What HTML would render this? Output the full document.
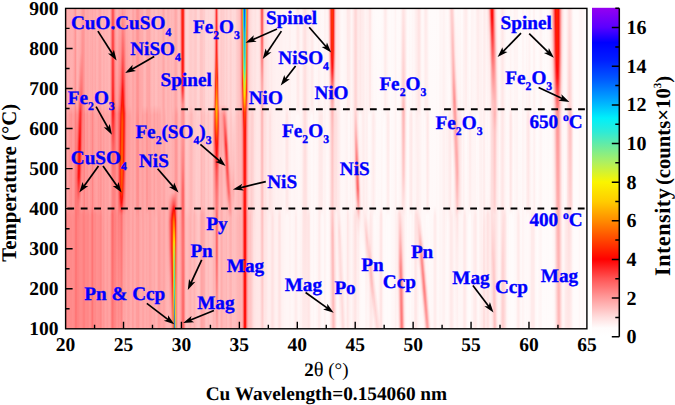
<!DOCTYPE html>
<html><head><meta charset="utf-8"><style>
html,body{margin:0;padding:0;background:#fff;width:675px;height:405px;overflow:hidden;font-family:"Liberation Serif",serif}
text{font-kerning:normal;text-rendering:geometricPrecision}
</style></head><body>
<svg width="675" height="405" viewBox="0 0 675 405" style="position:absolute;left:0;top:0"><defs><linearGradient id="g0" x2="0" y2="1"><stop offset="0" stop-color="#ffa3a3"/><stop offset="0.31" stop-color="#ffa0a0"/><stop offset="0.3723" stop-color="#ff9c9c"/><stop offset="0.6121" stop-color="#ff9a9a"/><stop offset="0.6433" stop-color="#ff8080"/><stop offset="1" stop-color="#ff7f7f"/></linearGradient><linearGradient id="g1" x2="0" y2="1"><stop offset="0" stop-color="#ffafaf"/><stop offset="0.3069" stop-color="#ffacac"/><stop offset="0.3411" stop-color="#ffa3a3"/><stop offset="0.6153" stop-color="#ffa0a0"/><stop offset="0.6433" stop-color="#ff8d8d"/><stop offset="1" stop-color="#ff8d8d"/></linearGradient><linearGradient id="g2" x2="0" y2="1"><stop offset="0" stop-color="#ffafaf"/><stop offset="0.3037" stop-color="#ffacac"/><stop offset="0.3349" stop-color="#ff9e9e"/><stop offset="0.6153" stop-color="#ff9c9c"/><stop offset="0.6433" stop-color="#ff8c8c"/><stop offset="1" stop-color="#ff8c8c"/></linearGradient><linearGradient id="g3" x2="0" y2="1"><stop offset="0" stop-color="#ffaeae"/><stop offset="0.3037" stop-color="#ffabab"/><stop offset="0.3318" stop-color="#ff9898"/><stop offset="0.6215" stop-color="#ff9595"/><stop offset="0.6495" stop-color="#ff8c8c"/><stop offset="1" stop-color="#ff8c8c"/></linearGradient><linearGradient id="g4" x2="0" y2="1"><stop offset="0" stop-color="#ffafaf"/><stop offset="0.3006" stop-color="#ffaeae"/><stop offset="0.3318" stop-color="#ff9696"/><stop offset="0.6215" stop-color="#ff9292"/><stop offset="0.6526" stop-color="#ff8a8a"/><stop offset="1" stop-color="#ff8a8a"/></linearGradient><linearGradient id="g5" x2="0" y2="1"><stop offset="0" stop-color="#ffb0b0"/><stop offset="0.3006" stop-color="#ffafaf"/><stop offset="0.3318" stop-color="#ff9393"/><stop offset="0.6246" stop-color="#ff9090"/><stop offset="0.6651" stop-color="#ff8a8a"/><stop offset="1" stop-color="#ff8a8a"/></linearGradient><linearGradient id="g6" x2="0" y2="1"><stop offset="0" stop-color="#ffb0b0"/><stop offset="0.3037" stop-color="#ffadad"/><stop offset="0.3318" stop-color="#ff9b9b"/><stop offset="0.6153" stop-color="#ff9999"/><stop offset="0.6464" stop-color="#ff8d8d"/><stop offset="1" stop-color="#ff8d8d"/></linearGradient><linearGradient id="g7" x2="0" y2="1"><stop offset="0" stop-color="#ffabab"/><stop offset="0.3037" stop-color="#ffa8a8"/><stop offset="0.3349" stop-color="#ff9b9b"/><stop offset="0.6153" stop-color="#ff9898"/><stop offset="0.6464" stop-color="#ff8b8b"/><stop offset="1" stop-color="#ff8b8b"/></linearGradient><linearGradient id="g8" x2="0" y2="1"><stop offset="0" stop-color="#ffa0a0"/><stop offset="0.3037" stop-color="#ff9e9e"/><stop offset="0.3349" stop-color="#ff9292"/><stop offset="0.6215" stop-color="#ff8c8c"/><stop offset="0.6558" stop-color="#ff8686"/><stop offset="1" stop-color="#ff8686"/></linearGradient><linearGradient id="g9" x2="0" y2="1"><stop offset="0" stop-color="#ff9595"/><stop offset="0.3037" stop-color="#ff9292"/><stop offset="0.3318" stop-color="#ff8181"/><stop offset="0.581" stop-color="#ff7777"/><stop offset="1" stop-color="#ff7676"/></linearGradient><linearGradient id="g10" x2="0" y2="1"><stop offset="0" stop-color="#ffabab"/><stop offset="0.3006" stop-color="#ffa7a7"/><stop offset="0.3318" stop-color="#ff8d8d"/><stop offset="0.4782" stop-color="#ff7676"/><stop offset="0.5343" stop-color="#ff6969"/><stop offset="0.6153" stop-color="#ff7979"/><stop offset="0.6433" stop-color="#ff7575"/><stop offset="1" stop-color="#ff7878"/></linearGradient><linearGradient id="g11" x2="0" y2="1"><stop offset="0" stop-color="#ffb5b5"/><stop offset="0.2726" stop-color="#ffafaf"/><stop offset="0.3037" stop-color="#ffa7a7"/><stop offset="0.3318" stop-color="#ff8e8e"/><stop offset="0.4159" stop-color="#ff6e6e"/><stop offset="0.528" stop-color="#ff4141"/><stop offset="0.5966" stop-color="#ff7171"/><stop offset="0.6184" stop-color="#ff7a7a"/><stop offset="0.6433" stop-color="#ff7c7c"/><stop offset="0.6682" stop-color="#ff8181"/><stop offset="1" stop-color="#ff8181"/></linearGradient><linearGradient id="g12" x2="0" y2="1"><stop offset="0" stop-color="#ffb4b4"/><stop offset="0.2009" stop-color="#ffadad"/><stop offset="0.2788" stop-color="#ff9d9d"/><stop offset="0.3069" stop-color="#ff8989"/><stop offset="0.3349" stop-color="#ff6e6e"/><stop offset="0.3972" stop-color="#ff4646"/><stop offset="0.4377" stop-color="#ff2b2a"/><stop offset="0.5156" stop-color="#ff1313"/><stop offset="0.528" stop-color="#ff1616"/><stop offset="0.5997" stop-color="#ff7474"/><stop offset="0.6184" stop-color="#ff7d7d"/><stop offset="0.6433" stop-color="#ff7e7e"/><stop offset="0.6651" stop-color="#ff8383"/><stop offset="1" stop-color="#ff8383"/></linearGradient><linearGradient id="g13" x2="0" y2="1"><stop offset="0" stop-color="#ffb2b2"/><stop offset="0.1542" stop-color="#ffabab"/><stop offset="0.2414" stop-color="#ff9292"/><stop offset="0.2788" stop-color="#ff7d7d"/><stop offset="0.3069" stop-color="#ff6060"/><stop offset="0.3287" stop-color="#ff4242"/><stop offset="0.4159" stop-color="#ff0b0b"/><stop offset="0.4813" stop-color="#ff0e0e"/><stop offset="0.5249" stop-color="#ff1f1f"/><stop offset="0.5748" stop-color="#ff6868"/><stop offset="0.609" stop-color="#ff8888"/><stop offset="0.6433" stop-color="#ff8585"/><stop offset="0.7648" stop-color="#ff8888"/><stop offset="1" stop-color="#ff8888"/></linearGradient><linearGradient id="g14" x2="0" y2="1"><stop offset="0" stop-color="#ffafaf"/><stop offset="0.1386" stop-color="#ffa6a6"/><stop offset="0.2664" stop-color="#ff7272"/><stop offset="0.3006" stop-color="#ff5252"/><stop offset="0.3255" stop-color="#ff2e2e"/><stop offset="0.3847" stop-color="#ff1f1f"/><stop offset="0.4283" stop-color="#ff2121"/><stop offset="0.5312" stop-color="#ff5d5d"/><stop offset="0.581" stop-color="#ff8787"/><stop offset="0.6121" stop-color="#ff9494"/><stop offset="0.6433" stop-color="#ff8989"/><stop offset="1" stop-color="#ff8b8b"/></linearGradient><linearGradient id="g15" x2="0" y2="1"><stop offset="0" stop-color="#ffa6a6"/><stop offset="0.1355" stop-color="#ff9a9a"/><stop offset="0.2539" stop-color="#ff7272"/><stop offset="0.3318" stop-color="#ff5050"/><stop offset="0.4346" stop-color="#ff6565"/><stop offset="0.5872" stop-color="#ff9a9a"/><stop offset="0.6153" stop-color="#ff9b9b"/><stop offset="0.6433" stop-color="#ff8a8a"/><stop offset="1" stop-color="#ff8a8a"/></linearGradient><linearGradient id="g16" x2="0" y2="1"><stop offset="0" stop-color="#ff9d9d"/><stop offset="0.1386" stop-color="#ff9191"/><stop offset="0.2321" stop-color="#ff8080"/><stop offset="0.3162" stop-color="#ff7575"/><stop offset="0.581" stop-color="#ff9797"/><stop offset="0.6153" stop-color="#ff9696"/><stop offset="0.6433" stop-color="#ff8686"/><stop offset="1" stop-color="#ff8686"/></linearGradient><linearGradient id="g17" x2="0" y2="1"><stop offset="0" stop-color="#ff9999"/><stop offset="0.257" stop-color="#ff8f8f"/><stop offset="0.3069" stop-color="#ff8b8b"/><stop offset="0.3349" stop-color="#ff8383"/><stop offset="0.6059" stop-color="#ff8d8d"/><stop offset="0.6495" stop-color="#ff7f7f"/><stop offset="1" stop-color="#ff7f7f"/></linearGradient><linearGradient id="g18" x2="0" y2="1"><stop offset="0" stop-color="#ff9e9e"/><stop offset="0.3006" stop-color="#ff9b9b"/><stop offset="0.3318" stop-color="#ff8484"/><stop offset="0.6215" stop-color="#ff8383"/><stop offset="0.6994" stop-color="#ff7f7f"/><stop offset="1" stop-color="#ff7f7f"/></linearGradient><linearGradient id="g19" x2="0" y2="1"><stop offset="0" stop-color="#ffacac"/><stop offset="0.3037" stop-color="#ffa9a9"/><stop offset="0.3318" stop-color="#ff9a9a"/><stop offset="0.6153" stop-color="#ff9797"/><stop offset="0.6464" stop-color="#ff8888"/><stop offset="1" stop-color="#ff8888"/></linearGradient><linearGradient id="g20" x2="0" y2="1"><stop offset="0" stop-color="#ffabab"/><stop offset="0.3037" stop-color="#ffa9a9"/><stop offset="0.3318" stop-color="#ff9898"/><stop offset="0.6153" stop-color="#ff9595"/><stop offset="0.6464" stop-color="#ff8989"/><stop offset="1" stop-color="#ff8989"/></linearGradient><linearGradient id="g21" x2="0" y2="1"><stop offset="0" stop-color="#ffa9a9"/><stop offset="0.3037" stop-color="#ffa6a6"/><stop offset="0.3318" stop-color="#ff9494"/><stop offset="0.6153" stop-color="#ff9292"/><stop offset="0.6495" stop-color="#ff8787"/><stop offset="1" stop-color="#ff8787"/></linearGradient><linearGradient id="g22" x2="0" y2="1"><stop offset="0" stop-color="#ffabab"/><stop offset="0.3037" stop-color="#ffa9a9"/><stop offset="0.338" stop-color="#ff9e9e"/><stop offset="0.6153" stop-color="#ff9b9b"/><stop offset="0.6433" stop-color="#ff8989"/><stop offset="1" stop-color="#ff8989"/></linearGradient><linearGradient id="g23" x2="0" y2="1"><stop offset="0" stop-color="#ffafaf"/><stop offset="0.3037" stop-color="#ffadad"/><stop offset="0.3349" stop-color="#ffa0a0"/><stop offset="0.6153" stop-color="#ff9e9e"/><stop offset="0.6464" stop-color="#ff9090"/><stop offset="1" stop-color="#ff9090"/></linearGradient><linearGradient id="g24" x2="0" y2="1"><stop offset="0" stop-color="#ffacac"/><stop offset="0.3037" stop-color="#ffa9a9"/><stop offset="0.3318" stop-color="#ff9999"/><stop offset="0.6184" stop-color="#ff9696"/><stop offset="0.6526" stop-color="#ff8d8d"/><stop offset="1" stop-color="#ff8d8d"/></linearGradient><linearGradient id="g25" x2="0" y2="1"><stop offset="0" stop-color="#ffacac"/><stop offset="0.3006" stop-color="#ffaaaa"/><stop offset="0.3318" stop-color="#ff9595"/><stop offset="0.6121" stop-color="#ff9393"/><stop offset="0.6433" stop-color="#ff7f7f"/><stop offset="1" stop-color="#ff7f7f"/></linearGradient><linearGradient id="g26" x2="0" y2="1"><stop offset="0" stop-color="#ffa8a8"/><stop offset="0.3006" stop-color="#ffa5a5"/><stop offset="0.3287" stop-color="#ff8787"/><stop offset="0.6153" stop-color="#ff8383"/><stop offset="0.6464" stop-color="#ff7474"/><stop offset="1" stop-color="#ff7474"/></linearGradient><linearGradient id="g27" x2="0" y2="1"><stop offset="0" stop-color="#ffaeae"/><stop offset="0.3006" stop-color="#ffacac"/><stop offset="0.3318" stop-color="#ff9595"/><stop offset="0.6153" stop-color="#ff9292"/><stop offset="0.6464" stop-color="#ff8484"/><stop offset="1" stop-color="#ff8484"/></linearGradient><linearGradient id="g28" x2="0" y2="1"><stop offset="0" stop-color="#ffaeae"/><stop offset="0.3037" stop-color="#ffabab"/><stop offset="0.3349" stop-color="#ff9e9e"/><stop offset="0.6153" stop-color="#ff9b9b"/><stop offset="0.6433" stop-color="#ff8a8a"/><stop offset="1" stop-color="#ff8a8a"/></linearGradient><linearGradient id="g29" x2="0" y2="1"><stop offset="0" stop-color="#ffaaaa"/><stop offset="0.31" stop-color="#ffa7a7"/><stop offset="0.3536" stop-color="#ffa1a1"/><stop offset="0.6153" stop-color="#ff9e9e"/><stop offset="0.6433" stop-color="#ff8989"/><stop offset="1" stop-color="#ff8989"/></linearGradient><linearGradient id="g30" x2="0" y2="1"><stop offset="0" stop-color="#ffb2b2"/><stop offset="0.3037" stop-color="#ffb0b0"/><stop offset="0.3349" stop-color="#ffa3a3"/><stop offset="0.6153" stop-color="#ffa1a1"/><stop offset="0.6433" stop-color="#ff9090"/><stop offset="1" stop-color="#ff9090"/></linearGradient><linearGradient id="g31" x2="0" y2="1"><stop offset="0" stop-color="#ffb3b3"/><stop offset="0.3037" stop-color="#ffb0b0"/><stop offset="0.3318" stop-color="#ffa0a0"/><stop offset="0.6153" stop-color="#ff9e9e"/><stop offset="0.6464" stop-color="#ff9090"/><stop offset="1" stop-color="#ff9090"/></linearGradient><linearGradient id="g32" x2="0" y2="1"><stop offset="0" stop-color="#ffadad"/><stop offset="0.3037" stop-color="#ffaaaa"/><stop offset="0.3318" stop-color="#ff9999"/><stop offset="0.6184" stop-color="#ff9696"/><stop offset="0.6526" stop-color="#ff8e8e"/><stop offset="1" stop-color="#ff8e8e"/></linearGradient><linearGradient id="g33" x2="0" y2="1"><stop offset="0" stop-color="#ffa7a7"/><stop offset="0.3069" stop-color="#ffa5a5"/><stop offset="0.3411" stop-color="#ff9c9c"/><stop offset="0.6153" stop-color="#ff9a9a"/><stop offset="0.6464" stop-color="#ff8d8d"/><stop offset="1" stop-color="#ff8d8d"/></linearGradient><linearGradient id="g34" x2="0" y2="1"><stop offset="0" stop-color="#ffa8a8"/><stop offset="0.3037" stop-color="#ffa5a5"/><stop offset="0.3318" stop-color="#ff9494"/><stop offset="0.6153" stop-color="#ff9292"/><stop offset="0.6495" stop-color="#ff8686"/><stop offset="1" stop-color="#ff8686"/></linearGradient><linearGradient id="g35" x2="0" y2="1"><stop offset="0" stop-color="#ffb0b0"/><stop offset="0.3037" stop-color="#ffaeae"/><stop offset="0.3318" stop-color="#ff9a9a"/><stop offset="0.6184" stop-color="#ff9696"/><stop offset="0.6495" stop-color="#ff8d8d"/><stop offset="1" stop-color="#ff8d8d"/></linearGradient><linearGradient id="g36" x2="0" y2="1"><stop offset="0" stop-color="#ffb5b5"/><stop offset="0.3037" stop-color="#ffb3b3"/><stop offset="0.3349" stop-color="#ffa3a3"/><stop offset="0.6184" stop-color="#ffa1a1"/><stop offset="0.6589" stop-color="#ff9a9a"/><stop offset="1" stop-color="#ff9a9a"/></linearGradient><linearGradient id="g37" x2="0" y2="1"><stop offset="0" stop-color="#ffafaf"/><stop offset="0.3037" stop-color="#ffacac"/><stop offset="0.3349" stop-color="#ff9c9c"/><stop offset="0.6215" stop-color="#ff9a9a"/><stop offset="0.6931" stop-color="#ff9696"/><stop offset="1" stop-color="#ff9696"/></linearGradient><linearGradient id="g38" x2="0" y2="1"><stop offset="0" stop-color="#ffb1b1"/><stop offset="0.3037" stop-color="#ffaeae"/><stop offset="0.3349" stop-color="#ffa1a1"/><stop offset="0.6246" stop-color="#ff9e9e"/><stop offset="1" stop-color="#ff9b9b"/></linearGradient><linearGradient id="g39" x2="0" y2="1"><stop offset="0" stop-color="#ffb5b5"/><stop offset="0.3037" stop-color="#ffb3b3"/><stop offset="0.3349" stop-color="#ffa6a6"/><stop offset="0.6277" stop-color="#ffa4a4"/><stop offset="1" stop-color="#ffa2a2"/></linearGradient><linearGradient id="g40" x2="0" y2="1"><stop offset="0" stop-color="#ffb3b3"/><stop offset="0.3037" stop-color="#ffb0b0"/><stop offset="0.3349" stop-color="#ffa3a3"/><stop offset="0.6246" stop-color="#ffa1a1"/><stop offset="0.8458" stop-color="#ff9e9e"/><stop offset="1" stop-color="#ff9e9e"/></linearGradient><linearGradient id="g41" x2="0" y2="1"><stop offset="0" stop-color="#ffb3b3"/><stop offset="0.3037" stop-color="#ffb0b0"/><stop offset="0.3349" stop-color="#ffa2a2"/><stop offset="0.6215" stop-color="#ffa0a0"/><stop offset="0.6682" stop-color="#ff9b9b"/><stop offset="1" stop-color="#ff9b9b"/></linearGradient><linearGradient id="g42" x2="0" y2="1"><stop offset="0" stop-color="#ffb7b7"/><stop offset="0.3037" stop-color="#ffb4b4"/><stop offset="0.3349" stop-color="#ffa5a5"/><stop offset="0.6246" stop-color="#ffa3a3"/><stop offset="1" stop-color="#ffa1a1"/></linearGradient><linearGradient id="g43" x2="0" y2="1"><stop offset="0" stop-color="#ffb9b9"/><stop offset="0.3037" stop-color="#ffb4b4"/><stop offset="0.3349" stop-color="#ffa9a9"/><stop offset="0.6184" stop-color="#ffaaaa"/><stop offset="0.6558" stop-color="#ffa3a3"/><stop offset="1" stop-color="#ffa3a3"/></linearGradient><linearGradient id="g44" x2="0" y2="1"><stop offset="0" stop-color="#ffa9a9"/><stop offset="0.3037" stop-color="#ff9f9f"/><stop offset="0.3349" stop-color="#ff9797"/><stop offset="0.5685" stop-color="#ffa6a6"/><stop offset="0.6184" stop-color="#ffa3a3"/><stop offset="0.6464" stop-color="#ff9898"/><stop offset="1" stop-color="#ff9a9a"/></linearGradient><linearGradient id="g45" x2="0" y2="1"><stop offset="0" stop-color="#ff8282"/><stop offset="0.2788" stop-color="#ff6c6c"/><stop offset="0.3318" stop-color="#ff6262"/><stop offset="0.4502" stop-color="#ff8585"/><stop offset="0.5498" stop-color="#ff9494"/><stop offset="0.6121" stop-color="#ff9393"/><stop offset="0.6433" stop-color="#ff7d7d"/><stop offset="1" stop-color="#ff8181"/></linearGradient><linearGradient id="g46" x2="0" y2="1"><stop offset="0" stop-color="#ff5656"/><stop offset="0.2414" stop-color="#ff3333"/><stop offset="0.3069" stop-color="#ff2020"/><stop offset="0.3318" stop-color="#ff2525"/><stop offset="0.4252" stop-color="#ff6363"/><stop offset="0.5343" stop-color="#ff8383"/><stop offset="0.6121" stop-color="#ff8484"/><stop offset="0.6433" stop-color="#ff6c6c"/><stop offset="1" stop-color="#ff7373"/></linearGradient><linearGradient id="g47" x2="0" y2="1"><stop offset="0" stop-color="#ff5f5f"/><stop offset="0.2352" stop-color="#ff3939"/><stop offset="0.3224" stop-color="#ff1e1e"/><stop offset="0.366" stop-color="#ff3a3a"/><stop offset="0.4346" stop-color="#ff6262"/><stop offset="0.5374" stop-color="#ff8080"/><stop offset="0.6153" stop-color="#ff8080"/><stop offset="0.6464" stop-color="#ff7474"/><stop offset="1" stop-color="#ff7c7c"/></linearGradient><linearGradient id="g48" x2="0" y2="1"><stop offset="0" stop-color="#ff8989"/><stop offset="0.2632" stop-color="#ff6c6c"/><stop offset="0.3037" stop-color="#ff6060"/><stop offset="0.3287" stop-color="#ff4d4d"/><stop offset="0.4502" stop-color="#ff7171"/><stop offset="0.5498" stop-color="#ff8181"/><stop offset="0.6246" stop-color="#ff8181"/><stop offset="0.7586" stop-color="#ff8080"/><stop offset="1" stop-color="#ff8585"/></linearGradient><linearGradient id="g49" x2="0" y2="1"><stop offset="0" stop-color="#ffa4a4"/><stop offset="0.2882" stop-color="#ff8e8e"/><stop offset="0.3069" stop-color="#ff8585"/><stop offset="0.3287" stop-color="#ff7171"/><stop offset="0.6028" stop-color="#ff8989"/><stop offset="0.6589" stop-color="#ff8080"/><stop offset="1" stop-color="#ff8888"/></linearGradient><linearGradient id="g50" x2="0" y2="1"><stop offset="0" stop-color="#ffafaf"/><stop offset="0.2975" stop-color="#ff9c9c"/><stop offset="0.3318" stop-color="#ff8787"/><stop offset="0.6153" stop-color="#ff9494"/><stop offset="0.6464" stop-color="#ff8888"/><stop offset="1" stop-color="#ff9191"/></linearGradient><linearGradient id="g51" x2="0" y2="1"><stop offset="0" stop-color="#ffb2b2"/><stop offset="0.2944" stop-color="#ff9d9d"/><stop offset="0.3318" stop-color="#ff8585"/><stop offset="0.6184" stop-color="#ff9191"/><stop offset="0.6495" stop-color="#ff8989"/><stop offset="1" stop-color="#ff9393"/></linearGradient><linearGradient id="g52" x2="0" y2="1"><stop offset="0" stop-color="#ffabab"/><stop offset="0.2601" stop-color="#ff9494"/><stop offset="0.3006" stop-color="#ff8a8a"/><stop offset="0.3287" stop-color="#ff6f6f"/><stop offset="0.5685" stop-color="#ff6d6d"/><stop offset="0.6589" stop-color="#ff8181"/><stop offset="1" stop-color="#ff8d8d"/></linearGradient><linearGradient id="g53" x2="0" y2="1"><stop offset="0" stop-color="#ffa7a7"/><stop offset="0.2259" stop-color="#ff8d8d"/><stop offset="0.3006" stop-color="#ff7575"/><stop offset="0.3287" stop-color="#ff5858"/><stop offset="0.4564" stop-color="#ff4441"/><stop offset="0.5654" stop-color="#ff3e3b"/><stop offset="0.5935" stop-color="#ff4c4c"/><stop offset="0.6277" stop-color="#ff6e6e"/><stop offset="0.6464" stop-color="#ff8181"/><stop offset="1" stop-color="#ff9292"/></linearGradient><linearGradient id="g54" x2="0" y2="1"><stop offset="0" stop-color="#ffa9a9"/><stop offset="0.1542" stop-color="#ff9090"/><stop offset="0.2414" stop-color="#ff7474"/><stop offset="0.3006" stop-color="#ff5151"/><stop offset="0.3287" stop-color="#ff2d27"/><stop offset="0.3847" stop-color="#ff1b10"/><stop offset="0.4065" stop-color="#ff190b"/><stop offset="0.4875" stop-color="#ff2d09"/><stop offset="0.5654" stop-color="#ff2708"/><stop offset="0.5872" stop-color="#ff120d"/><stop offset="0.609" stop-color="#ff2c2c"/><stop offset="0.6402" stop-color="#ff7272"/><stop offset="0.6495" stop-color="#ff7979"/><stop offset="1" stop-color="#ff9090"/></linearGradient><linearGradient id="g55" x2="0" y2="1"><stop offset="0" stop-color="#ffa4a4"/><stop offset="0.1355" stop-color="#ff7d7d"/><stop offset="0.229" stop-color="#ff5252"/><stop offset="0.2882" stop-color="#ff221e"/><stop offset="0.3037" stop-color="#ff130c"/><stop offset="0.3349" stop-color="#ff3404"/><stop offset="0.366" stop-color="#ff4202"/><stop offset="0.4813" stop-color="#ff6000"/><stop offset="0.5623" stop-color="#ff4a00"/><stop offset="0.5903" stop-color="#ff1902"/><stop offset="0.6059" stop-color="#ff0d0c"/><stop offset="0.6184" stop-color="#ff2b2b"/><stop offset="0.6402" stop-color="#ff6767"/><stop offset="0.6464" stop-color="#ff6f6f"/><stop offset="1" stop-color="#ff8888"/></linearGradient><linearGradient id="g56" x2="0" y2="1"><stop offset="0" stop-color="#ff9c9c"/><stop offset="0.1449" stop-color="#ff6161"/><stop offset="0.2321" stop-color="#ff2828"/><stop offset="0.2601" stop-color="#ff0e0c"/><stop offset="0.3037" stop-color="#ff1f00"/><stop offset="0.3349" stop-color="#ff4300"/><stop offset="0.3567" stop-color="#ff5000"/><stop offset="0.4751" stop-color="#ff5900"/><stop offset="0.5654" stop-color="#ff3508"/><stop offset="0.5872" stop-color="#ff150e"/><stop offset="0.5935" stop-color="#ff1a16"/><stop offset="0.6121" stop-color="#ff3b3b"/><stop offset="0.6371" stop-color="#ff7373"/><stop offset="0.6464" stop-color="#ff8080"/><stop offset="1" stop-color="#ff9696"/></linearGradient><linearGradient id="g57" x2="0" y2="1"><stop offset="0" stop-color="#ffa2a2"/><stop offset="0.2227" stop-color="#ff4242"/><stop offset="0.2726" stop-color="#ff201e"/><stop offset="0.3069" stop-color="#ff120a"/><stop offset="0.3536" stop-color="#ff2705"/><stop offset="0.4782" stop-color="#ff1b0a"/><stop offset="0.4938" stop-color="#ff1b0f"/><stop offset="0.5654" stop-color="#ff403a"/><stop offset="0.6121" stop-color="#ff7171"/><stop offset="0.6433" stop-color="#ff9595"/><stop offset="1" stop-color="#ffa5a5"/></linearGradient><linearGradient id="g58" x2="0" y2="1"><stop offset="0" stop-color="#ffa3a3"/><stop offset="0.204" stop-color="#ff6b6b"/><stop offset="0.2975" stop-color="#ff4c4c"/><stop offset="0.3287" stop-color="#ff2b27"/><stop offset="0.366" stop-color="#ff2d29"/><stop offset="0.4938" stop-color="#ff4a4a"/><stop offset="0.5748" stop-color="#ff6c6c"/><stop offset="0.6215" stop-color="#ff8a8a"/><stop offset="0.6464" stop-color="#ff9999"/><stop offset="1" stop-color="#ffa4a4"/></linearGradient><linearGradient id="g59" x2="0" y2="1"><stop offset="0" stop-color="#ffa7a7"/><stop offset="0.2134" stop-color="#ff8b8b"/><stop offset="0.3006" stop-color="#ff7e7e"/><stop offset="0.3287" stop-color="#ff6565"/><stop offset="0.5093" stop-color="#ff7e7e"/><stop offset="0.6184" stop-color="#ff9494"/><stop offset="0.6464" stop-color="#ff9f9f"/><stop offset="1" stop-color="#ffa6a6"/></linearGradient><linearGradient id="g60" x2="0" y2="1"><stop offset="0" stop-color="#ffaeae"/><stop offset="0.3037" stop-color="#ff9a9a"/><stop offset="0.3349" stop-color="#ff8f8f"/><stop offset="0.7056" stop-color="#ffa6a6"/><stop offset="1" stop-color="#ffabab"/></linearGradient><linearGradient id="g61" x2="0" y2="1"><stop offset="0" stop-color="#ffadad"/><stop offset="0.31" stop-color="#ff9e9e"/><stop offset="0.3442" stop-color="#ff9999"/><stop offset="0.6589" stop-color="#ffa0a0"/><stop offset="1" stop-color="#ffa4a4"/></linearGradient><linearGradient id="g62" x2="0" y2="1"><stop offset="0" stop-color="#ffb0b0"/><stop offset="0.3037" stop-color="#ffa6a6"/><stop offset="0.338" stop-color="#ff9b9b"/><stop offset="0.7336" stop-color="#ffa0a0"/><stop offset="1" stop-color="#ffa2a2"/></linearGradient><linearGradient id="g63" x2="0" y2="1"><stop offset="0" stop-color="#ffb0b0"/><stop offset="0.3037" stop-color="#ffa8a8"/><stop offset="0.338" stop-color="#ff9d9d"/><stop offset="1" stop-color="#ffa5a5"/></linearGradient><linearGradient id="g64" x2="0" y2="1"><stop offset="0" stop-color="#ffb3b3"/><stop offset="0.3037" stop-color="#ffacac"/><stop offset="0.3349" stop-color="#ffa1a1"/><stop offset="0.6277" stop-color="#ffa7a7"/><stop offset="1" stop-color="#ffabab"/></linearGradient><linearGradient id="g65" x2="0" y2="1"><stop offset="0" stop-color="#ffb2b2"/><stop offset="0.3069" stop-color="#ffacac"/><stop offset="0.3442" stop-color="#ffa5a5"/><stop offset="1" stop-color="#ffaaaa"/></linearGradient><linearGradient id="g66" x2="0" y2="1"><stop offset="0" stop-color="#ffa7a7"/><stop offset="0.6246" stop-color="#ffa1a1"/><stop offset="0.6963" stop-color="#ff9e9e"/><stop offset="1" stop-color="#ff9e9e"/></linearGradient><linearGradient id="g67" x2="0" y2="1"><stop offset="0" stop-color="#ffa4a4"/><stop offset="1" stop-color="#ffa1a1"/></linearGradient><linearGradient id="g68" x2="0" y2="1"><stop offset="0" stop-color="#ffacac"/><stop offset="0.3255" stop-color="#ffa9a9"/><stop offset="1" stop-color="#ffaaaa"/></linearGradient><linearGradient id="g69" x2="0" y2="1"><stop offset="0" stop-color="#ffaaaa"/><stop offset="0.31" stop-color="#ffa7a7"/><stop offset="0.366" stop-color="#ffa2a2"/><stop offset="0.6277" stop-color="#ffa6a6"/><stop offset="1" stop-color="#ffa8a8"/></linearGradient><linearGradient id="g70" x2="0" y2="1"><stop offset="0" stop-color="#ff9b9b"/><stop offset="0.3069" stop-color="#ff9898"/><stop offset="0.3505" stop-color="#ff9292"/><stop offset="0.6184" stop-color="#ff9595"/><stop offset="0.6558" stop-color="#ff9d9d"/><stop offset="1" stop-color="#ff9d9d"/></linearGradient><linearGradient id="g71" x2="0" y2="1"><stop offset="0" stop-color="#ff9595"/><stop offset="0.3069" stop-color="#ff9292"/><stop offset="0.3505" stop-color="#ff8c8c"/><stop offset="0.6153" stop-color="#ff8f8f"/><stop offset="0.6464" stop-color="#ff9c9c"/><stop offset="1" stop-color="#ff9c9c"/></linearGradient><linearGradient id="g72" x2="0" y2="1"><stop offset="0" stop-color="#ff9898"/><stop offset="0.3069" stop-color="#ff9696"/><stop offset="0.3442" stop-color="#ff8e8e"/><stop offset="0.6184" stop-color="#ff9191"/><stop offset="0.6526" stop-color="#ff9a9a"/><stop offset="1" stop-color="#ff9a9a"/></linearGradient><linearGradient id="g73" x2="0" y2="1"><stop offset="0" stop-color="#ffa3a3"/><stop offset="1" stop-color="#ffa4a4"/></linearGradient><linearGradient id="g74" x2="0" y2="1"><stop offset="0" stop-color="#ffa9a9"/><stop offset="0.3255" stop-color="#ffa6a6"/><stop offset="0.6246" stop-color="#ffa8a8"/><stop offset="1" stop-color="#ffabab"/></linearGradient><linearGradient id="g75" x2="0" y2="1"><stop offset="0" stop-color="#ffabab"/><stop offset="0.31" stop-color="#ffa8a8"/><stop offset="0.3567" stop-color="#ffa3a3"/><stop offset="0.6184" stop-color="#ffa5a5"/><stop offset="0.6651" stop-color="#ffabab"/><stop offset="1" stop-color="#ffabab"/></linearGradient><linearGradient id="g76" x2="0" y2="1"><stop offset="0" stop-color="#ffabab"/><stop offset="0.3037" stop-color="#ffa9a9"/><stop offset="0.3349" stop-color="#ff9d9d"/><stop offset="0.6215" stop-color="#ffa0a0"/><stop offset="0.6963" stop-color="#ffa4a4"/><stop offset="1" stop-color="#ffa4a4"/></linearGradient><linearGradient id="g77" x2="0" y2="1"><stop offset="0" stop-color="#ffb3b3"/><stop offset="0.3037" stop-color="#ffb0b0"/><stop offset="0.3349" stop-color="#ffa2a2"/><stop offset="1" stop-color="#ffa3a3"/></linearGradient><linearGradient id="g78" x2="0" y2="1"><stop offset="0" stop-color="#ffb9b9"/><stop offset="0.3037" stop-color="#ffb6b6"/><stop offset="0.3318" stop-color="#ffa6a6"/><stop offset="0.6277" stop-color="#ffa9a9"/><stop offset="1" stop-color="#ffabab"/></linearGradient><linearGradient id="g79" x2="0" y2="1"><stop offset="0" stop-color="#ffb7b7"/><stop offset="0.3037" stop-color="#ffb4b4"/><stop offset="0.3318" stop-color="#ffa5a5"/><stop offset="0.6215" stop-color="#ffa7a7"/><stop offset="0.69" stop-color="#ffacac"/><stop offset="1" stop-color="#ffacac"/></linearGradient><linearGradient id="g80" x2="0" y2="1"><stop offset="0" stop-color="#ffabab"/><stop offset="0.3037" stop-color="#ffa8a8"/><stop offset="0.3318" stop-color="#ff9494"/><stop offset="0.6153" stop-color="#ff9797"/><stop offset="0.6433" stop-color="#ffa6a6"/><stop offset="1" stop-color="#ffa6a6"/></linearGradient><linearGradient id="g81" x2="0" y2="1"><stop offset="0" stop-color="#ffa6a6"/><stop offset="0.3037" stop-color="#ffa4a4"/><stop offset="0.3318" stop-color="#ff9595"/><stop offset="0.6121" stop-color="#ff9696"/><stop offset="0.6433" stop-color="#ffa9a9"/><stop offset="1" stop-color="#ffa9a9"/></linearGradient><linearGradient id="g82" x2="0" y2="1"><stop offset="0" stop-color="#ffa7a7"/><stop offset="0.3069" stop-color="#ffa4a4"/><stop offset="0.3505" stop-color="#ff9e9e"/><stop offset="0.6184" stop-color="#ffa1a1"/><stop offset="0.6526" stop-color="#ffa9a9"/><stop offset="1" stop-color="#ffa9a9"/></linearGradient><linearGradient id="g83" x2="0" y2="1"><stop offset="0" stop-color="#ffa6a6"/><stop offset="0.31" stop-color="#ffa2a2"/><stop offset="0.3536" stop-color="#ff9d9d"/><stop offset="0.6246" stop-color="#ffa0a0"/><stop offset="1" stop-color="#ffa3a3"/></linearGradient><linearGradient id="g84" x2="0" y2="1"><stop offset="0" stop-color="#ffb0b0"/><stop offset="0.3037" stop-color="#ffaeae"/><stop offset="0.3349" stop-color="#ff9f9f"/><stop offset="1" stop-color="#ffa3a3"/></linearGradient><linearGradient id="g85" x2="0" y2="1"><stop offset="0" stop-color="#ffb9b9"/><stop offset="0.3037" stop-color="#ffb6b6"/><stop offset="0.3349" stop-color="#ffa8a8"/><stop offset="1" stop-color="#ffa6a6"/></linearGradient><linearGradient id="g86" x2="0" y2="1"><stop offset="0" stop-color="#ffbcbc"/><stop offset="0.3037" stop-color="#ffb9b9"/><stop offset="0.3349" stop-color="#ffabab"/><stop offset="1" stop-color="#ffabab"/></linearGradient><linearGradient id="g87" x2="0" y2="1"><stop offset="0" stop-color="#ffb8b8"/><stop offset="0.3037" stop-color="#ffb5b5"/><stop offset="0.3318" stop-color="#ffa4a4"/><stop offset="0.6184" stop-color="#ffa6a6"/><stop offset="0.6713" stop-color="#ffabab"/><stop offset="1" stop-color="#ffabab"/></linearGradient><linearGradient id="g88" x2="0" y2="1"><stop offset="0" stop-color="#ffb6b6"/><stop offset="0.3006" stop-color="#ffb4b4"/><stop offset="0.3318" stop-color="#ff9e9e"/><stop offset="0.6184" stop-color="#ffa0a0"/><stop offset="0.6558" stop-color="#ffa7a7"/><stop offset="1" stop-color="#ffa7a7"/></linearGradient><linearGradient id="g89" x2="0" y2="1"><stop offset="0" stop-color="#ffbebe"/><stop offset="0.3006" stop-color="#ffbcbc"/><stop offset="0.3318" stop-color="#ffa8a8"/><stop offset="0.6215" stop-color="#ffabab"/><stop offset="0.6713" stop-color="#ffb0b0"/><stop offset="1" stop-color="#ffb0b0"/></linearGradient><linearGradient id="g90" x2="0" y2="1"><stop offset="0" stop-color="#ffbebe"/><stop offset="0.3006" stop-color="#ffbcbc"/><stop offset="0.3318" stop-color="#ffa8a8"/><stop offset="0.6184" stop-color="#ffabab"/><stop offset="0.6558" stop-color="#ffb2b2"/><stop offset="1" stop-color="#ffb2b2"/></linearGradient><linearGradient id="g91" x2="0" y2="1"><stop offset="0" stop-color="#ffbaba"/><stop offset="0.3037" stop-color="#ffb7b7"/><stop offset="0.3318" stop-color="#ffa2a2"/><stop offset="0.6215" stop-color="#ffa5a5"/><stop offset="0.6745" stop-color="#ffaaaa"/><stop offset="1" stop-color="#ffaaaa"/></linearGradient><linearGradient id="g92" x2="0" y2="1"><stop offset="0" stop-color="#ffb5b5"/><stop offset="0.3037" stop-color="#ffb3b3"/><stop offset="0.3349" stop-color="#ffa6a6"/><stop offset="0.6215" stop-color="#ffa3a3"/><stop offset="0.6745" stop-color="#ff9e9e"/><stop offset="1" stop-color="#ff9e9e"/></linearGradient><linearGradient id="g93" x2="0" y2="1"><stop offset="0" stop-color="#ffb8b8"/><stop offset="0.3037" stop-color="#ffb5b5"/><stop offset="0.3318" stop-color="#ffa6a6"/><stop offset="0.6215" stop-color="#ffa3a3"/><stop offset="0.6776" stop-color="#ff9e9e"/><stop offset="1" stop-color="#ff9e9e"/></linearGradient><linearGradient id="g94" x2="0" y2="1"><stop offset="0" stop-color="#ffb8b8"/><stop offset="0.3037" stop-color="#ffb5b5"/><stop offset="0.3349" stop-color="#ffa8a8"/><stop offset="0.6308" stop-color="#ffa5a5"/><stop offset="1" stop-color="#ffa4a4"/></linearGradient><linearGradient id="g95" x2="0" y2="1"><stop offset="0" stop-color="#ffb6b6"/><stop offset="0.31" stop-color="#ffb4b4"/><stop offset="0.3536" stop-color="#ffaeae"/><stop offset="0.6308" stop-color="#ffabab"/><stop offset="1" stop-color="#ffa8a8"/></linearGradient><linearGradient id="g96" x2="0" y2="1"><stop offset="0" stop-color="#ffaeae"/><stop offset="0.6308" stop-color="#ffabab"/><stop offset="1" stop-color="#ffa8a8"/></linearGradient><linearGradient id="g97" x2="0" y2="1"><stop offset="0" stop-color="#ffa7a7"/><stop offset="1" stop-color="#ffa3a3"/></linearGradient><linearGradient id="g98" x2="0" y2="1"><stop offset="0" stop-color="#ffafaf"/><stop offset="0.3069" stop-color="#ffacac"/><stop offset="0.3442" stop-color="#ffa5a5"/><stop offset="1" stop-color="#ffa5a5"/></linearGradient><linearGradient id="g99" x2="0" y2="1"><stop offset="0" stop-color="#ffbaba"/><stop offset="0.3069" stop-color="#ffb7b7"/><stop offset="0.3411" stop-color="#ffafaf"/><stop offset="1" stop-color="#ffadad"/></linearGradient><linearGradient id="g100" x2="0" y2="1"><stop offset="0" stop-color="#ffbbbb"/><stop offset="0.3131" stop-color="#ffb8b8"/><stop offset="0.6215" stop-color="#ffb1b1"/><stop offset="0.7586" stop-color="#ffb1b1"/><stop offset="1" stop-color="#ffb3b3"/></linearGradient><linearGradient id="g101" x2="0" y2="1"><stop offset="0" stop-color="#ffb3b3"/><stop offset="0.5872" stop-color="#ffb0b0"/><stop offset="0.69" stop-color="#ffabab"/><stop offset="0.905" stop-color="#ffb5b5"/><stop offset="1" stop-color="#ffb5b5"/></linearGradient><linearGradient id="g102" x2="0" y2="1"><stop offset="0" stop-color="#ffb2b2"/><stop offset="0.5779" stop-color="#ffb2b2"/><stop offset="0.6682" stop-color="#ff9b9b"/><stop offset="0.8583" stop-color="#ffb3b3"/><stop offset="1" stop-color="#ffb6b6"/></linearGradient><linearGradient id="g103" x2="0" y2="1"><stop offset="0" stop-color="#ffb6b6"/><stop offset="0.5779" stop-color="#ffb2b2"/><stop offset="0.6215" stop-color="#ff9595"/><stop offset="0.6651" stop-color="#ff7979"/><stop offset="0.7492" stop-color="#ff8989"/><stop offset="0.8333" stop-color="#ffa3a3"/><stop offset="0.9798" stop-color="#ffb3b3"/><stop offset="1" stop-color="#ffb3b3"/></linearGradient><linearGradient id="g104" x2="0" y2="1"><stop offset="0" stop-color="#ffbaba"/><stop offset="0.3162" stop-color="#ffb7b7"/><stop offset="0.5779" stop-color="#ffb2b2"/><stop offset="0.6184" stop-color="#ff8888"/><stop offset="0.662" stop-color="#ff5454"/><stop offset="0.743" stop-color="#ff6060"/><stop offset="0.8458" stop-color="#ff8e8e"/><stop offset="0.9424" stop-color="#ffaaaa"/><stop offset="1" stop-color="#ffb2b2"/></linearGradient><linearGradient id="g105" x2="0" y2="1"><stop offset="0" stop-color="#ffb6b6"/><stop offset="0.3224" stop-color="#ffb3b3"/><stop offset="0.5748" stop-color="#ffb1b1"/><stop offset="0.6153" stop-color="#ff7676"/><stop offset="0.6433" stop-color="#ff3c3b"/><stop offset="0.662" stop-color="#ff251f"/><stop offset="0.7523" stop-color="#ff2f27"/><stop offset="0.8676" stop-color="#ff6565"/><stop offset="0.9673" stop-color="#ff9998"/><stop offset="1" stop-color="#ffa3a2"/></linearGradient><linearGradient id="g106" x2="0" y2="1"><stop offset="0" stop-color="#ffb9b9"/><stop offset="0.3069" stop-color="#ffb7b7"/><stop offset="0.3411" stop-color="#ffafaf"/><stop offset="0.5748" stop-color="#ffaeae"/><stop offset="0.6153" stop-color="#ff5a5a"/><stop offset="0.6277" stop-color="#ff2d2d"/><stop offset="0.6402" stop-color="#ff150d"/><stop offset="0.6464" stop-color="#ff1908"/><stop offset="0.6651" stop-color="#ff3703"/><stop offset="0.7399" stop-color="#fe5004"/><stop offset="0.7897" stop-color="#fd420a"/><stop offset="0.8458" stop-color="#fe2f0f"/><stop offset="0.9424" stop-color="#ff7158"/><stop offset="1" stop-color="#ff8676"/></linearGradient><linearGradient id="g107" x2="0" y2="1"><stop offset="0" stop-color="#ffb7b7"/><stop offset="0.3069" stop-color="#ffb4b4"/><stop offset="0.3474" stop-color="#ffaeae"/><stop offset="0.5748" stop-color="#ffadad"/><stop offset="0.6121" stop-color="#ff4f4f"/><stop offset="0.6246" stop-color="#ff1414"/><stop offset="0.6277" stop-color="#ff0e09"/><stop offset="0.6402" stop-color="#ff2901"/><stop offset="0.6651" stop-color="#ff7500"/><stop offset="0.7087" stop-color="#ffb700"/><stop offset="0.7336" stop-color="#f9d204"/><stop offset="0.7555" stop-color="#eed910"/><stop offset="0.7897" stop-color="#e0d61e"/><stop offset="0.8178" stop-color="#e0d01c"/><stop offset="0.8894" stop-color="#dbbe29"/><stop offset="0.9361" stop-color="#dca430"/><stop offset="1" stop-color="#dc7236"/></linearGradient><linearGradient id="g108" x2="0" y2="1"><stop offset="0" stop-color="#ffafaf"/><stop offset="0.3069" stop-color="#ffacac"/><stop offset="0.3442" stop-color="#ffa5a5"/><stop offset="0.5748" stop-color="#ffa4a4"/><stop offset="0.6121" stop-color="#ff5353"/><stop offset="0.6277" stop-color="#ff1413"/><stop offset="0.6308" stop-color="#ff0f0b"/><stop offset="0.6558" stop-color="#ff4b02"/><stop offset="0.69" stop-color="#ff9500"/><stop offset="0.7181" stop-color="#fdc600"/><stop offset="0.7274" stop-color="#fad601"/><stop offset="0.743" stop-color="#d6da2e"/><stop offset="0.7679" stop-color="#aed95a"/><stop offset="0.7928" stop-color="#8ad97c"/><stop offset="0.8396" stop-color="#5adda5"/><stop offset="0.8676" stop-color="#47e0b5"/><stop offset="0.9143" stop-color="#47b1b8"/><stop offset="0.9704" stop-color="#437abc"/><stop offset="1" stop-color="#3d6cc4"/></linearGradient><linearGradient id="g109" x2="0" y2="1"><stop offset="0" stop-color="#ffa7a7"/><stop offset="0.3037" stop-color="#ffa5a5"/><stop offset="0.3349" stop-color="#ff9898"/><stop offset="0.5748" stop-color="#ff9797"/><stop offset="0.6153" stop-color="#ff6363"/><stop offset="0.634" stop-color="#ff3d3c"/><stop offset="0.662" stop-color="#ff2113"/><stop offset="0.7243" stop-color="#fe5511"/><stop offset="0.7555" stop-color="#f46a1e"/><stop offset="0.824" stop-color="#e2852f"/><stop offset="0.9019" stop-color="#dcb635"/><stop offset="0.9579" stop-color="#d7d035"/><stop offset="1" stop-color="#a6c973"/></linearGradient><linearGradient id="g110" x2="0" y2="1"><stop offset="0" stop-color="#ffabab"/><stop offset="0.3037" stop-color="#ffa8a8"/><stop offset="0.3318" stop-color="#ff9898"/><stop offset="0.5779" stop-color="#ff9696"/><stop offset="0.6682" stop-color="#ff6e6d"/><stop offset="0.7804" stop-color="#ff7d70"/><stop offset="0.8863" stop-color="#ff8b73"/><stop offset="0.9704" stop-color="#fb8e71"/><stop offset="1" stop-color="#f48b76"/></linearGradient><linearGradient id="g111" x2="0" y2="1"><stop offset="0" stop-color="#ffb7b7"/><stop offset="0.3037" stop-color="#ffb4b4"/><stop offset="0.3318" stop-color="#ffa5a5"/><stop offset="0.5935" stop-color="#ffa2a2"/><stop offset="0.7025" stop-color="#ff9898"/><stop offset="0.9268" stop-color="#ffa1a1"/><stop offset="1" stop-color="#ffa1a1"/></linearGradient><linearGradient id="g112" x2="0" y2="1"><stop offset="0" stop-color="#ffc0c0"/><stop offset="0.3069" stop-color="#ffbebe"/><stop offset="0.3411" stop-color="#ffb5b5"/><stop offset="0.6215" stop-color="#ffb2b2"/><stop offset="0.7336" stop-color="#ffaeae"/><stop offset="1" stop-color="#ffb2b2"/></linearGradient><linearGradient id="g113" x2="0" y2="1"><stop offset="0" stop-color="#ffbcbc"/><stop offset="0.31" stop-color="#ffbebe"/><stop offset="0.3567" stop-color="#ffb8b8"/><stop offset="0.6215" stop-color="#ffb4b4"/><stop offset="0.6526" stop-color="#ffabab"/><stop offset="1" stop-color="#ffadad"/></linearGradient><linearGradient id="g114" x2="0" y2="1"><stop offset="0" stop-color="#ff9b9b"/><stop offset="0.2508" stop-color="#ffa8a8"/><stop offset="0.3037" stop-color="#ffb6b6"/><stop offset="0.3442" stop-color="#ffafaf"/><stop offset="0.6246" stop-color="#ffa4a4"/><stop offset="0.6745" stop-color="#ffa1a1"/><stop offset="1" stop-color="#ffa2a2"/></linearGradient><linearGradient id="g115" x2="0" y2="1"><stop offset="0" stop-color="#ff4945"/><stop offset="0.1916" stop-color="#ff5856"/><stop offset="0.2508" stop-color="#ff6969"/><stop offset="0.3006" stop-color="#ffa0a0"/><stop offset="0.4065" stop-color="#ff9f9f"/><stop offset="0.5093" stop-color="#ff9090"/><stop offset="0.581" stop-color="#ff8484"/><stop offset="0.8084" stop-color="#ff8c8c"/><stop offset="1" stop-color="#ff8989"/></linearGradient><linearGradient id="g116" x2="0" y2="1"><stop offset="0" stop-color="#ff230d"/><stop offset="0.1978" stop-color="#ff1812"/><stop offset="0.2196" stop-color="#ff1717"/><stop offset="0.2508" stop-color="#ff2c2c"/><stop offset="0.3006" stop-color="#ff8c8c"/><stop offset="0.3318" stop-color="#ff9696"/><stop offset="0.3879" stop-color="#ff9999"/><stop offset="0.4907" stop-color="#ff8383"/><stop offset="0.5623" stop-color="#ff6969"/><stop offset="0.6059" stop-color="#ff6767"/><stop offset="0.7025" stop-color="#ff7373"/><stop offset="0.8178" stop-color="#ff7373"/><stop offset="1" stop-color="#ff6b6b"/></linearGradient><linearGradient id="g117" x2="0" y2="1"><stop offset="0" stop-color="#ff2f2b"/><stop offset="0.1667" stop-color="#ff3230"/><stop offset="0.2165" stop-color="#ff3939"/><stop offset="0.2539" stop-color="#ff4e4e"/><stop offset="0.3006" stop-color="#ff9292"/><stop offset="0.391" stop-color="#ff9696"/><stop offset="0.4938" stop-color="#ff8282"/><stop offset="0.5654" stop-color="#ff6b6b"/><stop offset="0.609" stop-color="#ff6a6a"/><stop offset="0.7523" stop-color="#ff7474"/><stop offset="1" stop-color="#ff6767"/></linearGradient><linearGradient id="g118" x2="0" y2="1"><stop offset="0" stop-color="#ff8c8c"/><stop offset="0.2103" stop-color="#ff8f8f"/><stop offset="0.2601" stop-color="#ff9a9a"/><stop offset="0.3037" stop-color="#ffadad"/><stop offset="0.3442" stop-color="#ffa6a6"/><stop offset="0.5062" stop-color="#ff9d9d"/><stop offset="0.6059" stop-color="#ff9393"/><stop offset="0.6931" stop-color="#ff9191"/><stop offset="1" stop-color="#ff8a8a"/></linearGradient><linearGradient id="g119" x2="0" y2="1"><stop offset="0" stop-color="#ffc9c9"/><stop offset="0.2819" stop-color="#ffcccc"/><stop offset="0.3069" stop-color="#ffcbcb"/><stop offset="0.3349" stop-color="#ffc0c0"/><stop offset="0.6215" stop-color="#ffb9b9"/><stop offset="0.6682" stop-color="#ffb4b4"/><stop offset="1" stop-color="#ffb2b2"/></linearGradient><linearGradient id="g120" x2="0" y2="1"><stop offset="0" stop-color="#ffd7d7"/><stop offset="0.3037" stop-color="#ffd6d6"/><stop offset="0.3349" stop-color="#ffc8c8"/><stop offset="0.6184" stop-color="#ffc5c5"/><stop offset="0.6558" stop-color="#ffbdbd"/><stop offset="1" stop-color="#ffbdbd"/></linearGradient><linearGradient id="g121" x2="0" y2="1"><stop offset="0" stop-color="#ffd8d8"/><stop offset="0.3037" stop-color="#ffd5d5"/><stop offset="0.3349" stop-color="#ffc7c7"/><stop offset="0.6184" stop-color="#ffc5c5"/><stop offset="0.6558" stop-color="#ffbdbd"/><stop offset="1" stop-color="#ffbdbd"/></linearGradient><linearGradient id="g122" x2="0" y2="1"><stop offset="0" stop-color="#ffd5d5"/><stop offset="0.3037" stop-color="#ffd2d2"/><stop offset="0.3349" stop-color="#ffc4c4"/><stop offset="0.6184" stop-color="#ffc1c1"/><stop offset="0.6558" stop-color="#ffb9b9"/><stop offset="1" stop-color="#ffb9b9"/></linearGradient><linearGradient id="g123" x2="0" y2="1"><stop offset="0" stop-color="#ffcfcf"/><stop offset="0.3037" stop-color="#ffcccc"/><stop offset="0.3349" stop-color="#ffbfbf"/><stop offset="0.6184" stop-color="#ffbcbc"/><stop offset="0.6558" stop-color="#ffb5b5"/><stop offset="1" stop-color="#ffb5b5"/></linearGradient><linearGradient id="g124" x2="0" y2="1"><stop offset="0" stop-color="#ffcccc"/><stop offset="0.3037" stop-color="#ffc9c9"/><stop offset="0.3318" stop-color="#ffb9b9"/><stop offset="0.6215" stop-color="#ffb6b6"/><stop offset="0.6713" stop-color="#ffb1b1"/><stop offset="1" stop-color="#ffb1b1"/></linearGradient><linearGradient id="g125" x2="0" y2="1"><stop offset="0" stop-color="#ffcccc"/><stop offset="0.3006" stop-color="#ffcaca"/><stop offset="0.3318" stop-color="#ffb6b6"/><stop offset="1" stop-color="#ffb7b7"/></linearGradient><linearGradient id="g126" x2="0" y2="1"><stop offset="0" stop-color="#ffcfcf"/><stop offset="0.3037" stop-color="#ffcdcd"/><stop offset="0.3318" stop-color="#ffbdbd"/><stop offset="1" stop-color="#ffbbbb"/></linearGradient><linearGradient id="g127" x2="0" y2="1"><stop offset="0" stop-color="#ffcfcf"/><stop offset="0.3069" stop-color="#ffcccc"/><stop offset="0.3411" stop-color="#ffc4c4"/><stop offset="0.6153" stop-color="#ffc2c2"/><stop offset="0.6495" stop-color="#ffb7b7"/><stop offset="1" stop-color="#ffb7b7"/></linearGradient><linearGradient id="g128" x2="0" y2="1"><stop offset="0" stop-color="#ffcbcb"/><stop offset="0.3131" stop-color="#ffc8c8"/><stop offset="0.4969" stop-color="#ffc5c5"/><stop offset="0.6153" stop-color="#ffc2c2"/><stop offset="0.6433" stop-color="#ffb2b2"/><stop offset="1" stop-color="#ffb2b2"/></linearGradient><linearGradient id="g129" x2="0" y2="1"><stop offset="0" stop-color="#ffc8c8"/><stop offset="0.6121" stop-color="#ffc8c8"/><stop offset="0.6464" stop-color="#ffbaba"/><stop offset="1" stop-color="#ffbaba"/></linearGradient><linearGradient id="g130" x2="0" y2="1"><stop offset="0" stop-color="#ffcbcb"/><stop offset="0.609" stop-color="#ffcccc"/><stop offset="0.6495" stop-color="#ffbfbf"/><stop offset="1" stop-color="#ffbfbf"/></linearGradient><linearGradient id="g131" x2="0" y2="1"><stop offset="0" stop-color="#ffd6d6"/><stop offset="0.31" stop-color="#ffd3d3"/><stop offset="0.3474" stop-color="#ffcccc"/><stop offset="0.6184" stop-color="#ffcaca"/><stop offset="0.6589" stop-color="#ffc3c3"/><stop offset="1" stop-color="#ffc3c3"/></linearGradient><linearGradient id="g132" x2="0" y2="1"><stop offset="0" stop-color="#ffd7d7"/><stop offset="0.3069" stop-color="#ffd4d4"/><stop offset="0.3411" stop-color="#ffcccc"/><stop offset="0.6215" stop-color="#ffc9c9"/><stop offset="0.6963" stop-color="#ffc5c5"/><stop offset="1" stop-color="#ffc5c5"/></linearGradient><linearGradient id="g133" x2="0" y2="1"><stop offset="0" stop-color="#ffd2d2"/><stop offset="0.3131" stop-color="#ffcfcf"/><stop offset="0.4502" stop-color="#ffcccc"/><stop offset="0.6184" stop-color="#ffc9c9"/><stop offset="0.6526" stop-color="#ffc1c1"/><stop offset="1" stop-color="#ffc1c1"/></linearGradient><linearGradient id="g134" x2="0" y2="1"><stop offset="0" stop-color="#ffc6c6"/><stop offset="0.3162" stop-color="#ffc3c3"/><stop offset="0.6153" stop-color="#ffbfbf"/><stop offset="0.6464" stop-color="#ffb0b0"/><stop offset="1" stop-color="#ffb0b0"/></linearGradient><linearGradient id="g135" x2="0" y2="1"><stop offset="0" stop-color="#ffc5c5"/><stop offset="0.3037" stop-color="#ffc3c3"/><stop offset="0.3349" stop-color="#ffb6b6"/><stop offset="0.6153" stop-color="#ffb4b4"/><stop offset="0.6464" stop-color="#ffa4a4"/><stop offset="1" stop-color="#ffa4a4"/></linearGradient><linearGradient id="g136" x2="0" y2="1"><stop offset="0" stop-color="#ffc8c8"/><stop offset="0.3069" stop-color="#ffc5c5"/><stop offset="0.338" stop-color="#ffbdbd"/><stop offset="0.6121" stop-color="#ffbbbb"/><stop offset="0.6433" stop-color="#ffa6a6"/><stop offset="1" stop-color="#ffa6a6"/></linearGradient><linearGradient id="g137" x2="0" y2="1"><stop offset="0" stop-color="#ffcccc"/><stop offset="0.3037" stop-color="#ffcaca"/><stop offset="0.338" stop-color="#ffbfbf"/><stop offset="0.6153" stop-color="#ffbcbc"/><stop offset="0.6433" stop-color="#ffa9a9"/><stop offset="1" stop-color="#ffa9a9"/></linearGradient><linearGradient id="g138" x2="0" y2="1"><stop offset="0" stop-color="#ffcdcd"/><stop offset="0.3037" stop-color="#ffcaca"/><stop offset="0.3349" stop-color="#ffbdbd"/><stop offset="0.6153" stop-color="#ffbbbb"/><stop offset="0.6464" stop-color="#ffadad"/><stop offset="1" stop-color="#ffadad"/></linearGradient><linearGradient id="g139" x2="0" y2="1"><stop offset="0" stop-color="#ffd6d6"/><stop offset="0.3037" stop-color="#ffd4d4"/><stop offset="0.3349" stop-color="#ffc8c8"/><stop offset="0.6184" stop-color="#ffc5c5"/><stop offset="0.6495" stop-color="#ffbbbb"/><stop offset="1" stop-color="#ffbbbb"/></linearGradient><linearGradient id="g140" x2="0" y2="1"><stop offset="0" stop-color="#ffd9d9"/><stop offset="0.3069" stop-color="#ffd6d6"/><stop offset="0.3349" stop-color="#ffcbcb"/><stop offset="0.6184" stop-color="#ffc8c8"/><stop offset="0.6589" stop-color="#ffc1c1"/><stop offset="1" stop-color="#ffc1c1"/></linearGradient><linearGradient id="g141" x2="0" y2="1"><stop offset="0" stop-color="#ffd9d9"/><stop offset="0.3037" stop-color="#ffd7d7"/><stop offset="0.3349" stop-color="#ffc7c7"/><stop offset="0.6215" stop-color="#ffc5c5"/><stop offset="0.6651" stop-color="#ffbfbf"/><stop offset="1" stop-color="#ffbfbf"/></linearGradient><linearGradient id="g142" x2="0" y2="1"><stop offset="0" stop-color="#ffd7d7"/><stop offset="0.3037" stop-color="#ffd4d4"/><stop offset="0.3318" stop-color="#ffc3c3"/><stop offset="0.6215" stop-color="#ffc0c0"/><stop offset="0.6776" stop-color="#ffbbbb"/><stop offset="1" stop-color="#ffbbbb"/></linearGradient><linearGradient id="g143" x2="0" y2="1"><stop offset="0" stop-color="#ffd9d9"/><stop offset="0.3037" stop-color="#ffd7d7"/><stop offset="0.3349" stop-color="#ffcaca"/><stop offset="0.6215" stop-color="#ffc7c7"/><stop offset="0.6838" stop-color="#ffc2c2"/><stop offset="1" stop-color="#ffc2c2"/></linearGradient><linearGradient id="g144" x2="0" y2="1"><stop offset="0" stop-color="#ffdada"/><stop offset="0.3069" stop-color="#ffd7d7"/><stop offset="0.3349" stop-color="#ffcbcb"/><stop offset="0.6215" stop-color="#ffc8c8"/><stop offset="0.6682" stop-color="#ffc3c3"/><stop offset="1" stop-color="#ffc3c3"/></linearGradient><linearGradient id="g145" x2="0" y2="1"><stop offset="0" stop-color="#ffdada"/><stop offset="0.3069" stop-color="#ffd7d7"/><stop offset="0.338" stop-color="#ffcdcd"/><stop offset="0.6184" stop-color="#ffcbcb"/><stop offset="0.6495" stop-color="#ffc1c1"/><stop offset="1" stop-color="#ffc1c1"/></linearGradient><linearGradient id="g146" x2="0" y2="1"><stop offset="0" stop-color="#ffd9d9"/><stop offset="0.3006" stop-color="#ffd6d6"/><stop offset="0.3349" stop-color="#ffc4c4"/><stop offset="0.4128" stop-color="#ffc3c3"/><stop offset="0.6184" stop-color="#ffc6c6"/><stop offset="0.6526" stop-color="#ffbdbd"/><stop offset="1" stop-color="#ffbdbd"/></linearGradient><linearGradient id="g147" x2="0" y2="1"><stop offset="0" stop-color="#ffd6d6"/><stop offset="0.229" stop-color="#ffcfcf"/><stop offset="0.3006" stop-color="#ffc0c0"/><stop offset="0.3287" stop-color="#ff9e9e"/><stop offset="0.3785" stop-color="#ff9494"/><stop offset="0.4564" stop-color="#ffa5a5"/><stop offset="0.6558" stop-color="#ffb4b4"/><stop offset="1" stop-color="#ffb5b5"/></linearGradient><linearGradient id="g148" x2="0" y2="1"><stop offset="0" stop-color="#ffc6c6"/><stop offset="0.1511" stop-color="#ffbaba"/><stop offset="0.2103" stop-color="#ffa6a6"/><stop offset="0.2601" stop-color="#ff9491"/><stop offset="0.3006" stop-color="#ff8379"/><stop offset="0.3287" stop-color="#ff6053"/><stop offset="0.3723" stop-color="#ff514a"/><stop offset="0.4159" stop-color="#ff6666"/><stop offset="0.4657" stop-color="#ff8080"/><stop offset="0.528" stop-color="#ff9595"/><stop offset="0.609" stop-color="#ffa5a5"/><stop offset="0.6651" stop-color="#ffb1b1"/><stop offset="1" stop-color="#ffb8b8"/></linearGradient><linearGradient id="g149" x2="0" y2="1"><stop offset="0" stop-color="#ff8585"/><stop offset="0.1324" stop-color="#ff7271"/><stop offset="0.1822" stop-color="#ff5c53"/><stop offset="0.2414" stop-color="#ff2c18"/><stop offset="0.3069" stop-color="#ff6611"/><stop offset="0.3162" stop-color="#ff6e0e"/><stop offset="0.3411" stop-color="#ff610b"/><stop offset="0.3785" stop-color="#ff3e0b"/><stop offset="0.4097" stop-color="#ff1910"/><stop offset="0.4315" stop-color="#ff2f2d"/><stop offset="0.4688" stop-color="#ff4e4e"/><stop offset="0.5093" stop-color="#ff6d6d"/><stop offset="0.581" stop-color="#ff8888"/><stop offset="0.6215" stop-color="#ff9191"/><stop offset="0.6464" stop-color="#ff9595"/><stop offset="0.7897" stop-color="#ff9d9d"/><stop offset="1" stop-color="#ffb7b7"/></linearGradient><linearGradient id="g150" x2="0" y2="1"><stop offset="0" stop-color="#ff3434"/><stop offset="0.1293" stop-color="#ff2320"/><stop offset="0.2103" stop-color="#ff4e08"/><stop offset="0.2508" stop-color="#ff7100"/><stop offset="0.3131" stop-color="#feb800"/><stop offset="0.3318" stop-color="#ffad00"/><stop offset="0.3723" stop-color="#ff7300"/><stop offset="0.4159" stop-color="#ff2402"/><stop offset="0.4315" stop-color="#ff1507"/><stop offset="0.4502" stop-color="#ff0e0e"/><stop offset="0.5062" stop-color="#ff4f4f"/><stop offset="0.5717" stop-color="#ff7272"/><stop offset="0.6153" stop-color="#ff7c7c"/><stop offset="0.6433" stop-color="#ff6b6b"/><stop offset="0.7586" stop-color="#ff6868"/><stop offset="0.9206" stop-color="#ff9494"/><stop offset="1" stop-color="#ffabab"/></linearGradient><linearGradient id="g151" x2="0" y2="1"><stop offset="0" stop-color="#ff8686"/><stop offset="0.1324" stop-color="#ff6a69"/><stop offset="0.1822" stop-color="#ff4a41"/><stop offset="0.2165" stop-color="#ff291a"/><stop offset="0.3069" stop-color="#ff7e0e"/><stop offset="0.3162" stop-color="#ff850b"/><stop offset="0.3442" stop-color="#ff7206"/><stop offset="0.3816" stop-color="#ff4807"/><stop offset="0.4221" stop-color="#ff140e"/><stop offset="0.4626" stop-color="#ff3535"/><stop offset="0.5062" stop-color="#ff5f5f"/><stop offset="0.5779" stop-color="#ff7c7c"/><stop offset="0.6153" stop-color="#ff8585"/><stop offset="0.6433" stop-color="#ff7a7a"/><stop offset="0.7679" stop-color="#ff7b7b"/><stop offset="0.9361" stop-color="#ff9e9e"/><stop offset="1" stop-color="#ffabab"/></linearGradient><linearGradient id="g152" x2="0" y2="1"><stop offset="0" stop-color="#ffcaca"/><stop offset="0.148" stop-color="#ffbaba"/><stop offset="0.204" stop-color="#ffa3a3"/><stop offset="0.2757" stop-color="#ff877d"/><stop offset="0.3037" stop-color="#ff7666"/><stop offset="0.3287" stop-color="#ff4f3d"/><stop offset="0.3692" stop-color="#ff4135"/><stop offset="0.3972" stop-color="#ff4e49"/><stop offset="0.4377" stop-color="#ff6666"/><stop offset="0.5156" stop-color="#ff8989"/><stop offset="0.6059" stop-color="#ff9d9d"/><stop offset="0.662" stop-color="#ffacac"/><stop offset="0.8801" stop-color="#ffb2b2"/><stop offset="1" stop-color="#ffbaba"/></linearGradient><linearGradient id="g153" x2="0" y2="1"><stop offset="0" stop-color="#ffd7d7"/><stop offset="0.2165" stop-color="#ffcfcf"/><stop offset="0.2975" stop-color="#ffbcbc"/><stop offset="0.3318" stop-color="#ff9998"/><stop offset="0.3785" stop-color="#ff9090"/><stop offset="0.4502" stop-color="#ffa3a3"/><stop offset="0.609" stop-color="#ffb6b6"/><stop offset="0.6745" stop-color="#ffbebe"/><stop offset="1" stop-color="#ffc0c0"/></linearGradient><linearGradient id="g154" x2="0" y2="1"><stop offset="0" stop-color="#ffcfcf"/><stop offset="0.2975" stop-color="#ffcbcb"/><stop offset="0.3318" stop-color="#ffadad"/><stop offset="0.4034" stop-color="#ffabab"/><stop offset="0.743" stop-color="#ffb6b6"/><stop offset="1" stop-color="#ffb6b6"/></linearGradient><linearGradient id="g155" x2="0" y2="1"><stop offset="0" stop-color="#ffcbcb"/><stop offset="0.3006" stop-color="#ffc8c8"/><stop offset="0.3287" stop-color="#ffa6a6"/><stop offset="0.5685" stop-color="#ffadad"/><stop offset="1" stop-color="#ffadad"/></linearGradient><linearGradient id="g156" x2="0" y2="1"><stop offset="0" stop-color="#ffcece"/><stop offset="0.3006" stop-color="#ffcccc"/><stop offset="0.3287" stop-color="#ff9d9d"/><stop offset="0.3442" stop-color="#ff9999"/><stop offset="0.4408" stop-color="#ffb2b2"/><stop offset="0.6371" stop-color="#ffb2b2"/><stop offset="1" stop-color="#ffb2b2"/></linearGradient><linearGradient id="g157" x2="0" y2="1"><stop offset="0" stop-color="#ffcdcd"/><stop offset="0.3006" stop-color="#ffcbcb"/><stop offset="0.3349" stop-color="#ff8686"/><stop offset="0.3505" stop-color="#ff8181"/><stop offset="0.3941" stop-color="#ff9292"/><stop offset="0.4657" stop-color="#ffb5b5"/><stop offset="0.5717" stop-color="#ffbcbc"/><stop offset="0.8458" stop-color="#ffb8b8"/><stop offset="1" stop-color="#ffb8b8"/></linearGradient><linearGradient id="g158" x2="0" y2="1"><stop offset="0" stop-color="#ffd1d1"/><stop offset="0.3006" stop-color="#ffcfcf"/><stop offset="0.3255" stop-color="#ff9898"/><stop offset="0.3411" stop-color="#ff7878"/><stop offset="0.3754" stop-color="#ff6565"/><stop offset="0.4065" stop-color="#ff6868"/><stop offset="0.4315" stop-color="#ff7b7b"/><stop offset="0.4657" stop-color="#ffa0a0"/><stop offset="0.5125" stop-color="#ffb7b7"/><stop offset="0.609" stop-color="#ffbfbf"/><stop offset="0.6807" stop-color="#ffb9b9"/><stop offset="1" stop-color="#ffb9b9"/></linearGradient><linearGradient id="g159" x2="0" y2="1"><stop offset="0" stop-color="#ffd5d5"/><stop offset="0.3006" stop-color="#ffd3d3"/><stop offset="0.3349" stop-color="#ff9999"/><stop offset="0.4034" stop-color="#ff4545"/><stop offset="0.4252" stop-color="#ff3a3a"/><stop offset="0.5093" stop-color="#ff9c9c"/><stop offset="0.5592" stop-color="#ffb7b7"/><stop offset="0.6184" stop-color="#ffbebe"/><stop offset="0.6931" stop-color="#ffb9b9"/><stop offset="1" stop-color="#ffb9b9"/></linearGradient><linearGradient id="g160" x2="0" y2="1"><stop offset="0" stop-color="#ffd0d0"/><stop offset="0.3006" stop-color="#ffcece"/><stop offset="0.3692" stop-color="#ff9494"/><stop offset="0.4128" stop-color="#ff5454"/><stop offset="0.4283" stop-color="#ff3b3b"/><stop offset="0.4533" stop-color="#ff3737"/><stop offset="0.4813" stop-color="#ff4848"/><stop offset="0.5592" stop-color="#ff9e9e"/><stop offset="0.6059" stop-color="#ffb9b9"/><stop offset="0.6931" stop-color="#ffb5b5"/><stop offset="1" stop-color="#ffb5b5"/></linearGradient><linearGradient id="g161" x2="0" y2="1"><stop offset="0" stop-color="#ffd4d4"/><stop offset="0.3037" stop-color="#ffd2d2"/><stop offset="0.3442" stop-color="#ffc2c2"/><stop offset="0.3879" stop-color="#ffaeae"/><stop offset="0.4159" stop-color="#ff9191"/><stop offset="0.447" stop-color="#ff6c6c"/><stop offset="0.4844" stop-color="#ff4f4f"/><stop offset="0.5125" stop-color="#ff5050"/><stop offset="0.5561" stop-color="#ff7474"/><stop offset="0.5841" stop-color="#ff9797"/><stop offset="0.6121" stop-color="#ffb3b3"/><stop offset="0.6682" stop-color="#ffbdbd"/><stop offset="1" stop-color="#ffbebe"/></linearGradient><linearGradient id="g162" x2="0" y2="1"><stop offset="0" stop-color="#ffd9d9"/><stop offset="0.3069" stop-color="#ffd7d7"/><stop offset="0.3442" stop-color="#ffcece"/><stop offset="0.4065" stop-color="#ffc3c3"/><stop offset="0.4688" stop-color="#ff9a9a"/><stop offset="0.5187" stop-color="#ff6d6d"/><stop offset="0.553" stop-color="#ff6363"/><stop offset="0.5748" stop-color="#ff6a6a"/><stop offset="0.6121" stop-color="#ffa2a2"/><stop offset="0.6558" stop-color="#ffbcbc"/><stop offset="1" stop-color="#ffbfbf"/></linearGradient><linearGradient id="g163" x2="0" y2="1"><stop offset="0" stop-color="#ffd6d6"/><stop offset="0.3069" stop-color="#ffd4d4"/><stop offset="0.3474" stop-color="#ffcdcd"/><stop offset="0.4408" stop-color="#ffc5c5"/><stop offset="0.4938" stop-color="#ffafaf"/><stop offset="0.5748" stop-color="#ff7171"/><stop offset="0.6028" stop-color="#ff8585"/><stop offset="0.6402" stop-color="#ffa7a7"/><stop offset="0.6526" stop-color="#ffb4b4"/><stop offset="1" stop-color="#ffb9b9"/></linearGradient><linearGradient id="g164" x2="0" y2="1"><stop offset="0" stop-color="#ffd1d1"/><stop offset="0.3069" stop-color="#ffcece"/><stop offset="0.3442" stop-color="#ffc7c7"/><stop offset="0.4844" stop-color="#ffc0c0"/><stop offset="0.5405" stop-color="#ffabab"/><stop offset="0.5841" stop-color="#ff9191"/><stop offset="0.6277" stop-color="#ff9595"/><stop offset="0.6526" stop-color="#ffafaf"/><stop offset="1" stop-color="#ffb4b4"/></linearGradient><linearGradient id="g165" x2="0" y2="1"><stop offset="0" stop-color="#ffd4d4"/><stop offset="0.3069" stop-color="#ffd1d1"/><stop offset="0.3411" stop-color="#ffc8c8"/><stop offset="0.5062" stop-color="#ffbebe"/><stop offset="0.5935" stop-color="#ffaaaa"/><stop offset="0.634" stop-color="#ffa8a8"/><stop offset="0.6558" stop-color="#ffb3b3"/><stop offset="1" stop-color="#ffb5b5"/></linearGradient><linearGradient id="g166" x2="0" y2="1"><stop offset="0" stop-color="#ffdada"/><stop offset="0.31" stop-color="#ffd7d7"/><stop offset="0.3629" stop-color="#ffcece"/><stop offset="0.4969" stop-color="#ffc0c0"/><stop offset="0.5685" stop-color="#ffb0b0"/><stop offset="0.6184" stop-color="#ffb9b9"/><stop offset="0.6464" stop-color="#ffbdbd"/><stop offset="1" stop-color="#ffc0c0"/></linearGradient><linearGradient id="g167" x2="0" y2="1"><stop offset="0" stop-color="#ffd8d8"/><stop offset="0.3131" stop-color="#ffd6d6"/><stop offset="0.3847" stop-color="#ffcbcb"/><stop offset="0.4938" stop-color="#ffbebe"/><stop offset="0.5654" stop-color="#ffabab"/><stop offset="0.6184" stop-color="#ffbcbc"/><stop offset="1" stop-color="#ffbfbf"/></linearGradient><linearGradient id="g168" x2="0" y2="1"><stop offset="0" stop-color="#ffd9d9"/><stop offset="0.31" stop-color="#ffd7d7"/><stop offset="0.3505" stop-color="#ffcece"/><stop offset="0.5031" stop-color="#ffc1c1"/><stop offset="0.5685" stop-color="#ffb8b8"/><stop offset="0.6184" stop-color="#ffc2c2"/><stop offset="0.6495" stop-color="#ffbfbf"/><stop offset="1" stop-color="#ffbfbf"/></linearGradient><linearGradient id="g169" x2="0" y2="1"><stop offset="0" stop-color="#ffd7d7"/><stop offset="0.3069" stop-color="#ffd4d4"/><stop offset="0.338" stop-color="#ffcaca"/><stop offset="0.5872" stop-color="#ffc3c3"/><stop offset="0.6215" stop-color="#ffc2c2"/><stop offset="0.6526" stop-color="#ffbdbd"/><stop offset="1" stop-color="#ffbdbd"/></linearGradient><linearGradient id="g170" x2="0" y2="1"><stop offset="0" stop-color="#ffcfcf"/><stop offset="0.3037" stop-color="#ffcece"/><stop offset="0.3349" stop-color="#ffc2c2"/><stop offset="0.6215" stop-color="#ffbfbf"/><stop offset="0.6651" stop-color="#ffb9b9"/><stop offset="1" stop-color="#ffbaba"/></linearGradient><linearGradient id="g171" x2="0" y2="1"><stop offset="0" stop-color="#ffcaca"/><stop offset="0.3037" stop-color="#ffc9c9"/><stop offset="0.3349" stop-color="#ffbebe"/><stop offset="0.6184" stop-color="#ffbcbc"/><stop offset="0.6589" stop-color="#ffb5b5"/><stop offset="1" stop-color="#ffb6b6"/></linearGradient><linearGradient id="g172" x2="0" y2="1"><stop offset="0" stop-color="#ffc5c5"/><stop offset="0.3037" stop-color="#ffc5c5"/><stop offset="0.3349" stop-color="#ffb9b9"/><stop offset="0.6215" stop-color="#ffb8b8"/><stop offset="0.6807" stop-color="#ffb4b4"/><stop offset="1" stop-color="#ffb5b5"/></linearGradient><linearGradient id="g173" x2="0" y2="1"><stop offset="0" stop-color="#ffbebe"/><stop offset="0.3069" stop-color="#ffc1c1"/><stop offset="0.3442" stop-color="#ffbaba"/><stop offset="0.6184" stop-color="#ffb9b9"/><stop offset="0.6526" stop-color="#ffb1b1"/><stop offset="1" stop-color="#ffb3b3"/></linearGradient><linearGradient id="g174" x2="0" y2="1"><stop offset="0" stop-color="#ff9e9e"/><stop offset="0.3224" stop-color="#ffb6b6"/><stop offset="0.6184" stop-color="#ffb8b8"/><stop offset="0.6558" stop-color="#ffb1b1"/><stop offset="1" stop-color="#ffb4b4"/></linearGradient><linearGradient id="g175" x2="0" y2="1"><stop offset="0" stop-color="#ff674e"/><stop offset="0.1137" stop-color="#ff7669"/><stop offset="0.2383" stop-color="#ff8282"/><stop offset="0.3162" stop-color="#ffa4a4"/><stop offset="0.4283" stop-color="#ffaeae"/><stop offset="1" stop-color="#ffb6b6"/></linearGradient><linearGradient id="g176" x2="0" y2="1"><stop offset="0" stop-color="#dca72e"/><stop offset="0.0545" stop-color="#df952d"/><stop offset="0.0826" stop-color="#e78028"/><stop offset="0.1916" stop-color="#f7571b"/><stop offset="0.2227" stop-color="#fe3c14"/><stop offset="0.2352" stop-color="#ff3315"/><stop offset="0.2757" stop-color="#ff5542"/><stop offset="0.31" stop-color="#ff6c66"/><stop offset="0.3442" stop-color="#ff7b7a"/><stop offset="0.3879" stop-color="#ff8a8a"/><stop offset="0.6246" stop-color="#ff9898"/><stop offset="1" stop-color="#ffa4a4"/></linearGradient><linearGradient id="g177" x2="0" y2="1"><stop offset="0" stop-color="#23b7d9"/><stop offset="0.0327" stop-color="#26cbd6"/><stop offset="0.0545" stop-color="#36caca"/><stop offset="0.0794" stop-color="#60cda5"/><stop offset="0.1511" stop-color="#8fd27a"/><stop offset="0.1885" stop-color="#afd757"/><stop offset="0.2103" stop-color="#dfd51e"/><stop offset="0.2414" stop-color="#f3b80f"/><stop offset="0.2726" stop-color="#fe9008"/><stop offset="0.3037" stop-color="#ff540e"/><stop offset="0.3255" stop-color="#ff2011"/><stop offset="0.3349" stop-color="#ff2117"/><stop offset="0.3785" stop-color="#ff3d39"/><stop offset="0.5592" stop-color="#ff514f"/><stop offset="0.6308" stop-color="#ff5250"/><stop offset="1" stop-color="#ff6665"/></linearGradient><linearGradient id="g178" x2="0" y2="1"><stop offset="0" stop-color="#0054fe"/><stop offset="0.0545" stop-color="#067af9"/><stop offset="0.0763" stop-color="#14a4ed"/><stop offset="0.1449" stop-color="#22cbdf"/><stop offset="0.1854" stop-color="#2fefd0"/><stop offset="0.1947" stop-color="#43eebe"/><stop offset="0.2321" stop-color="#aeeb5a"/><stop offset="0.2539" stop-color="#dce627"/><stop offset="0.2664" stop-color="#f7e105"/><stop offset="0.2757" stop-color="#fdd200"/><stop offset="0.2944" stop-color="#ffaa00"/><stop offset="0.3193" stop-color="#ff5800"/><stop offset="0.3255" stop-color="#ff4300"/><stop offset="0.3785" stop-color="#ff1f08"/><stop offset="0.5935" stop-color="#ff170e"/><stop offset="1" stop-color="#ff150f"/></linearGradient><linearGradient id="g179" x2="0" y2="1"><stop offset="0" stop-color="#23b6d9"/><stop offset="0.0483" stop-color="#26ccd6"/><stop offset="0.0794" stop-color="#4fcfb5"/><stop offset="0.1511" stop-color="#71d495"/><stop offset="0.1885" stop-color="#8dd97b"/><stop offset="0.2072" stop-color="#b8d850"/><stop offset="0.229" stop-color="#e8d715"/><stop offset="0.2664" stop-color="#feb102"/><stop offset="0.3006" stop-color="#ff7309"/><stop offset="0.3255" stop-color="#ff360e"/><stop offset="0.3723" stop-color="#ff1711"/><stop offset="0.5343" stop-color="#ff1f1e"/><stop offset="0.6215" stop-color="#ff1b19"/><stop offset="0.6682" stop-color="#ff1513"/><stop offset="1" stop-color="#ff1410"/></linearGradient><linearGradient id="g180" x2="0" y2="1"><stop offset="0" stop-color="#dca42e"/><stop offset="0.0545" stop-color="#dd9a2e"/><stop offset="0.0826" stop-color="#e4892a"/><stop offset="0.1885" stop-color="#f06e21"/><stop offset="0.2383" stop-color="#fe4813"/><stop offset="0.2632" stop-color="#ff3214"/><stop offset="0.3193" stop-color="#ff625a"/><stop offset="0.3816" stop-color="#ff7271"/><stop offset="0.6121" stop-color="#ff7676"/><stop offset="0.6526" stop-color="#ff6d6d"/><stop offset="1" stop-color="#ff6c6c"/></linearGradient><linearGradient id="g181" x2="0" y2="1"><stop offset="0" stop-color="#ff6c54"/><stop offset="0.1293" stop-color="#ff7767"/><stop offset="0.2227" stop-color="#ff7d77"/><stop offset="0.2695" stop-color="#ff8686"/><stop offset="0.3255" stop-color="#ffa2a2"/><stop offset="0.419" stop-color="#ffaaaa"/><stop offset="0.6184" stop-color="#ffaaaa"/><stop offset="0.6558" stop-color="#ffa3a3"/><stop offset="1" stop-color="#ffa5a5"/></linearGradient><linearGradient id="g182" x2="0" y2="1"><stop offset="0" stop-color="#ffb0b0"/><stop offset="0.2726" stop-color="#ffc1c1"/><stop offset="0.4097" stop-color="#ffc9c9"/><stop offset="0.6153" stop-color="#ffc9c9"/><stop offset="0.6464" stop-color="#ffbdbd"/><stop offset="1" stop-color="#ffbfbf"/></linearGradient><linearGradient id="g183" x2="0" y2="1"><stop offset="0" stop-color="#ffd2d2"/><stop offset="0.6121" stop-color="#ffd4d4"/><stop offset="0.6464" stop-color="#ffc4c4"/><stop offset="1" stop-color="#ffc5c5"/></linearGradient><linearGradient id="g184" x2="0" y2="1"><stop offset="0" stop-color="#ffdbdb"/><stop offset="0.31" stop-color="#ffd9d9"/><stop offset="0.3536" stop-color="#ffd4d4"/><stop offset="0.6153" stop-color="#ffd2d2"/><stop offset="0.6464" stop-color="#ffc4c4"/><stop offset="1" stop-color="#ffc5c5"/></linearGradient><linearGradient id="g185" x2="0" y2="1"><stop offset="0" stop-color="#ffdfdf"/><stop offset="0.3037" stop-color="#ffdddd"/><stop offset="0.3349" stop-color="#ffd0d0"/><stop offset="0.6246" stop-color="#ffcdcd"/><stop offset="1" stop-color="#ffcbcb"/></linearGradient><linearGradient id="g186" x2="0" y2="1"><stop offset="0" stop-color="#ffe3e3"/><stop offset="0.3037" stop-color="#ffe0e0"/><stop offset="0.3318" stop-color="#ffd0d0"/><stop offset="0.6246" stop-color="#ffd3d3"/><stop offset="1" stop-color="#ffd6d6"/></linearGradient><linearGradient id="g187" x2="0" y2="1"><stop offset="0" stop-color="#ffe5e5"/><stop offset="0.3037" stop-color="#ffe3e3"/><stop offset="0.3349" stop-color="#ffd6d6"/><stop offset="0.6184" stop-color="#ffd8d8"/><stop offset="0.6589" stop-color="#ffdfdf"/><stop offset="1" stop-color="#ffdfdf"/></linearGradient><linearGradient id="g188" x2="0" y2="1"><stop offset="0" stop-color="#ffe4e4"/><stop offset="0.3131" stop-color="#ffe1e1"/><stop offset="0.6215" stop-color="#ffe0e0"/><stop offset="0.7336" stop-color="#ffe4e4"/><stop offset="1" stop-color="#ffe4e4"/></linearGradient><linearGradient id="g189" x2="0" y2="1"><stop offset="0" stop-color="#ffe2e2"/><stop offset="1" stop-color="#ffe6e6"/></linearGradient><linearGradient id="g190" x2="0" y2="1"><stop offset="0" stop-color="#ffe6e6"/><stop offset="1" stop-color="#ffe8e8"/></linearGradient><linearGradient id="g191" x2="0" y2="1"><stop offset="0" stop-color="#ffe6e6"/><stop offset="1" stop-color="#ffe9e9"/></linearGradient><linearGradient id="g192" x2="0" y2="1"><stop offset="0" stop-color="#ffdcdc"/><stop offset="0.4315" stop-color="#ffe6e6"/><stop offset="1" stop-color="#ffe8e8"/></linearGradient><linearGradient id="g193" x2="0" y2="1"><stop offset="0" stop-color="#ffadad"/><stop offset="0.1231" stop-color="#ffbaba"/><stop offset="0.2695" stop-color="#ffd5d5"/><stop offset="1" stop-color="#ffe2e2"/></linearGradient><linearGradient id="g194" x2="0" y2="1"><stop offset="0" stop-color="#ff5f5f"/><stop offset="0.1075" stop-color="#ff7171"/><stop offset="0.2227" stop-color="#ffabab"/><stop offset="0.2788" stop-color="#ffb9b9"/><stop offset="1" stop-color="#ffd7d7"/></linearGradient><linearGradient id="g195" x2="0" y2="1"><stop offset="0" stop-color="#ff5d5d"/><stop offset="0.1075" stop-color="#ff6c6c"/><stop offset="0.2352" stop-color="#ffaaaa"/><stop offset="0.3162" stop-color="#ffb8b8"/><stop offset="0.6246" stop-color="#ffc1c1"/><stop offset="1" stop-color="#ffd0d0"/></linearGradient><linearGradient id="g196" x2="0" y2="1"><stop offset="0" stop-color="#ffaaaa"/><stop offset="0.1199" stop-color="#ffb1b1"/><stop offset="0.2757" stop-color="#ffcece"/><stop offset="1" stop-color="#ffdbdb"/></linearGradient><linearGradient id="g197" x2="0" y2="1"><stop offset="0" stop-color="#ffd8d8"/><stop offset="0.4657" stop-color="#ffe0e0"/><stop offset="0.6277" stop-color="#ffe3e3"/><stop offset="1" stop-color="#ffe6e6"/></linearGradient><linearGradient id="g198" x2="0" y2="1"><stop offset="0" stop-color="#ffe2e2"/><stop offset="0.3255" stop-color="#ffe0e0"/><stop offset="0.6215" stop-color="#ffe2e2"/><stop offset="0.6963" stop-color="#ffe6e6"/><stop offset="1" stop-color="#ffe6e6"/></linearGradient><linearGradient id="g199" x2="0" y2="1"><stop offset="0" stop-color="#ffe3e3"/><stop offset="1" stop-color="#ffe9e9"/></linearGradient><linearGradient id="g200" x2="0" y2="1"><stop offset="0" stop-color="#ffe7e7"/><stop offset="1" stop-color="#ffeded"/></linearGradient><linearGradient id="g201" x2="0" y2="1"><stop offset="0" stop-color="#ffebeb"/><stop offset="0.3224" stop-color="#ffe8e8"/><stop offset="0.6215" stop-color="#ffeaea"/><stop offset="0.6776" stop-color="#ffefef"/><stop offset="1" stop-color="#ffefef"/></linearGradient><linearGradient id="g202" x2="0" y2="1"><stop offset="0" stop-color="#ffeeee"/><stop offset="0.3069" stop-color="#ffebeb"/><stop offset="0.338" stop-color="#ffe2e2"/><stop offset="0.6153" stop-color="#ffe4e4"/><stop offset="0.6464" stop-color="#ffefef"/><stop offset="1" stop-color="#ffefef"/></linearGradient><linearGradient id="g203" x2="0" y2="1"><stop offset="0" stop-color="#ffeeee"/><stop offset="0.3037" stop-color="#ffecec"/><stop offset="0.338" stop-color="#ffe1e1"/><stop offset="0.6184" stop-color="#ffe4e4"/><stop offset="0.6526" stop-color="#ffecec"/><stop offset="1" stop-color="#ffecec"/></linearGradient><linearGradient id="g204" x2="0" y2="1"><stop offset="0" stop-color="#ffecec"/><stop offset="0.3162" stop-color="#ffe9e9"/><stop offset="0.8894" stop-color="#ffe5e5"/><stop offset="1" stop-color="#ffe5e5"/></linearGradient><linearGradient id="g205" x2="0" y2="1"><stop offset="0" stop-color="#ffefef"/><stop offset="0.6184" stop-color="#ffeaea"/><stop offset="0.6526" stop-color="#ffe2e2"/><stop offset="1" stop-color="#ffe2e2"/></linearGradient><linearGradient id="g206" x2="0" y2="1"><stop offset="0" stop-color="#fff0f0"/><stop offset="0.6184" stop-color="#ffeded"/><stop offset="0.6558" stop-color="#ffe6e6"/><stop offset="1" stop-color="#ffe6e6"/></linearGradient><linearGradient id="g207" x2="0" y2="1"><stop offset="0" stop-color="#fff0f0"/><stop offset="0.6308" stop-color="#ffeeee"/><stop offset="1" stop-color="#ffecec"/></linearGradient><linearGradient id="g208" x2="0" y2="1"><stop offset="0" stop-color="#fff1f1"/><stop offset="0.6277" stop-color="#fff0f0"/><stop offset="1" stop-color="#ffeeee"/></linearGradient><linearGradient id="g209" x2="0" y2="1"><stop offset="0" stop-color="#fff1f1"/><stop offset="0.6184" stop-color="#fff0f0"/><stop offset="0.6526" stop-color="#ffe7e7"/><stop offset="1" stop-color="#ffe7e7"/></linearGradient><linearGradient id="g210" x2="0" y2="1"><stop offset="0" stop-color="#fff0f0"/><stop offset="0.6153" stop-color="#fff1f1"/><stop offset="0.6464" stop-color="#ffe3e3"/><stop offset="1" stop-color="#ffe3e3"/></linearGradient><linearGradient id="g211" x2="0" y2="1"><stop offset="0" stop-color="#fff1f1"/><stop offset="0.6153" stop-color="#fff1f1"/><stop offset="0.6495" stop-color="#ffe7e7"/><stop offset="1" stop-color="#ffe7e7"/></linearGradient><linearGradient id="g212" x2="0" y2="1"><stop offset="0" stop-color="#fff1f1"/><stop offset="0.6246" stop-color="#fff1f1"/><stop offset="1" stop-color="#ffeeee"/></linearGradient><linearGradient id="g213" x2="0" y2="1"><stop offset="0" stop-color="#fff3f3"/><stop offset="0.6308" stop-color="#fff4f4"/><stop offset="1" stop-color="#fff5f5"/></linearGradient><linearGradient id="g214" x2="0" y2="1"><stop offset="0" stop-color="#fff3f3"/><stop offset="0.31" stop-color="#fff0f0"/><stop offset="0.3567" stop-color="#ffebeb"/><stop offset="0.6184" stop-color="#ffeeee"/><stop offset="0.6558" stop-color="#fff5f5"/><stop offset="1" stop-color="#fff5f5"/></linearGradient><linearGradient id="g215" x2="0" y2="1"><stop offset="0" stop-color="#fff4f4"/><stop offset="0.3037" stop-color="#fff2f2"/><stop offset="0.3349" stop-color="#ffe5e5"/><stop offset="0.6153" stop-color="#ffe8e8"/><stop offset="0.6464" stop-color="#fff6f6"/><stop offset="1" stop-color="#fff6f6"/></linearGradient><linearGradient id="g216" x2="0" y2="1"><stop offset="0" stop-color="#fff4f4"/><stop offset="0.31" stop-color="#fff1f1"/><stop offset="0.3629" stop-color="#ffecec"/><stop offset="0.6184" stop-color="#ffeeee"/><stop offset="0.6558" stop-color="#fff6f6"/><stop offset="1" stop-color="#fff6f6"/></linearGradient><linearGradient id="g217" x2="0" y2="1"><stop offset="0" stop-color="#fff0f0"/><stop offset="1" stop-color="#fff4f4"/></linearGradient><linearGradient id="g218" x2="0" y2="1"><stop offset="0" stop-color="#fff1f1"/><stop offset="1" stop-color="#fff5f5"/></linearGradient><linearGradient id="g219" x2="0" y2="1"><stop offset="0" stop-color="#fff5f5"/><stop offset="1" stop-color="#fff7f7"/></linearGradient><linearGradient id="g220" x2="0" y2="1"><stop offset="0" stop-color="#fff6f6"/><stop offset="0.6246" stop-color="#fff4f4"/><stop offset="0.9081" stop-color="#fff1f1"/><stop offset="1" stop-color="#fff1f1"/></linearGradient><linearGradient id="g221" x2="0" y2="1"><stop offset="0" stop-color="#fff3f3"/><stop offset="0.3193" stop-color="#fff6f6"/><stop offset="0.6184" stop-color="#fff5f5"/><stop offset="0.6526" stop-color="#ffecec"/><stop offset="1" stop-color="#ffecec"/></linearGradient><linearGradient id="g222" x2="0" y2="1"><stop offset="0" stop-color="#ffeded"/><stop offset="0.3069" stop-color="#fff0f0"/><stop offset="0.3411" stop-color="#fff8f8"/><stop offset="0.6184" stop-color="#fff5f5"/><stop offset="0.6526" stop-color="#ffeded"/><stop offset="1" stop-color="#ffeded"/></linearGradient><linearGradient id="g223" x2="0" y2="1"><stop offset="0" stop-color="#ffe7e7"/><stop offset="0.3037" stop-color="#ffeaea"/><stop offset="0.3349" stop-color="#fff8f8"/><stop offset="0.6246" stop-color="#fff5f5"/><stop offset="0.933" stop-color="#fff2f2"/><stop offset="1" stop-color="#fff2f2"/></linearGradient><linearGradient id="g224" x2="0" y2="1"><stop offset="0" stop-color="#ffe8e8"/><stop offset="0.3037" stop-color="#ffeaea"/><stop offset="0.3349" stop-color="#fff8f8"/><stop offset="1" stop-color="#fff6f6"/></linearGradient><linearGradient id="g225" x2="0" y2="1"><stop offset="0" stop-color="#ffeeee"/><stop offset="0.3069" stop-color="#fff0f0"/><stop offset="0.3442" stop-color="#fff7f7"/><stop offset="1" stop-color="#fff5f5"/></linearGradient><linearGradient id="g226" x2="0" y2="1"><stop offset="0" stop-color="#fff3f3"/><stop offset="0.3162" stop-color="#fff5f5"/><stop offset="0.6246" stop-color="#fff5f5"/><stop offset="0.8894" stop-color="#fff2f2"/><stop offset="1" stop-color="#fff2f2"/></linearGradient><linearGradient id="g227" x2="0" y2="1"><stop offset="0" stop-color="#fff4f4"/><stop offset="0.6308" stop-color="#fff3f3"/><stop offset="1" stop-color="#fff1f1"/></linearGradient><linearGradient id="g228" x2="0" y2="1"><stop offset="0" stop-color="#ffeded"/><stop offset="0.3287" stop-color="#ffeeee"/><stop offset="0.6246" stop-color="#ffecec"/><stop offset="0.743" stop-color="#ffeaea"/><stop offset="1" stop-color="#ffecec"/></linearGradient><linearGradient id="g229" x2="0" y2="1"><stop offset="0" stop-color="#ffe6e6"/><stop offset="0.338" stop-color="#ffe5e5"/><stop offset="0.634" stop-color="#ffe4e4"/><stop offset="1" stop-color="#ffeaea"/></linearGradient><linearGradient id="g230" x2="0" y2="1"><stop offset="0" stop-color="#ffe2e2"/><stop offset="0.3972" stop-color="#ffdddd"/><stop offset="1" stop-color="#ffeaea"/></linearGradient><linearGradient id="g231" x2="0" y2="1"><stop offset="0" stop-color="#ffe2e2"/><stop offset="0.4097" stop-color="#ffdddd"/><stop offset="1" stop-color="#ffeaea"/></linearGradient><linearGradient id="g232" x2="0" y2="1"><stop offset="0" stop-color="#ffe9e9"/><stop offset="0.4564" stop-color="#ffe6e6"/><stop offset="0.634" stop-color="#ffe4e4"/><stop offset="1" stop-color="#ffeaea"/></linearGradient><linearGradient id="g233" x2="0" y2="1"><stop offset="0" stop-color="#ffeded"/><stop offset="0.31" stop-color="#ffeded"/><stop offset="0.6184" stop-color="#ffeeee"/><stop offset="0.6526" stop-color="#ffe5e5"/><stop offset="1" stop-color="#ffe8e8"/></linearGradient><linearGradient id="g234" x2="0" y2="1"><stop offset="0" stop-color="#ffeeee"/><stop offset="0.3069" stop-color="#fff0f0"/><stop offset="0.3505" stop-color="#fff5f5"/><stop offset="0.6153" stop-color="#fff3f3"/><stop offset="0.6464" stop-color="#ffe4e4"/><stop offset="1" stop-color="#ffe5e5"/></linearGradient><linearGradient id="g235" x2="0" y2="1"><stop offset="0" stop-color="#fff0f0"/><stop offset="0.31" stop-color="#fff2f2"/><stop offset="0.3847" stop-color="#fff6f6"/><stop offset="0.6153" stop-color="#fff4f4"/><stop offset="0.6464" stop-color="#ffe8e8"/><stop offset="1" stop-color="#ffe8e8"/></linearGradient><linearGradient id="g236" x2="0" y2="1"><stop offset="0" stop-color="#ffeeee"/><stop offset="0.3069" stop-color="#fff1f1"/><stop offset="0.3442" stop-color="#fff8f8"/><stop offset="0.6246" stop-color="#fff5f5"/><stop offset="1" stop-color="#fff2f2"/></linearGradient><linearGradient id="g237" x2="0" y2="1"><stop offset="0" stop-color="#ffe9e9"/><stop offset="0.3037" stop-color="#ffebeb"/><stop offset="0.3349" stop-color="#fff9f9"/><stop offset="1" stop-color="#fff7f7"/></linearGradient><linearGradient id="g238" x2="0" y2="1"><stop offset="0" stop-color="#ffe8e8"/><stop offset="0.3037" stop-color="#ffebeb"/><stop offset="0.3349" stop-color="#fff8f8"/><stop offset="1" stop-color="#fff8f8"/></linearGradient><linearGradient id="g239" x2="0" y2="1"><stop offset="0" stop-color="#ffeeee"/><stop offset="0.31" stop-color="#fff0f0"/><stop offset="0.3754" stop-color="#fff5f5"/><stop offset="1" stop-color="#fff6f6"/></linearGradient><linearGradient id="g240" x2="0" y2="1"><stop offset="0" stop-color="#fff5f5"/><stop offset="1" stop-color="#fff9f9"/></linearGradient><linearGradient id="g241" x2="0" y2="1"><stop offset="0" stop-color="#fff7f7"/><stop offset="1" stop-color="#fff9f9"/></linearGradient><linearGradient id="g242" x2="0" y2="1"><stop offset="0" stop-color="#fff6f6"/><stop offset="1" stop-color="#fff4f4"/></linearGradient><linearGradient id="g243" x2="0" y2="1"><stop offset="0" stop-color="#fff3f3"/><stop offset="0.3162" stop-color="#fff0f0"/><stop offset="1" stop-color="#ffeded"/></linearGradient><linearGradient id="g244" x2="0" y2="1"><stop offset="0" stop-color="#fff4f4"/><stop offset="0.3069" stop-color="#fff1f1"/><stop offset="0.3442" stop-color="#ffe9e9"/><stop offset="1" stop-color="#ffecec"/></linearGradient><linearGradient id="g245" x2="0" y2="1"><stop offset="0" stop-color="#fff6f6"/><stop offset="0.3037" stop-color="#fff4f4"/><stop offset="0.3349" stop-color="#ffe8e8"/><stop offset="0.6184" stop-color="#ffeaea"/><stop offset="0.6589" stop-color="#fff1f1"/><stop offset="1" stop-color="#fff1f1"/></linearGradient><linearGradient id="g246" x2="0" y2="1"><stop offset="0" stop-color="#fff8f8"/><stop offset="0.3037" stop-color="#fff5f5"/><stop offset="0.3349" stop-color="#ffe8e8"/><stop offset="0.6153" stop-color="#ffeaea"/><stop offset="0.6464" stop-color="#fff6f6"/><stop offset="1" stop-color="#fff6f6"/></linearGradient><linearGradient id="g247" x2="0" y2="1"><stop offset="0" stop-color="#fff8f8"/><stop offset="0.3037" stop-color="#fff7f7"/><stop offset="0.3349" stop-color="#ffebeb"/><stop offset="0.6153" stop-color="#ffeded"/><stop offset="0.6495" stop-color="#fff8f8"/><stop offset="1" stop-color="#fff8f8"/></linearGradient><linearGradient id="g248" x2="0" y2="1"><stop offset="0" stop-color="#fff8f8"/><stop offset="0.3131" stop-color="#fff5f5"/><stop offset="0.4159" stop-color="#fff1f1"/><stop offset="0.6215" stop-color="#fff4f4"/><stop offset="0.6838" stop-color="#fff8f8"/><stop offset="1" stop-color="#fff8f8"/></linearGradient><linearGradient id="g249" x2="0" y2="1"><stop offset="0" stop-color="#fff2f2"/><stop offset="1" stop-color="#fff4f4"/></linearGradient><linearGradient id="g250" x2="0" y2="1"><stop offset="0" stop-color="#fff2f2"/><stop offset="0.6994" stop-color="#fffafa"/><stop offset="1" stop-color="#fffafa"/></linearGradient><linearGradient id="g251" x2="0" y2="1"><stop offset="0" stop-color="#ffe2e2"/><stop offset="0.2383" stop-color="#fff2f2"/><stop offset="0.6869" stop-color="#fff8f8"/><stop offset="1" stop-color="#fff9f9"/></linearGradient><linearGradient id="g252" x2="0" y2="1"><stop offset="0" stop-color="#ffb4b4"/><stop offset="0.1417" stop-color="#ffc5c5"/><stop offset="0.2819" stop-color="#ffe9e9"/><stop offset="0.6651" stop-color="#fff2f2"/><stop offset="1" stop-color="#fff6f6"/></linearGradient><linearGradient id="g253" x2="0" y2="1"><stop offset="0" stop-color="#ff5f59"/><stop offset="0.1324" stop-color="#ff6f6d"/><stop offset="0.1885" stop-color="#ff9191"/><stop offset="0.2601" stop-color="#ffc6c6"/><stop offset="0.3131" stop-color="#ffd8d8"/><stop offset="0.5062" stop-color="#ffe2e2"/><stop offset="0.6464" stop-color="#ffe1e1"/><stop offset="0.8053" stop-color="#ffe4e4"/><stop offset="1" stop-color="#ffebeb"/></linearGradient><linearGradient id="g254" x2="0" y2="1"><stop offset="0" stop-color="#ff310c"/><stop offset="0.1293" stop-color="#ff230f"/><stop offset="0.148" stop-color="#ff1712"/><stop offset="0.1916" stop-color="#ff3e3e"/><stop offset="0.2103" stop-color="#ff5a5a"/><stop offset="0.2539" stop-color="#ff9898"/><stop offset="0.3069" stop-color="#ffbcbc"/><stop offset="0.3972" stop-color="#ffcccc"/><stop offset="0.6308" stop-color="#ffd4d4"/><stop offset="0.7025" stop-color="#ffc9c9"/><stop offset="1" stop-color="#ffdede"/></linearGradient><linearGradient id="g255" x2="0" y2="1"><stop offset="0" stop-color="#ff3701"/><stop offset="0.1293" stop-color="#ff2a03"/><stop offset="0.1729" stop-color="#ff120e"/><stop offset="0.1822" stop-color="#ff1515"/><stop offset="0.204" stop-color="#ff3232"/><stop offset="0.2414" stop-color="#ff7878"/><stop offset="0.2601" stop-color="#ff8f8f"/><stop offset="0.3037" stop-color="#ffb2b2"/><stop offset="0.3972" stop-color="#ffc3c3"/><stop offset="0.6308" stop-color="#ffcccc"/><stop offset="0.6994" stop-color="#ffbbbb"/><stop offset="0.9081" stop-color="#ffc1c1"/><stop offset="1" stop-color="#ffcaca"/></linearGradient><linearGradient id="g256" x2="0" y2="1"><stop offset="0" stop-color="#ff2118"/><stop offset="0.1293" stop-color="#ff2c25"/><stop offset="0.1885" stop-color="#ff5858"/><stop offset="0.2165" stop-color="#ff7979"/><stop offset="0.2539" stop-color="#ffa7a7"/><stop offset="0.3069" stop-color="#ffc4c4"/><stop offset="0.4252" stop-color="#ffd1d1"/><stop offset="0.6371" stop-color="#ffd6d6"/><stop offset="0.7087" stop-color="#ffc6c6"/><stop offset="0.9174" stop-color="#ffbbbb"/><stop offset="1" stop-color="#ffbebe"/></linearGradient><linearGradient id="g257" x2="0" y2="1"><stop offset="0" stop-color="#ff8080"/><stop offset="0.1324" stop-color="#ff8d8d"/><stop offset="0.2196" stop-color="#ffbaba"/><stop offset="0.2664" stop-color="#ffd4d4"/><stop offset="0.3069" stop-color="#ffdcdc"/><stop offset="0.3536" stop-color="#ffdada"/><stop offset="0.6215" stop-color="#ffe3e3"/><stop offset="0.6589" stop-color="#ffe5e5"/><stop offset="1" stop-color="#ffcaca"/></linearGradient><linearGradient id="g258" x2="0" y2="1"><stop offset="0" stop-color="#ffc9c9"/><stop offset="0.1511" stop-color="#ffd3d3"/><stop offset="0.2975" stop-color="#ffecec"/><stop offset="0.3349" stop-color="#ffdede"/><stop offset="0.6153" stop-color="#ffe3e3"/><stop offset="0.6464" stop-color="#ffeeee"/><stop offset="1" stop-color="#ffdddd"/></linearGradient><linearGradient id="g259" x2="0" y2="1"><stop offset="0" stop-color="#ffe5e5"/><stop offset="0.3037" stop-color="#ffeded"/><stop offset="0.3349" stop-color="#ffe0e0"/><stop offset="0.6153" stop-color="#ffe3e3"/><stop offset="0.6433" stop-color="#fff1f1"/><stop offset="0.9455" stop-color="#fff1f1"/><stop offset="1" stop-color="#ffefef"/></linearGradient><linearGradient id="g260" x2="0" y2="1"><stop offset="0" stop-color="#ffecec"/><stop offset="0.31" stop-color="#ffecec"/><stop offset="0.3505" stop-color="#ffe6e6"/><stop offset="0.6184" stop-color="#ffe9e9"/><stop offset="0.6526" stop-color="#ffecec"/><stop offset="0.7181" stop-color="#ffeeee"/><stop offset="0.9081" stop-color="#fff8f8"/><stop offset="1" stop-color="#fff8f8"/></linearGradient><linearGradient id="g261" x2="0" y2="1"><stop offset="0" stop-color="#ffeded"/><stop offset="0.6402" stop-color="#ffeaea"/><stop offset="0.6963" stop-color="#ffe0e0"/><stop offset="0.9174" stop-color="#fff7f7"/><stop offset="1" stop-color="#fff9f9"/></linearGradient><linearGradient id="g262" x2="0" y2="1"><stop offset="0" stop-color="#fff1f1"/><stop offset="0.634" stop-color="#ffeded"/><stop offset="0.6994" stop-color="#ffdbdb"/><stop offset="0.8209" stop-color="#ffe3e3"/><stop offset="0.9953" stop-color="#fff7f7"/><stop offset="1" stop-color="#fff7f7"/></linearGradient><linearGradient id="g263" x2="0" y2="1"><stop offset="0" stop-color="#fff5f5"/><stop offset="0.6402" stop-color="#fff3f3"/><stop offset="0.7274" stop-color="#ffdfdf"/><stop offset="0.8364" stop-color="#ffdbdb"/><stop offset="1" stop-color="#fff2f2"/></linearGradient><linearGradient id="g264" x2="0" y2="1"><stop offset="0" stop-color="#fff8f8"/><stop offset="0.6589" stop-color="#fff6f6"/><stop offset="0.8707" stop-color="#ffd9d9"/><stop offset="1" stop-color="#ffe8e8"/></linearGradient><linearGradient id="g265" x2="0" y2="1"><stop offset="0" stop-color="#fff9f9"/><stop offset="0.7056" stop-color="#fff6f6"/><stop offset="0.9361" stop-color="#ffdbdb"/><stop offset="1" stop-color="#ffdede"/></linearGradient><linearGradient id="g266" x2="0" y2="1"><stop offset="0" stop-color="#fff7f7"/><stop offset="0.6246" stop-color="#fff7f7"/><stop offset="0.8053" stop-color="#fff4f4"/><stop offset="1" stop-color="#ffdddd"/></linearGradient><linearGradient id="g267" x2="0" y2="1"><stop offset="0" stop-color="#fff6f6"/><stop offset="0.6215" stop-color="#fff6f6"/><stop offset="0.8583" stop-color="#fff6f6"/><stop offset="1" stop-color="#ffe7e7"/></linearGradient><linearGradient id="g268" x2="0" y2="1"><stop offset="0" stop-color="#fff5f5"/><stop offset="0.9268" stop-color="#fff4f4"/><stop offset="1" stop-color="#fff0f0"/></linearGradient><linearGradient id="g269" x2="0" y2="1"><stop offset="0" stop-color="#fff0f0"/><stop offset="0.3131" stop-color="#fff3f3"/><stop offset="0.6277" stop-color="#fff2f2"/><stop offset="1" stop-color="#ffeeee"/></linearGradient><linearGradient id="g270" x2="0" y2="1"><stop offset="0" stop-color="#ffe8e8"/><stop offset="0.3037" stop-color="#ffeaea"/><stop offset="0.338" stop-color="#fff4f4"/><stop offset="0.6153" stop-color="#fff2f2"/><stop offset="0.6464" stop-color="#ffe6e6"/><stop offset="1" stop-color="#ffe6e6"/></linearGradient><linearGradient id="g271" x2="0" y2="1"><stop offset="0" stop-color="#ffe8e8"/><stop offset="0.3037" stop-color="#ffebeb"/><stop offset="0.3318" stop-color="#fff9f9"/><stop offset="0.6153" stop-color="#fff7f7"/><stop offset="0.6464" stop-color="#ffeaea"/><stop offset="1" stop-color="#ffeaea"/></linearGradient><linearGradient id="g272" x2="0" y2="1"><stop offset="0" stop-color="#ffe9e9"/><stop offset="0.3037" stop-color="#ffecec"/><stop offset="0.3349" stop-color="#fff8f8"/><stop offset="0.6215" stop-color="#fff6f6"/><stop offset="0.6651" stop-color="#fff0f0"/><stop offset="1" stop-color="#fff0f0"/></linearGradient><linearGradient id="g273" x2="0" y2="1"><stop offset="0" stop-color="#ffefef"/><stop offset="0.3162" stop-color="#fff2f2"/><stop offset="1" stop-color="#fff3f3"/></linearGradient><linearGradient id="g274" x2="0" y2="1"><stop offset="0" stop-color="#fff0f0"/><stop offset="0.6371" stop-color="#fff1f1"/><stop offset="1" stop-color="#fff0f0"/></linearGradient><linearGradient id="g275" x2="0" y2="1"><stop offset="0" stop-color="#ffe8e8"/><stop offset="0.4159" stop-color="#ffeaea"/><stop offset="0.6121" stop-color="#fff4f4"/><stop offset="0.6526" stop-color="#ffebeb"/><stop offset="1" stop-color="#ffecec"/></linearGradient><linearGradient id="g276" x2="0" y2="1"><stop offset="0" stop-color="#ffdede"/><stop offset="0.3224" stop-color="#ffdddd"/><stop offset="0.3941" stop-color="#ffd2d2"/><stop offset="0.4907" stop-color="#ffe0e0"/><stop offset="0.609" stop-color="#fff3f3"/><stop offset="0.6464" stop-color="#ffe4e4"/><stop offset="1" stop-color="#ffe7e7"/></linearGradient><linearGradient id="g277" x2="0" y2="1"><stop offset="0" stop-color="#ffd7d7"/><stop offset="0.3193" stop-color="#ffd5d5"/><stop offset="0.4252" stop-color="#ffabab"/><stop offset="0.4751" stop-color="#ffabab"/><stop offset="0.609" stop-color="#ffe9e9"/><stop offset="0.6495" stop-color="#ffe0e0"/><stop offset="1" stop-color="#ffe6e6"/></linearGradient><linearGradient id="g278" x2="0" y2="1"><stop offset="0" stop-color="#ffdbdb"/><stop offset="0.3287" stop-color="#ffd9d9"/><stop offset="0.3847" stop-color="#ffbebe"/><stop offset="0.4688" stop-color="#ff7f7f"/><stop offset="0.4969" stop-color="#ff7e7e"/><stop offset="0.5498" stop-color="#ff9696"/><stop offset="0.5685" stop-color="#ffa6a6"/><stop offset="0.609" stop-color="#ffd3d3"/><stop offset="0.6776" stop-color="#ffe6e6"/><stop offset="1" stop-color="#ffecec"/></linearGradient><linearGradient id="g279" x2="0" y2="1"><stop offset="0" stop-color="#ffe6e6"/><stop offset="0.3505" stop-color="#ffe5e5"/><stop offset="0.4003" stop-color="#ffd3d3"/><stop offset="0.4626" stop-color="#ff9c9c"/><stop offset="0.4875" stop-color="#ff8484"/><stop offset="0.5405" stop-color="#ff6b6b"/><stop offset="0.5623" stop-color="#ff6969"/><stop offset="0.6121" stop-color="#ffb2b2"/><stop offset="0.6558" stop-color="#ffe1e1"/><stop offset="0.7056" stop-color="#ffeded"/><stop offset="1" stop-color="#fff1f1"/></linearGradient><linearGradient id="g280" x2="0" y2="1"><stop offset="0" stop-color="#ffeaea"/><stop offset="0.31" stop-color="#ffecec"/><stop offset="0.3598" stop-color="#fff0f0"/><stop offset="0.4252" stop-color="#ffe1e1"/><stop offset="0.4657" stop-color="#ffcaca"/><stop offset="0.5436" stop-color="#ff8989"/><stop offset="0.5654" stop-color="#ff7979"/><stop offset="0.6059" stop-color="#ff9a9a"/><stop offset="0.634" stop-color="#ffbaba"/><stop offset="0.662" stop-color="#ffe1e1"/><stop offset="0.7118" stop-color="#ffeded"/><stop offset="1" stop-color="#fff1f1"/></linearGradient><linearGradient id="g281" x2="0" y2="1"><stop offset="0" stop-color="#ffe9e9"/><stop offset="0.3037" stop-color="#ffebeb"/><stop offset="0.3349" stop-color="#fff8f8"/><stop offset="0.4533" stop-color="#ffefef"/><stop offset="0.5343" stop-color="#ffd2d2"/><stop offset="0.5685" stop-color="#ffbcbc"/><stop offset="0.6153" stop-color="#ffc1c1"/><stop offset="0.6371" stop-color="#ffd0d0"/><stop offset="0.6682" stop-color="#ffeaea"/><stop offset="0.7181" stop-color="#fff3f3"/><stop offset="1" stop-color="#fff6f6"/></linearGradient><linearGradient id="g282" x2="0" y2="1"><stop offset="0" stop-color="#ffe6e6"/><stop offset="0.3037" stop-color="#ffe9e9"/><stop offset="0.3349" stop-color="#fff7f7"/><stop offset="0.5156" stop-color="#fff0f0"/><stop offset="0.6121" stop-color="#ffe0e0"/><stop offset="0.6526" stop-color="#ffebeb"/><stop offset="0.6994" stop-color="#fff7f7"/><stop offset="1" stop-color="#fff9f9"/></linearGradient><linearGradient id="g283" x2="0" y2="1"><stop offset="0" stop-color="#ffeaea"/><stop offset="0.3069" stop-color="#ffeded"/><stop offset="0.3411" stop-color="#fff4f4"/><stop offset="0.6464" stop-color="#fff1f1"/><stop offset="0.7368" stop-color="#fff9f9"/><stop offset="1" stop-color="#fffafa"/></linearGradient><linearGradient id="g284" x2="0" y2="1"><stop offset="0" stop-color="#ffebeb"/><stop offset="0.3224" stop-color="#ffeeee"/><stop offset="0.6558" stop-color="#fff1f1"/><stop offset="0.7555" stop-color="#fffafa"/><stop offset="1" stop-color="#fffafa"/></linearGradient><linearGradient id="g285" x2="0" y2="1"><stop offset="0" stop-color="#ffeded"/><stop offset="0.6371" stop-color="#ffecec"/><stop offset="0.6838" stop-color="#ffefef"/><stop offset="0.7617" stop-color="#fffafa"/><stop offset="1" stop-color="#fffafa"/></linearGradient><linearGradient id="g286" x2="0" y2="1"><stop offset="0" stop-color="#fff1f1"/><stop offset="0.6308" stop-color="#ffeeee"/><stop offset="0.6745" stop-color="#ffe3e3"/><stop offset="0.7679" stop-color="#fff9f9"/><stop offset="1" stop-color="#fffafa"/></linearGradient><linearGradient id="g287" x2="0" y2="1"><stop offset="0" stop-color="#fff4f4"/><stop offset="0.6277" stop-color="#fff1f1"/><stop offset="0.6931" stop-color="#ffd7d7"/><stop offset="0.7243" stop-color="#ffe0e0"/><stop offset="0.7741" stop-color="#fff2f2"/><stop offset="1" stop-color="#fff6f6"/></linearGradient><linearGradient id="g288" x2="0" y2="1"><stop offset="0" stop-color="#fff2f2"/><stop offset="0.6433" stop-color="#ffeeee"/><stop offset="0.715" stop-color="#ffcccc"/><stop offset="0.7928" stop-color="#ffefef"/><stop offset="0.9361" stop-color="#fff4f4"/><stop offset="1" stop-color="#fff4f4"/></linearGradient><linearGradient id="g289" x2="0" y2="1"><stop offset="0" stop-color="#fff1f1"/><stop offset="0.6558" stop-color="#fff2f2"/><stop offset="0.6994" stop-color="#ffdcdc"/><stop offset="0.7274" stop-color="#ffcdcd"/><stop offset="0.7586" stop-color="#ffd5d5"/><stop offset="0.8178" stop-color="#fff0f0"/><stop offset="0.9361" stop-color="#fff6f6"/><stop offset="1" stop-color="#fff6f6"/></linearGradient><linearGradient id="g290" x2="0" y2="1"><stop offset="0" stop-color="#ffeeee"/><stop offset="0.3069" stop-color="#fff1f1"/><stop offset="0.3411" stop-color="#fff9f9"/><stop offset="0.6526" stop-color="#fff5f5"/><stop offset="0.6994" stop-color="#ffe9e9"/><stop offset="0.7555" stop-color="#ffcdcd"/><stop offset="0.7866" stop-color="#ffd5d5"/><stop offset="0.8458" stop-color="#fff1f1"/><stop offset="0.9735" stop-color="#fff6f6"/><stop offset="1" stop-color="#fff6f6"/></linearGradient><linearGradient id="g291" x2="0" y2="1"><stop offset="0" stop-color="#ffe6e6"/><stop offset="0.3037" stop-color="#ffe9e9"/><stop offset="0.3318" stop-color="#fff9f9"/><stop offset="0.6184" stop-color="#fff7f7"/><stop offset="0.6589" stop-color="#ffefef"/><stop offset="0.715" stop-color="#ffe6e6"/><stop offset="0.7804" stop-color="#ffc3c3"/><stop offset="0.8084" stop-color="#ffc9c9"/><stop offset="0.8676" stop-color="#ffe9e9"/><stop offset="0.9548" stop-color="#fff0f0"/><stop offset="1" stop-color="#fff0f0"/></linearGradient><linearGradient id="g292" x2="0" y2="1"><stop offset="0" stop-color="#ffe7e7"/><stop offset="0.3037" stop-color="#ffeaea"/><stop offset="0.3318" stop-color="#fff8f8"/><stop offset="0.6153" stop-color="#fff6f6"/><stop offset="0.6464" stop-color="#ffeaea"/><stop offset="0.7305" stop-color="#ffe4e4"/><stop offset="0.771" stop-color="#ffd0d0"/><stop offset="0.8084" stop-color="#ffbbbb"/><stop offset="0.8364" stop-color="#ffc2c2"/><stop offset="0.8894" stop-color="#ffe2e2"/><stop offset="0.9611" stop-color="#ffeaea"/><stop offset="1" stop-color="#ffeaea"/></linearGradient><linearGradient id="g293" x2="0" y2="1"><stop offset="0" stop-color="#fff1f1"/><stop offset="0.3255" stop-color="#fff4f4"/><stop offset="0.6184" stop-color="#fff2f2"/><stop offset="0.6589" stop-color="#ffebeb"/><stop offset="0.7555" stop-color="#ffe5e5"/><stop offset="0.7991" stop-color="#ffcece"/><stop offset="0.8333" stop-color="#ffbbbb"/><stop offset="0.8614" stop-color="#ffc1c1"/><stop offset="0.9112" stop-color="#ffe2e2"/><stop offset="0.9735" stop-color="#ffebeb"/><stop offset="1" stop-color="#ffebeb"/></linearGradient><linearGradient id="g294" x2="0" y2="1"><stop offset="0" stop-color="#fff7f7"/><stop offset="0.3069" stop-color="#fff5f5"/><stop offset="0.3442" stop-color="#ffeded"/><stop offset="0.634" stop-color="#fff0f0"/><stop offset="0.7741" stop-color="#ffeded"/><stop offset="0.824" stop-color="#ffd7d7"/><stop offset="0.8583" stop-color="#ffc3c3"/><stop offset="0.8832" stop-color="#ffc7c7"/><stop offset="0.9393" stop-color="#ffe9e9"/><stop offset="1" stop-color="#fff1f1"/></linearGradient><linearGradient id="g295" x2="0" y2="1"><stop offset="0" stop-color="#fffafa"/><stop offset="0.3037" stop-color="#fff7f7"/><stop offset="0.3349" stop-color="#ffeaea"/><stop offset="0.6153" stop-color="#ffecec"/><stop offset="0.6495" stop-color="#fff7f7"/><stop offset="0.8022" stop-color="#fff3f3"/><stop offset="0.8489" stop-color="#ffdede"/><stop offset="0.8863" stop-color="#ffcbcb"/><stop offset="0.9174" stop-color="#ffd6d6"/><stop offset="0.9735" stop-color="#fff1f1"/><stop offset="1" stop-color="#fff5f5"/></linearGradient><linearGradient id="g296" x2="0" y2="1"><stop offset="0" stop-color="#fffafa"/><stop offset="0.3037" stop-color="#fff9f9"/><stop offset="0.338" stop-color="#ffeeee"/><stop offset="0.6184" stop-color="#fff1f1"/><stop offset="0.6495" stop-color="#fffafa"/><stop offset="0.8271" stop-color="#fff6f6"/><stop offset="0.8769" stop-color="#ffe0e0"/><stop offset="0.9143" stop-color="#ffd1d1"/><stop offset="0.9517" stop-color="#ffdede"/><stop offset="1" stop-color="#fff4f4"/></linearGradient><linearGradient id="g297" x2="0" y2="1"><stop offset="0" stop-color="#fffbfb"/><stop offset="0.3131" stop-color="#fff8f8"/><stop offset="0.3536" stop-color="#fff2f2"/><stop offset="0.6184" stop-color="#fff5f5"/><stop offset="0.6651" stop-color="#fffafa"/><stop offset="0.8551" stop-color="#fff6f6"/><stop offset="0.9424" stop-color="#ffd4d4"/><stop offset="0.986" stop-color="#ffe4e4"/><stop offset="1" stop-color="#ffeaea"/></linearGradient><linearGradient id="g298" x2="0" y2="1"><stop offset="0" stop-color="#fffbfb"/><stop offset="0.3193" stop-color="#fff8f8"/><stop offset="0.6215" stop-color="#fff9f9"/><stop offset="0.8769" stop-color="#fff7f7"/><stop offset="0.933" stop-color="#ffe2e2"/><stop offset="0.9735" stop-color="#ffd6d6"/><stop offset="1" stop-color="#ffdede"/></linearGradient><linearGradient id="g299" x2="0" y2="1"><stop offset="0" stop-color="#fffbfb"/><stop offset="0.9019" stop-color="#fff7f7"/><stop offset="0.9611" stop-color="#ffe2e2"/><stop offset="1" stop-color="#ffd8d8"/></linearGradient><linearGradient id="g300" x2="0" y2="1"><stop offset="0" stop-color="#fffbfb"/><stop offset="0.634" stop-color="#fff8f8"/><stop offset="0.933" stop-color="#fff4f4"/><stop offset="1" stop-color="#ffdcdc"/></linearGradient><linearGradient id="g301" x2="0" y2="1"><stop offset="0" stop-color="#fffbfb"/><stop offset="0.6184" stop-color="#fff8f8"/><stop offset="0.6558" stop-color="#fff1f1"/><stop offset="0.9611" stop-color="#ffeded"/><stop offset="1" stop-color="#ffe2e2"/></linearGradient><linearGradient id="g302" x2="0" y2="1"><stop offset="0" stop-color="#fffbfb"/><stop offset="0.6153" stop-color="#fff8f8"/><stop offset="0.6433" stop-color="#ffe8e8"/><stop offset="0.9891" stop-color="#ffe4e4"/><stop offset="1" stop-color="#ffe2e2"/></linearGradient><linearGradient id="g303" x2="0" y2="1"><stop offset="0" stop-color="#fffafa"/><stop offset="0.6153" stop-color="#fff5f5"/><stop offset="0.6433" stop-color="#ffe6e6"/><stop offset="1" stop-color="#ffe4e4"/></linearGradient><linearGradient id="g304" x2="0" y2="1"><stop offset="0" stop-color="#fff9f9"/><stop offset="0.6184" stop-color="#fff8f8"/><stop offset="0.6558" stop-color="#fff0f0"/><stop offset="1" stop-color="#fff0f0"/></linearGradient><linearGradient id="g305" x2="0" y2="1"><stop offset="0" stop-color="#fff4f4"/><stop offset="0.31" stop-color="#fff6f6"/><stop offset="0.3785" stop-color="#fffbfb"/><stop offset="1" stop-color="#fff7f7"/></linearGradient><linearGradient id="g306" x2="0" y2="1"><stop offset="0" stop-color="#ffeded"/><stop offset="0.3037" stop-color="#ffefef"/><stop offset="0.338" stop-color="#fffafa"/><stop offset="1" stop-color="#fffafa"/></linearGradient><linearGradient id="g307" x2="0" y2="1"><stop offset="0" stop-color="#ffeaea"/><stop offset="0.3037" stop-color="#ffecec"/><stop offset="0.338" stop-color="#fff7f7"/><stop offset="1" stop-color="#fffbfb"/></linearGradient><linearGradient id="g308" x2="0" y2="1"><stop offset="0" stop-color="#ffefef"/><stop offset="0.6184" stop-color="#fff4f4"/><stop offset="0.6589" stop-color="#fffbfb"/><stop offset="1" stop-color="#fffbfb"/></linearGradient><linearGradient id="g309" x2="0" y2="1"><stop offset="0" stop-color="#fff6f6"/><stop offset="0.3069" stop-color="#fff3f3"/><stop offset="0.3411" stop-color="#ffebeb"/><stop offset="0.6153" stop-color="#ffeded"/><stop offset="0.6464" stop-color="#fffafa"/><stop offset="1" stop-color="#fffafa"/></linearGradient><linearGradient id="g310" x2="0" y2="1"><stop offset="0" stop-color="#fff9f9"/><stop offset="0.3037" stop-color="#fff7f7"/><stop offset="0.3349" stop-color="#ffebeb"/><stop offset="0.6153" stop-color="#ffeded"/><stop offset="0.6464" stop-color="#fffbfb"/><stop offset="1" stop-color="#fffbfb"/></linearGradient><linearGradient id="g311" x2="0" y2="1"><stop offset="0" stop-color="#fffafa"/><stop offset="0.3069" stop-color="#fff8f8"/><stop offset="0.3474" stop-color="#fff1f1"/><stop offset="0.6184" stop-color="#fff4f4"/><stop offset="0.6589" stop-color="#fffbfb"/><stop offset="1" stop-color="#fffbfb"/></linearGradient><linearGradient id="g312" x2="0" y2="1"><stop offset="0" stop-color="#fff9f9"/><stop offset="1" stop-color="#fff8f8"/></linearGradient><linearGradient id="g313" x2="0" y2="1"><stop offset="0" stop-color="#fffafa"/><stop offset="1" stop-color="#fff7f7"/></linearGradient><linearGradient id="g314" x2="0" y2="1"><stop offset="0" stop-color="#fff9f9"/><stop offset="0.6308" stop-color="#fff7f7"/><stop offset="1" stop-color="#fff6f6"/></linearGradient><linearGradient id="g315" x2="0" y2="1"><stop offset="0" stop-color="#fff7f7"/><stop offset="1" stop-color="#fff5f5"/></linearGradient><linearGradient id="g316" x2="0" y2="1"><stop offset="0" stop-color="#fff3f3"/><stop offset="1" stop-color="#fff0f0"/></linearGradient><linearGradient id="g317" x2="0" y2="1"><stop offset="0" stop-color="#fff8f8"/><stop offset="0.6215" stop-color="#fff3f3"/><stop offset="0.6807" stop-color="#ffeeee"/><stop offset="1" stop-color="#fff3f3"/></linearGradient><linearGradient id="g318" x2="0" y2="1"><stop offset="0" stop-color="#fffafa"/><stop offset="0.6153" stop-color="#fff9f9"/><stop offset="0.6464" stop-color="#ffebeb"/><stop offset="0.8302" stop-color="#ffebeb"/><stop offset="1" stop-color="#fff5f5"/></linearGradient><linearGradient id="g319" x2="0" y2="1"><stop offset="0" stop-color="#fffafa"/><stop offset="0.6153" stop-color="#fff8f8"/><stop offset="0.6402" stop-color="#ffe2e2"/><stop offset="0.7991" stop-color="#ffd1d1"/><stop offset="1" stop-color="#ffecec"/></linearGradient><linearGradient id="g320" x2="0" y2="1"><stop offset="0" stop-color="#fffafa"/><stop offset="0.6153" stop-color="#fff5f5"/><stop offset="0.6402" stop-color="#ffdbdb"/><stop offset="0.8053" stop-color="#ffa7a7"/><stop offset="0.9579" stop-color="#ffc7c7"/><stop offset="1" stop-color="#ffd1d1"/></linearGradient><linearGradient id="g321" x2="0" y2="1"><stop offset="0" stop-color="#fff7f7"/><stop offset="0.4626" stop-color="#fff2f2"/><stop offset="0.6153" stop-color="#fff4f4"/><stop offset="0.6433" stop-color="#ffdcdc"/><stop offset="0.7461" stop-color="#ffacac"/><stop offset="0.8178" stop-color="#ff8484"/><stop offset="0.933" stop-color="#ff9191"/><stop offset="1" stop-color="#ffa2a2"/></linearGradient><linearGradient id="g322" x2="0" y2="1"><stop offset="0" stop-color="#fff1f1"/><stop offset="0.2788" stop-color="#ffe4e4"/><stop offset="0.3474" stop-color="#ffe0e0"/><stop offset="0.5748" stop-color="#ffebeb"/><stop offset="0.6184" stop-color="#ffeeee"/><stop offset="0.7243" stop-color="#ffc8c8"/><stop offset="0.8053" stop-color="#ff9696"/><stop offset="0.8489" stop-color="#ff8787"/><stop offset="0.9642" stop-color="#ff7979"/><stop offset="1" stop-color="#ff7a7a"/></linearGradient><linearGradient id="g323" x2="0" y2="1"><stop offset="0" stop-color="#ffe8e8"/><stop offset="0.2601" stop-color="#ffd5d5"/><stop offset="0.3224" stop-color="#ffc4c4"/><stop offset="0.5218" stop-color="#ffd5d5"/><stop offset="0.6433" stop-color="#ffeaea"/><stop offset="0.7492" stop-color="#ffd6d6"/><stop offset="0.8364" stop-color="#ffb3b3"/><stop offset="1" stop-color="#ff8686"/></linearGradient><linearGradient id="g324" x2="0" y2="1"><stop offset="0" stop-color="#ffe4e4"/><stop offset="0.257" stop-color="#ffcdcd"/><stop offset="0.3193" stop-color="#ffb6b6"/><stop offset="0.5187" stop-color="#ffcaca"/><stop offset="0.6121" stop-color="#ffe3e3"/><stop offset="0.6464" stop-color="#ffeded"/><stop offset="0.7866" stop-color="#ffe2e2"/><stop offset="0.9455" stop-color="#ffc4c4"/><stop offset="1" stop-color="#ffb6b6"/></linearGradient><linearGradient id="g325" x2="0" y2="1"><stop offset="0" stop-color="#ffe8e8"/><stop offset="0.2601" stop-color="#ffd5d5"/><stop offset="0.3224" stop-color="#ffc4c4"/><stop offset="0.5218" stop-color="#ffd5d5"/><stop offset="0.6153" stop-color="#ffe8e8"/><stop offset="0.6495" stop-color="#fff1f1"/><stop offset="0.8988" stop-color="#ffeaea"/><stop offset="1" stop-color="#ffdfdf"/></linearGradient><linearGradient id="g326" x2="0" y2="1"><stop offset="0" stop-color="#ffeeee"/><stop offset="0.2788" stop-color="#ffe1e1"/><stop offset="0.4097" stop-color="#ffe2e2"/><stop offset="0.6028" stop-color="#ffeeee"/><stop offset="0.662" stop-color="#fff6f6"/><stop offset="1" stop-color="#fff2f2"/></linearGradient><linearGradient id="g327" x2="0" y2="1"><stop offset="0" stop-color="#fff4f4"/><stop offset="0.3505" stop-color="#fff1f1"/><stop offset="0.8614" stop-color="#fff9f9"/><stop offset="1" stop-color="#fff8f8"/></linearGradient><linearGradient id="g328" x2="0" y2="1"><stop offset="0" stop-color="#fff9f9"/><stop offset="1" stop-color="#fffafa"/></linearGradient><linearGradient id="g329" x2="0" y2="1"><stop offset="0" stop-color="#fffafa"/><stop offset="0.6277" stop-color="#fff9f9"/><stop offset="1" stop-color="#fffafa"/></linearGradient><linearGradient id="g330" x2="0" y2="1"><stop offset="0" stop-color="#fff8f8"/><stop offset="0.3069" stop-color="#fff6f6"/><stop offset="0.3474" stop-color="#ffefef"/><stop offset="0.6184" stop-color="#fff1f1"/><stop offset="0.6589" stop-color="#fff8f8"/><stop offset="1" stop-color="#fff8f8"/></linearGradient><linearGradient id="g331" x2="0" y2="1"><stop offset="0" stop-color="#fffafa"/><stop offset="0.3037" stop-color="#fff8f8"/><stop offset="0.3349" stop-color="#ffeaea"/><stop offset="0.6153" stop-color="#ffecec"/><stop offset="0.6464" stop-color="#fffafa"/><stop offset="1" stop-color="#fffafa"/></linearGradient><linearGradient id="g332" x2="0" y2="1"><stop offset="0" stop-color="#fff9f9"/><stop offset="0.3037" stop-color="#fff7f7"/><stop offset="0.3318" stop-color="#ffe8e8"/><stop offset="0.6153" stop-color="#ffeaea"/><stop offset="0.6464" stop-color="#fff7f7"/><stop offset="1" stop-color="#fff7f7"/></linearGradient><linearGradient id="g333" x2="0" y2="1"><stop offset="0" stop-color="#fff7f7"/><stop offset="0.31" stop-color="#fff4f4"/><stop offset="0.3567" stop-color="#ffefef"/><stop offset="0.6215" stop-color="#fff2f2"/><stop offset="0.6838" stop-color="#fff6f6"/><stop offset="1" stop-color="#fff6f6"/></linearGradient><linearGradient id="g334" x2="0" y2="1"><stop offset="0" stop-color="#fff4f4"/><stop offset="0.31" stop-color="#fff6f6"/><stop offset="0.6184" stop-color="#fff5f5"/><stop offset="0.6495" stop-color="#ffebeb"/><stop offset="1" stop-color="#ffecec"/></linearGradient><linearGradient id="g335" x2="0" y2="1"><stop offset="0" stop-color="#ffefef"/><stop offset="0.31" stop-color="#fff2f2"/><stop offset="0.609" stop-color="#fff5f5"/><stop offset="0.6433" stop-color="#ffe1e1"/><stop offset="0.8925" stop-color="#ffe7e7"/><stop offset="1" stop-color="#ffe7e7"/></linearGradient><linearGradient id="g336" x2="0" y2="1"><stop offset="0" stop-color="#ffecec"/><stop offset="0.3069" stop-color="#ffeeee"/><stop offset="0.472" stop-color="#fff2f2"/><stop offset="0.6153" stop-color="#ffefef"/><stop offset="0.6464" stop-color="#ffdddd"/><stop offset="0.8084" stop-color="#ffe9e9"/><stop offset="1" stop-color="#ffe9e9"/></linearGradient><linearGradient id="g337" x2="0" y2="1"><stop offset="0" stop-color="#ffe8e8"/><stop offset="0.3069" stop-color="#ffeaea"/><stop offset="0.3536" stop-color="#fff0f0"/><stop offset="0.6215" stop-color="#ffeded"/><stop offset="0.6526" stop-color="#ffdcdc"/><stop offset="0.6994" stop-color="#ffdddd"/><stop offset="0.7991" stop-color="#fff0f0"/><stop offset="1" stop-color="#fff1f1"/></linearGradient><linearGradient id="g338" x2="0" y2="1"><stop offset="0" stop-color="#ffe3e3"/><stop offset="0.3037" stop-color="#ffe5e5"/><stop offset="0.3349" stop-color="#fff1f1"/><stop offset="0.6277" stop-color="#ffeeee"/><stop offset="0.6869" stop-color="#ffd2d2"/><stop offset="0.7336" stop-color="#ffd8d8"/><stop offset="0.8115" stop-color="#fff3f3"/><stop offset="1" stop-color="#fff6f6"/></linearGradient><linearGradient id="g339" x2="0" y2="1"><stop offset="0" stop-color="#ffe4e4"/><stop offset="0.3037" stop-color="#ffe6e6"/><stop offset="0.338" stop-color="#fff2f2"/><stop offset="0.634" stop-color="#fff1f1"/><stop offset="0.7243" stop-color="#ffc0c0"/><stop offset="0.7523" stop-color="#ffc3c3"/><stop offset="0.8209" stop-color="#ffefef"/><stop offset="0.8894" stop-color="#fff9f9"/><stop offset="1" stop-color="#fff9f9"/></linearGradient><linearGradient id="g340" x2="0" y2="1"><stop offset="0" stop-color="#ffecec"/><stop offset="0.3069" stop-color="#ffeeee"/><stop offset="0.3505" stop-color="#fff4f4"/><stop offset="0.6464" stop-color="#fff2f2"/><stop offset="0.6931" stop-color="#ffd9d9"/><stop offset="0.7461" stop-color="#ffa7a7"/><stop offset="0.771" stop-color="#ffa3a3"/><stop offset="0.8084" stop-color="#ffcaca"/><stop offset="0.8458" stop-color="#ffe8e8"/><stop offset="0.8988" stop-color="#fff7f7"/><stop offset="1" stop-color="#fff9f9"/></linearGradient><linearGradient id="g341" x2="0" y2="1"><stop offset="0" stop-color="#fff5f5"/><stop offset="0.6589" stop-color="#fff6f6"/><stop offset="0.7025" stop-color="#ffe4e4"/><stop offset="0.7274" stop-color="#ffcccc"/><stop offset="0.7741" stop-color="#ff8d8d"/><stop offset="0.796" stop-color="#ff9393"/><stop offset="0.8645" stop-color="#ffdddd"/><stop offset="0.905" stop-color="#fff3f3"/><stop offset="0.9922" stop-color="#fffafa"/><stop offset="1" stop-color="#fffafa"/></linearGradient><linearGradient id="g342" x2="0" y2="1"><stop offset="0" stop-color="#fff8f8"/><stop offset="0.6807" stop-color="#fff8f8"/><stop offset="0.7212" stop-color="#ffe9e9"/><stop offset="0.7492" stop-color="#ffcece"/><stop offset="0.7835" stop-color="#ff9999"/><stop offset="0.8053" stop-color="#ff8989"/><stop offset="0.8271" stop-color="#ff8b8b"/><stop offset="0.8614" stop-color="#ffafaf"/><stop offset="0.8988" stop-color="#ffdcdc"/><stop offset="0.9393" stop-color="#fff3f3"/><stop offset="1" stop-color="#fffafa"/></linearGradient><linearGradient id="g343" x2="0" y2="1"><stop offset="0" stop-color="#fff6f6"/><stop offset="0.7056" stop-color="#fff8f8"/><stop offset="0.7461" stop-color="#ffeaea"/><stop offset="0.7773" stop-color="#ffcccc"/><stop offset="0.8302" stop-color="#ff8b8b"/><stop offset="0.852" stop-color="#ff8282"/><stop offset="0.8738" stop-color="#ff8e8e"/><stop offset="0.9299" stop-color="#ffd9d9"/><stop offset="0.9704" stop-color="#fff1f1"/><stop offset="1" stop-color="#fff7f7"/></linearGradient><linearGradient id="g344" x2="0" y2="1"><stop offset="0" stop-color="#ffefef"/><stop offset="0.3069" stop-color="#fff2f2"/><stop offset="0.3474" stop-color="#fff9f9"/><stop offset="0.7399" stop-color="#fff7f7"/><stop offset="0.7835" stop-color="#ffe6e6"/><stop offset="0.8146" stop-color="#ffcaca"/><stop offset="0.8676" stop-color="#ff8686"/><stop offset="0.8832" stop-color="#ff8282"/><stop offset="0.905" stop-color="#ff9090"/><stop offset="0.9642" stop-color="#ffd9d9"/><stop offset="1" stop-color="#ffefef"/></linearGradient><linearGradient id="g345" x2="0" y2="1"><stop offset="0" stop-color="#ffeaea"/><stop offset="0.3069" stop-color="#ffeded"/><stop offset="0.3411" stop-color="#fff5f5"/><stop offset="0.6246" stop-color="#fff8f8"/><stop offset="0.7679" stop-color="#fff8f8"/><stop offset="0.8146" stop-color="#ffe9e9"/><stop offset="0.8489" stop-color="#ffcccc"/><stop offset="0.8925" stop-color="#ff9595"/><stop offset="0.9143" stop-color="#ff8b8b"/><stop offset="0.9393" stop-color="#ff9696"/><stop offset="1" stop-color="#ffd9d9"/></linearGradient><linearGradient id="g346" x2="0" y2="1"><stop offset="0" stop-color="#ffecec"/><stop offset="0.6153" stop-color="#fff0f0"/><stop offset="0.6495" stop-color="#fffbfb"/><stop offset="0.8146" stop-color="#fff6f6"/><stop offset="0.8583" stop-color="#ffe4e4"/><stop offset="0.8956" stop-color="#ffc0c0"/><stop offset="0.9393" stop-color="#ff9797"/><stop offset="0.9642" stop-color="#ff9797"/><stop offset="1" stop-color="#ffb4b4"/></linearGradient><linearGradient id="g347" x2="0" y2="1"><stop offset="0" stop-color="#fff2f2"/><stop offset="0.3069" stop-color="#ffefef"/><stop offset="0.3442" stop-color="#ffe7e7"/><stop offset="0.6153" stop-color="#ffeaea"/><stop offset="0.6433" stop-color="#fffafa"/><stop offset="0.8489" stop-color="#fff6f6"/><stop offset="0.8956" stop-color="#ffe4e4"/><stop offset="0.933" stop-color="#ffc3c3"/><stop offset="0.9735" stop-color="#ffa0a0"/><stop offset="1" stop-color="#ff9e9e"/></linearGradient><linearGradient id="g348" x2="0" y2="1"><stop offset="0" stop-color="#fff8f8"/><stop offset="0.3069" stop-color="#fff5f5"/><stop offset="0.338" stop-color="#ffecec"/><stop offset="0.6153" stop-color="#ffefef"/><stop offset="0.6464" stop-color="#fffbfb"/><stop offset="0.8832" stop-color="#fff7f7"/><stop offset="0.933" stop-color="#ffe6e6"/><stop offset="0.9735" stop-color="#ffc5c5"/><stop offset="1" stop-color="#ffb0b0"/></linearGradient><linearGradient id="g349" x2="0" y2="1"><stop offset="0" stop-color="#fffbfb"/><stop offset="0.3131" stop-color="#fff8f8"/><stop offset="0.5187" stop-color="#fff4f4"/><stop offset="0.6246" stop-color="#fff8f8"/><stop offset="0.743" stop-color="#fffbfb"/><stop offset="0.9268" stop-color="#fff7f7"/><stop offset="0.9766" stop-color="#ffe4e4"/><stop offset="1" stop-color="#ffd6d6"/></linearGradient><linearGradient id="g350" x2="0" y2="1"><stop offset="0" stop-color="#fffbfb"/><stop offset="0.9548" stop-color="#fff8f8"/><stop offset="1" stop-color="#ffeeee"/></linearGradient><linearGradient id="g351" x2="0" y2="1"><stop offset="0" stop-color="#fffbfb"/><stop offset="0.9953" stop-color="#fff7f7"/><stop offset="1" stop-color="#fff7f7"/></linearGradient><linearGradient id="g352" x2="0" y2="1"><stop offset="0" stop-color="#fffbfb"/><stop offset="1" stop-color="#fff7f7"/></linearGradient><linearGradient id="g353" x2="0" y2="1"><stop offset="0" stop-color="#fffbfb"/><stop offset="0.6184" stop-color="#fff9f9"/><stop offset="0.6589" stop-color="#fff2f2"/><stop offset="1" stop-color="#fff2f2"/></linearGradient><linearGradient id="g354" x2="0" y2="1"><stop offset="0" stop-color="#fffbfb"/><stop offset="0.6153" stop-color="#fff9f9"/><stop offset="0.6464" stop-color="#ffecec"/><stop offset="1" stop-color="#ffecec"/></linearGradient><linearGradient id="g355" x2="0" y2="1"><stop offset="0" stop-color="#fffafa"/><stop offset="0.6215" stop-color="#fff7f7"/><stop offset="0.662" stop-color="#fff2f2"/><stop offset="1" stop-color="#fff2f2"/></linearGradient><linearGradient id="g356" x2="0" y2="1"><stop offset="0" stop-color="#fffbfb"/><stop offset="0.6371" stop-color="#fff8f8"/><stop offset="1" stop-color="#fff7f7"/></linearGradient><linearGradient id="g357" x2="0" y2="1"><stop offset="0" stop-color="#fffbfb"/><stop offset="1" stop-color="#fff8f8"/></linearGradient><linearGradient id="g358" x2="0" y2="1"><stop offset="0" stop-color="#fff6f6"/><stop offset="0.3162" stop-color="#fff3f3"/><stop offset="1" stop-color="#fff3f3"/></linearGradient><linearGradient id="g359" x2="0" y2="1"><stop offset="0" stop-color="#fff3f3"/><stop offset="0.3162" stop-color="#fff0f0"/><stop offset="1" stop-color="#fff1f1"/></linearGradient><linearGradient id="g360" x2="0" y2="1"><stop offset="0" stop-color="#fff4f4"/><stop offset="0.3131" stop-color="#fff1f1"/><stop offset="0.6215" stop-color="#ffefef"/><stop offset="1" stop-color="#fff2f2"/></linearGradient><linearGradient id="g361" x2="0" y2="1"><stop offset="0" stop-color="#fff7f7"/><stop offset="0.3131" stop-color="#fff4f4"/><stop offset="0.6246" stop-color="#fff4f4"/><stop offset="1" stop-color="#fff7f7"/></linearGradient><linearGradient id="g362" x2="0" y2="1"><stop offset="0" stop-color="#fff8f8"/><stop offset="0.31" stop-color="#fff6f6"/><stop offset="0.3692" stop-color="#fff1f1"/><stop offset="0.6246" stop-color="#fff4f4"/><stop offset="0.7897" stop-color="#fff8f8"/><stop offset="1" stop-color="#fff8f8"/></linearGradient><linearGradient id="g363" x2="0" y2="1"><stop offset="0" stop-color="#fff9f9"/><stop offset="0.3069" stop-color="#fff8f8"/><stop offset="0.3442" stop-color="#fff1f1"/><stop offset="0.6215" stop-color="#fff4f4"/><stop offset="0.6713" stop-color="#fff9f9"/><stop offset="1" stop-color="#fff9f9"/></linearGradient><linearGradient id="g364" x2="0" y2="1"><stop offset="0" stop-color="#fff5f5"/><stop offset="0.3006" stop-color="#fffafa"/><stop offset="0.3349" stop-color="#ffeded"/><stop offset="0.6215" stop-color="#fff0f0"/><stop offset="0.6651" stop-color="#fff6f6"/><stop offset="1" stop-color="#fff6f6"/></linearGradient><linearGradient id="g365" x2="0" y2="1"><stop offset="0" stop-color="#ffeaea"/><stop offset="0.2259" stop-color="#fff9f9"/><stop offset="0.3037" stop-color="#fff8f8"/><stop offset="0.3349" stop-color="#ffe9e9"/><stop offset="0.6215" stop-color="#ffecec"/><stop offset="0.6745" stop-color="#fff1f1"/><stop offset="1" stop-color="#fff1f1"/></linearGradient><linearGradient id="g366" x2="0" y2="1"><stop offset="0" stop-color="#ffd9d9"/><stop offset="0.2632" stop-color="#fff3f3"/><stop offset="0.3069" stop-color="#fff2f2"/><stop offset="0.338" stop-color="#ffe9e9"/><stop offset="1" stop-color="#ffebeb"/></linearGradient><linearGradient id="g367" x2="0" y2="1"><stop offset="0" stop-color="#ffcece"/><stop offset="0.0981" stop-color="#ffcece"/><stop offset="0.3567" stop-color="#ffefef"/><stop offset="0.6153" stop-color="#fff2f2"/><stop offset="0.6526" stop-color="#ffe9e9"/><stop offset="1" stop-color="#ffe9e9"/></linearGradient><linearGradient id="g368" x2="0" y2="1"><stop offset="0" stop-color="#ffd4d4"/><stop offset="0.1137" stop-color="#ffbfbf"/><stop offset="0.2477" stop-color="#ffc4c4"/><stop offset="0.3037" stop-color="#ffd5d5"/><stop offset="0.3567" stop-color="#ffe8e8"/><stop offset="0.4844" stop-color="#fff7f7"/><stop offset="0.6184" stop-color="#fff5f5"/><stop offset="0.6495" stop-color="#ffecec"/><stop offset="1" stop-color="#ffecec"/></linearGradient><linearGradient id="g369" x2="0" y2="1"><stop offset="0" stop-color="#ffe3e3"/><stop offset="0.2539" stop-color="#ffa2a2"/><stop offset="0.2944" stop-color="#ffa6a6"/><stop offset="0.3536" stop-color="#ffcbcb"/><stop offset="0.4439" stop-color="#ffe9e9"/><stop offset="0.5312" stop-color="#fff3f3"/><stop offset="0.6246" stop-color="#fff2f2"/><stop offset="1" stop-color="#fff1f1"/></linearGradient><linearGradient id="g370" x2="0" y2="1"><stop offset="0" stop-color="#fff3f3"/><stop offset="0.1293" stop-color="#ffdcdc"/><stop offset="0.1916" stop-color="#ffc5c5"/><stop offset="0.2882" stop-color="#ff9191"/><stop offset="0.419" stop-color="#ffc7c7"/><stop offset="0.5" stop-color="#ffe4e4"/><stop offset="0.7118" stop-color="#fff4f4"/><stop offset="1" stop-color="#fff7f7"/></linearGradient><linearGradient id="g371" x2="0" y2="1"><stop offset="0" stop-color="#fff9f9"/><stop offset="0.148" stop-color="#ffebeb"/><stop offset="0.2196" stop-color="#ffd4d4"/><stop offset="0.2975" stop-color="#ffa6a6"/><stop offset="0.366" stop-color="#ff9f9f"/><stop offset="0.4533" stop-color="#ffb7b7"/><stop offset="0.5125" stop-color="#ffcbcb"/><stop offset="0.6246" stop-color="#ffe3e3"/><stop offset="0.662" stop-color="#ffeeee"/><stop offset="1" stop-color="#fff6f6"/></linearGradient><linearGradient id="g372" x2="0" y2="1"><stop offset="0" stop-color="#fffafa"/><stop offset="0.1854" stop-color="#fff1f1"/><stop offset="0.2695" stop-color="#ffdada"/><stop offset="0.3754" stop-color="#ffb1b1"/><stop offset="0.4533" stop-color="#ffa9a9"/><stop offset="0.5561" stop-color="#ffbdbd"/><stop offset="0.6184" stop-color="#ffd2d2"/><stop offset="0.6558" stop-color="#ffe8e8"/><stop offset="0.8614" stop-color="#fff1f1"/><stop offset="1" stop-color="#fff3f3"/></linearGradient><linearGradient id="g373" x2="0" y2="1"><stop offset="0" stop-color="#fff8f8"/><stop offset="0.2383" stop-color="#fff2f2"/><stop offset="0.31" stop-color="#ffe2e2"/><stop offset="0.4626" stop-color="#ffb1b1"/><stop offset="0.5125" stop-color="#ffadad"/><stop offset="0.6153" stop-color="#ffc9c9"/><stop offset="0.6433" stop-color="#ffe3e3"/><stop offset="0.7586" stop-color="#ffeded"/><stop offset="1" stop-color="#fff1f1"/></linearGradient><linearGradient id="g374" x2="0" y2="1"><stop offset="0" stop-color="#fff8f8"/><stop offset="0.2975" stop-color="#fff4f4"/><stop offset="0.338" stop-color="#ffe4e4"/><stop offset="0.4751" stop-color="#ffcaca"/><stop offset="0.5125" stop-color="#ffc4c4"/><stop offset="0.6153" stop-color="#ffd7d7"/><stop offset="0.6433" stop-color="#ffeded"/><stop offset="0.8676" stop-color="#fff5f5"/><stop offset="1" stop-color="#fff6f6"/></linearGradient><linearGradient id="g375" x2="0" y2="1"><stop offset="0" stop-color="#fff8f8"/><stop offset="0.3037" stop-color="#fff5f5"/><stop offset="0.3349" stop-color="#ffe7e7"/><stop offset="0.5312" stop-color="#ffdada"/><stop offset="0.6153" stop-color="#ffe1e1"/><stop offset="0.6464" stop-color="#fff4f4"/><stop offset="1" stop-color="#fff7f7"/></linearGradient><linearGradient id="g376" x2="0" y2="1"><stop offset="0" stop-color="#fff7f7"/><stop offset="0.3037" stop-color="#fff4f4"/><stop offset="0.338" stop-color="#ffe9e9"/><stop offset="0.6121" stop-color="#ffe8e8"/><stop offset="0.6495" stop-color="#fff5f5"/><stop offset="1" stop-color="#fff6f6"/></linearGradient><linearGradient id="g377" x2="0" y2="1"><stop offset="0" stop-color="#fffafa"/><stop offset="0.3069" stop-color="#fff7f7"/><stop offset="0.338" stop-color="#ffeeee"/><stop offset="0.6184" stop-color="#fff0f0"/><stop offset="0.6589" stop-color="#fff6f6"/><stop offset="1" stop-color="#fff6f6"/></linearGradient><linearGradient id="g378" x2="0" y2="1"><stop offset="0" stop-color="#fff9f9"/><stop offset="0.3162" stop-color="#fff6f6"/><stop offset="1" stop-color="#fff4f4"/></linearGradient><linearGradient id="g379" x2="0" y2="1"><stop offset="0" stop-color="#fff2f2"/><stop offset="0.6215" stop-color="#fff1f1"/><stop offset="0.6682" stop-color="#ffecec"/><stop offset="1" stop-color="#ffecec"/></linearGradient><linearGradient id="g380" x2="0" y2="1"><stop offset="0" stop-color="#ffeeee"/><stop offset="0.31" stop-color="#fff1f1"/><stop offset="0.3629" stop-color="#fff6f6"/><stop offset="0.6153" stop-color="#fff4f4"/><stop offset="0.6464" stop-color="#ffe8e8"/><stop offset="1" stop-color="#ffe8e8"/></linearGradient><linearGradient id="g381" x2="0" y2="1"><stop offset="0" stop-color="#ffebeb"/><stop offset="0.3037" stop-color="#ffeeee"/><stop offset="0.3349" stop-color="#fffafa"/><stop offset="0.6153" stop-color="#fff8f8"/><stop offset="0.6464" stop-color="#ffebeb"/><stop offset="1" stop-color="#ffebeb"/></linearGradient><linearGradient id="g382" x2="0" y2="1"><stop offset="0" stop-color="#ffecec"/><stop offset="0.3037" stop-color="#ffeeee"/><stop offset="0.3349" stop-color="#fffbfb"/><stop offset="0.6215" stop-color="#fff8f8"/><stop offset="0.6651" stop-color="#fff2f2"/><stop offset="1" stop-color="#fff2f2"/></linearGradient><linearGradient id="g383" x2="0" y2="1"><stop offset="0" stop-color="#fff2f2"/><stop offset="0.3131" stop-color="#fff5f5"/><stop offset="1" stop-color="#fff8f8"/></linearGradient><linearGradient id="g384" x2="0" y2="1"><stop offset="0" stop-color="#fff8f8"/><stop offset="0.3131" stop-color="#fff5f5"/><stop offset="0.6184" stop-color="#fff4f4"/><stop offset="0.662" stop-color="#fffafa"/><stop offset="1" stop-color="#fffafa"/></linearGradient><linearGradient id="g385" x2="0" y2="1"><stop offset="0" stop-color="#fffafa"/><stop offset="0.3037" stop-color="#fff8f8"/><stop offset="0.3349" stop-color="#ffecec"/><stop offset="0.6153" stop-color="#ffeeee"/><stop offset="0.6464" stop-color="#fffbfb"/><stop offset="1" stop-color="#fffbfb"/></linearGradient><linearGradient id="g386" x2="0" y2="1"><stop offset="0" stop-color="#fff9f9"/><stop offset="0.3069" stop-color="#fff6f6"/><stop offset="0.3349" stop-color="#ffebeb"/><stop offset="0.6153" stop-color="#ffeeee"/><stop offset="0.6464" stop-color="#fffafa"/><stop offset="1" stop-color="#fffafa"/></linearGradient><linearGradient id="g387" x2="0" y2="1"><stop offset="0" stop-color="#fff4f4"/><stop offset="0.3162" stop-color="#fff1f1"/><stop offset="0.6215" stop-color="#fff2f2"/><stop offset="0.69" stop-color="#fff6f6"/><stop offset="1" stop-color="#fff6f6"/></linearGradient><linearGradient id="g388" x2="0" y2="1"><stop offset="0" stop-color="#fff5f5"/><stop offset="0.6215" stop-color="#fff4f4"/><stop offset="0.6682" stop-color="#ffeeee"/><stop offset="1" stop-color="#ffeeee"/></linearGradient><linearGradient id="g389" x2="0" y2="1"><stop offset="0" stop-color="#fff7f7"/><stop offset="0.6184" stop-color="#fff4f4"/><stop offset="0.6495" stop-color="#ffebeb"/><stop offset="1" stop-color="#ffebeb"/></linearGradient><linearGradient id="g390" x2="0" y2="1"><stop offset="0" stop-color="#fff5f5"/><stop offset="0.6153" stop-color="#fff4f4"/><stop offset="0.6464" stop-color="#ffe9e9"/><stop offset="1" stop-color="#ffe9e9"/></linearGradient><linearGradient id="g391" x2="0" y2="1"><stop offset="0" stop-color="#ffefef"/><stop offset="0.3069" stop-color="#fff2f2"/><stop offset="0.3411" stop-color="#fffafa"/><stop offset="0.6184" stop-color="#fff7f7"/><stop offset="0.6495" stop-color="#ffeeee"/><stop offset="1" stop-color="#ffeeee"/></linearGradient><linearGradient id="g392" x2="0" y2="1"><stop offset="0" stop-color="#ffebeb"/><stop offset="0.3037" stop-color="#ffeded"/><stop offset="0.3349" stop-color="#fff9f9"/><stop offset="0.634" stop-color="#fff6f6"/><stop offset="1" stop-color="#fff5f5"/></linearGradient><linearGradient id="g393" x2="0" y2="1"><stop offset="0" stop-color="#ffebeb"/><stop offset="0.3037" stop-color="#ffeded"/><stop offset="0.3349" stop-color="#fff8f8"/><stop offset="1" stop-color="#fff8f8"/></linearGradient><linearGradient id="g394" x2="0" y2="1"><stop offset="0" stop-color="#ffefef"/><stop offset="0.3162" stop-color="#fff2f2"/><stop offset="1" stop-color="#fff4f4"/></linearGradient><linearGradient id="g395" x2="0" y2="1"><stop offset="0" stop-color="#fff2f2"/><stop offset="0.6308" stop-color="#fff0f0"/><stop offset="1" stop-color="#ffeded"/></linearGradient><linearGradient id="g396" x2="0" y2="1"><stop offset="0" stop-color="#fff5f5"/><stop offset="0.6277" stop-color="#fff3f3"/><stop offset="0.9143" stop-color="#ffebeb"/><stop offset="1" stop-color="#ffebeb"/></linearGradient><linearGradient id="g397" x2="0" y2="1"><stop offset="0" stop-color="#ffefef"/><stop offset="0.6215" stop-color="#ffeded"/><stop offset="0.6869" stop-color="#ffe5e5"/><stop offset="1" stop-color="#ffdede"/></linearGradient><linearGradient id="g398" x2="0" y2="1"><stop offset="0" stop-color="#ffebeb"/><stop offset="0.3193" stop-color="#ffeeee"/><stop offset="0.6215" stop-color="#ffecec"/><stop offset="0.6745" stop-color="#ffe5e5"/><stop offset="1" stop-color="#ffdddd"/></linearGradient><linearGradient id="g399" x2="0" y2="1"><stop offset="0" stop-color="#ffeeee"/><stop offset="0.31" stop-color="#fff2f2"/><stop offset="0.3879" stop-color="#fff6f6"/><stop offset="0.6215" stop-color="#fff3f3"/><stop offset="0.6651" stop-color="#ffecec"/><stop offset="1" stop-color="#ffe8e8"/></linearGradient><linearGradient id="g400" x2="0" y2="1"><stop offset="0" stop-color="#fff0f0"/><stop offset="0.3131" stop-color="#fff7f7"/><stop offset="0.6153" stop-color="#fff7f7"/><stop offset="0.6464" stop-color="#ffeaea"/><stop offset="1" stop-color="#ffe8e8"/></linearGradient><linearGradient id="g401" x2="0" y2="1"><stop offset="0" stop-color="#ffe6e6"/><stop offset="0.1729" stop-color="#fff2f2"/><stop offset="0.5779" stop-color="#fff7f7"/><stop offset="0.6153" stop-color="#fff4f4"/><stop offset="0.6433" stop-color="#ffe2e2"/><stop offset="1" stop-color="#ffe2e2"/></linearGradient><linearGradient id="g402" x2="0" y2="1"><stop offset="0" stop-color="#ffd2d2"/><stop offset="0.1044" stop-color="#ffebeb"/><stop offset="0.3754" stop-color="#fff8f8"/><stop offset="0.6153" stop-color="#fff6f6"/><stop offset="0.6433" stop-color="#ffe4e4"/><stop offset="1" stop-color="#ffe5e5"/></linearGradient><linearGradient id="g403" x2="0" y2="1"><stop offset="0" stop-color="#ffa1a1"/><stop offset="0.0826" stop-color="#ffd2d2"/><stop offset="0.1885" stop-color="#ffebeb"/><stop offset="0.4034" stop-color="#fff5f5"/><stop offset="0.6184" stop-color="#fff2f2"/><stop offset="0.6495" stop-color="#ffe8e8"/><stop offset="1" stop-color="#ffeeee"/></linearGradient><linearGradient id="g404" x2="0" y2="1"><stop offset="0" stop-color="#ff5250"/><stop offset="0.0919" stop-color="#ffa4a4"/><stop offset="0.176" stop-color="#ffd0d0"/><stop offset="0.285" stop-color="#ffe6e6"/><stop offset="0.4688" stop-color="#ffecec"/><stop offset="0.6308" stop-color="#ffe9e9"/><stop offset="0.7648" stop-color="#ffe9e9"/><stop offset="1" stop-color="#fff3f3"/></linearGradient><linearGradient id="g405" x2="0" y2="1"><stop offset="0" stop-color="#ff190b"/><stop offset="0.0234" stop-color="#ff1010"/><stop offset="0.1137" stop-color="#ff7171"/><stop offset="0.1854" stop-color="#ffa9a9"/><stop offset="0.2726" stop-color="#ffcdcd"/><stop offset="0.3442" stop-color="#ffdddd"/><stop offset="0.6526" stop-color="#ffe0e0"/><stop offset="0.7679" stop-color="#ffdbdb"/><stop offset="1" stop-color="#fff0f0"/></linearGradient><linearGradient id="g406" x2="0" y2="1"><stop offset="0" stop-color="#ff140c"/><stop offset="0.0296" stop-color="#ff0d0d"/><stop offset="0.095" stop-color="#ff3e3e"/><stop offset="0.1978" stop-color="#ff9494"/><stop offset="0.2726" stop-color="#ffbdbd"/><stop offset="0.3287" stop-color="#ffcfcf"/><stop offset="0.4034" stop-color="#ffd8d8"/><stop offset="0.6184" stop-color="#ffdede"/><stop offset="0.6526" stop-color="#ffe0e0"/><stop offset="0.7648" stop-color="#ffcfcf"/><stop offset="1" stop-color="#ffe8e8"/></linearGradient><linearGradient id="g407" x2="0" y2="1"><stop offset="0" stop-color="#ff5655"/><stop offset="0.0483" stop-color="#ff4f4f"/><stop offset="0.1075" stop-color="#ff5d5d"/><stop offset="0.1947" stop-color="#ff8b8b"/><stop offset="0.2975" stop-color="#ffc1c1"/><stop offset="0.338" stop-color="#ffc2c2"/><stop offset="0.3879" stop-color="#ffcfcf"/><stop offset="0.6153" stop-color="#ffd8d8"/><stop offset="0.6433" stop-color="#ffe3e3"/><stop offset="0.7991" stop-color="#ffcaca"/><stop offset="0.9299" stop-color="#ffcccc"/><stop offset="1" stop-color="#ffd5d5"/></linearGradient><linearGradient id="g408" x2="0" y2="1"><stop offset="0" stop-color="#ffa4a4"/><stop offset="0.095" stop-color="#ff8d8d"/><stop offset="0.1698" stop-color="#ff9292"/><stop offset="0.3037" stop-color="#ffbcbc"/><stop offset="0.3318" stop-color="#ffb4b4"/><stop offset="0.3847" stop-color="#ffc6c6"/><stop offset="0.6121" stop-color="#ffd1d1"/><stop offset="0.6433" stop-color="#ffe2e2"/><stop offset="0.8583" stop-color="#ffcaca"/><stop offset="0.9953" stop-color="#ffc2c2"/><stop offset="1" stop-color="#ffc2c2"/></linearGradient><linearGradient id="g409" x2="0" y2="1"><stop offset="0" stop-color="#ffd4d4"/><stop offset="0.148" stop-color="#ffb5b5"/><stop offset="0.257" stop-color="#ffb8b8"/><stop offset="0.3069" stop-color="#ffbfbf"/><stop offset="0.3318" stop-color="#ffbbbb"/><stop offset="0.3847" stop-color="#ffcdcd"/><stop offset="0.6153" stop-color="#ffd9d9"/><stop offset="0.6464" stop-color="#ffe5e5"/><stop offset="0.8707" stop-color="#ffd9d9"/><stop offset="1" stop-color="#ffc8c8"/></linearGradient><linearGradient id="g410" x2="0" y2="1"><stop offset="0" stop-color="#ffecec"/><stop offset="0.2508" stop-color="#ffd1d1"/><stop offset="0.3349" stop-color="#ffd3d3"/><stop offset="0.3941" stop-color="#ffdfdf"/><stop offset="0.6277" stop-color="#ffe8e8"/><stop offset="0.8801" stop-color="#ffe8e8"/><stop offset="1" stop-color="#ffdddd"/></linearGradient><linearGradient id="g411" x2="0" y2="1"><stop offset="0" stop-color="#fff7f7"/><stop offset="0.3224" stop-color="#ffe4e4"/><stop offset="0.4159" stop-color="#ffeded"/><stop offset="0.9579" stop-color="#ffefef"/><stop offset="1" stop-color="#ffeded"/></linearGradient><linearGradient id="g412" x2="0" y2="1"><stop offset="0" stop-color="#fffafa"/><stop offset="0.3442" stop-color="#fff1f1"/><stop offset="1" stop-color="#fff5f5"/></linearGradient><linearGradient id="g413" x2="0" y2="1"><stop offset="0" stop-color="#fff8f8"/><stop offset="0.5249" stop-color="#fff6f6"/><stop offset="1" stop-color="#fff3f3"/></linearGradient><linearGradient id="g414" x2="0" y2="1"><stop offset="0" stop-color="#fff3f3"/><stop offset="0.6807" stop-color="#ffefef"/><stop offset="1" stop-color="#ffeaea"/></linearGradient><linearGradient id="g415" x2="0" y2="1"><stop offset="0" stop-color="#ffecec"/><stop offset="0.6464" stop-color="#ffe9e9"/><stop offset="0.8022" stop-color="#ffdede"/><stop offset="1" stop-color="#ffdbdb"/></linearGradient><linearGradient id="g416" x2="0" y2="1"><stop offset="0" stop-color="#ffe8e8"/><stop offset="0.6277" stop-color="#ffe6e6"/><stop offset="0.7804" stop-color="#ffd4d4"/><stop offset="1" stop-color="#ffd0d0"/></linearGradient><linearGradient id="g417" x2="0" y2="1"><stop offset="0" stop-color="#ffecec"/><stop offset="0.6184" stop-color="#ffe9e9"/><stop offset="0.662" stop-color="#ffdede"/><stop offset="0.8022" stop-color="#ffd4d4"/><stop offset="1" stop-color="#ffd1d1"/></linearGradient><linearGradient id="g418" x2="0" y2="1"><stop offset="0" stop-color="#fff2f2"/><stop offset="0.6153" stop-color="#fff0f0"/><stop offset="0.6464" stop-color="#ffe1e1"/><stop offset="0.9081" stop-color="#ffdada"/><stop offset="1" stop-color="#ffdada"/></linearGradient><linearGradient id="g419" x2="0" y2="1"><stop offset="0" stop-color="#fff5f5"/><stop offset="0.6153" stop-color="#fff4f4"/><stop offset="0.6464" stop-color="#ffe6e6"/><stop offset="1" stop-color="#ffe3e3"/></linearGradient><linearGradient id="g420" x2="0" y2="1"><stop offset="0" stop-color="#fff9f9"/><stop offset="0.6184" stop-color="#fff7f7"/><stop offset="0.6589" stop-color="#fff0f0"/><stop offset="1" stop-color="#fff0f0"/></linearGradient><linearGradient id="g421" x2="0" y2="1"><stop offset="0" stop-color="#fff9f9"/><stop offset="1" stop-color="#fff7f7"/></linearGradient><linearGradient id="g422" x2="0" y2="1"><stop offset="0" stop-color="#fffafa"/><stop offset="0.3162" stop-color="#fff7f7"/><stop offset="0.6277" stop-color="#fff8f8"/><stop offset="1" stop-color="#fffafa"/></linearGradient><linearGradient id="g423" x2="0" y2="1"><stop offset="0" stop-color="#fff9f9"/><stop offset="0.3069" stop-color="#fff6f6"/><stop offset="0.3411" stop-color="#ffeeee"/><stop offset="0.6153" stop-color="#fff0f0"/><stop offset="0.6495" stop-color="#fffbfb"/><stop offset="1" stop-color="#fffbfb"/></linearGradient><linearGradient id="g424" x2="0" y2="1"><stop offset="0" stop-color="#fff5f5"/><stop offset="0.3037" stop-color="#fff2f2"/><stop offset="0.3349" stop-color="#ffe5e5"/><stop offset="0.6121" stop-color="#ffe6e6"/><stop offset="0.6433" stop-color="#fffafa"/><stop offset="1" stop-color="#fffafa"/></linearGradient><linearGradient id="g425" x2="0" y2="1"><stop offset="0" stop-color="#fff7f7"/><stop offset="0.3037" stop-color="#fff5f5"/><stop offset="0.3349" stop-color="#ffe8e8"/><stop offset="0.6153" stop-color="#ffebeb"/><stop offset="0.6433" stop-color="#fffbfb"/><stop offset="1" stop-color="#fffbfb"/></linearGradient><linearGradient id="g426" x2="0" y2="1"><stop offset="0" stop-color="#fff9f9"/><stop offset="0.31" stop-color="#fff7f7"/><stop offset="0.3723" stop-color="#fff2f2"/><stop offset="0.6184" stop-color="#fff5f5"/><stop offset="0.662" stop-color="#fffbfb"/><stop offset="1" stop-color="#fffbfb"/></linearGradient><linearGradient id="g427" x2="0" y2="1"><stop offset="0" stop-color="#fff6f6"/><stop offset="0.6308" stop-color="#fffafa"/><stop offset="1" stop-color="#fffbfb"/></linearGradient><linearGradient id="g428" x2="0" y2="1"><stop offset="0" stop-color="#fff2f2"/><stop offset="0.3193" stop-color="#fff5f5"/><stop offset="1" stop-color="#fffafa"/></linearGradient><linearGradient id="g429" x2="0" y2="1"><stop offset="0" stop-color="#fff3f3"/><stop offset="1" stop-color="#fff9f9"/></linearGradient><linearGradient id="g430" x2="0" y2="1"><stop offset="0" stop-color="#fff4f4"/><stop offset="0.6184" stop-color="#fff4f4"/><stop offset="0.6558" stop-color="#ffeded"/><stop offset="1" stop-color="#ffeded"/></linearGradient><linearGradient id="g431" x2="0" y2="1"><stop offset="0" stop-color="#fffafa"/><stop offset="0.6153" stop-color="#fff8f8"/><stop offset="0.6464" stop-color="#ffeaea"/><stop offset="1" stop-color="#ffeaea"/></linearGradient><linearGradient id="g432" x2="0" y2="1"><stop offset="0" stop-color="#fffbfb"/><stop offset="0.6184" stop-color="#fff8f8"/><stop offset="0.6526" stop-color="#ffefef"/><stop offset="1" stop-color="#ffefef"/></linearGradient><linearGradient id="g433" x2="0" y2="1"><stop offset="0" stop-color="#fffbfb"/><stop offset="0.6277" stop-color="#fff8f8"/><stop offset="1" stop-color="#fff6f6"/></linearGradient><linearGradient id="g434" x2="0" y2="1"><stop offset="0" stop-color="#fffafa"/><stop offset="1" stop-color="#fff8f8"/></linearGradient><linearGradient id="g435" x2="0" y2="1"><stop offset="0" stop-color="#fff5f5"/><stop offset="1" stop-color="#fff4f4"/></linearGradient><linearGradient id="g436" x2="0" y2="1"><stop offset="0" stop-color="#fffafa"/><stop offset="0.3287" stop-color="#fff7f7"/><stop offset="1" stop-color="#fff8f8"/></linearGradient><linearGradient id="g437" x2="0" y2="1"><stop offset="0" stop-color="#fff6f6"/><stop offset="0.31" stop-color="#fff3f3"/><stop offset="0.3598" stop-color="#ffeeee"/><stop offset="0.6184" stop-color="#fff0f0"/><stop offset="0.6558" stop-color="#fff8f8"/><stop offset="1" stop-color="#fff8f8"/></linearGradient><linearGradient id="g438" x2="0" y2="1"><stop offset="0" stop-color="#fff8f8"/><stop offset="0.3037" stop-color="#fff5f5"/><stop offset="0.3349" stop-color="#ffe8e8"/><stop offset="0.6153" stop-color="#ffeaea"/><stop offset="0.6464" stop-color="#fff9f9"/><stop offset="1" stop-color="#fff9f9"/></linearGradient><linearGradient id="g439" x2="0" y2="1"><stop offset="0" stop-color="#fff6f6"/><stop offset="0.3037" stop-color="#fff3f3"/><stop offset="0.3349" stop-color="#ffe5e5"/><stop offset="0.6153" stop-color="#ffe8e8"/><stop offset="0.6433" stop-color="#fff8f8"/><stop offset="1" stop-color="#fff8f8"/></linearGradient><linearGradient id="g440" x2="0" y2="1"><stop offset="0" stop-color="#fff3f3"/><stop offset="0.31" stop-color="#fff0f0"/><stop offset="0.3941" stop-color="#ffecec"/><stop offset="0.6184" stop-color="#ffefef"/><stop offset="0.6589" stop-color="#fff6f6"/><stop offset="1" stop-color="#fff6f6"/></linearGradient><linearGradient id="g441" x2="0" y2="1"><stop offset="0" stop-color="#fff7f7"/><stop offset="0.6277" stop-color="#fff3f3"/><stop offset="1" stop-color="#fff1f1"/></linearGradient><linearGradient id="g442" x2="0" y2="1"><stop offset="0" stop-color="#fffbfb"/><stop offset="0.6153" stop-color="#fff7f7"/><stop offset="0.6464" stop-color="#ffebeb"/><stop offset="1" stop-color="#ffebeb"/></linearGradient><linearGradient id="g443" x2="0" y2="1"><stop offset="0" stop-color="#fffafa"/><stop offset="0.6153" stop-color="#fff7f7"/><stop offset="0.6464" stop-color="#ffeaea"/><stop offset="1" stop-color="#ffeaea"/></linearGradient><linearGradient id="g444" x2="0" y2="1"><stop offset="0" stop-color="#fff3f3"/><stop offset="0.6184" stop-color="#fff2f2"/><stop offset="0.6558" stop-color="#ffeaea"/><stop offset="1" stop-color="#ffeaea"/></linearGradient><linearGradient id="g445" x2="0" y2="1"><stop offset="0" stop-color="#fff3f3"/><stop offset="0.6308" stop-color="#ffefef"/><stop offset="1" stop-color="#ffeeee"/></linearGradient><linearGradient id="g446" x2="0" y2="1"><stop offset="0" stop-color="#fffafa"/><stop offset="0.3193" stop-color="#fff6f6"/><stop offset="1" stop-color="#fff7f7"/></linearGradient><linearGradient id="g447" x2="0" y2="1"><stop offset="0" stop-color="#fffafa"/><stop offset="1" stop-color="#fff9f9"/></linearGradient><linearGradient id="g448" x2="0" y2="1"><stop offset="0" stop-color="#fff7f7"/><stop offset="1" stop-color="#fff6f6"/></linearGradient><linearGradient id="g449" x2="0" y2="1"><stop offset="0" stop-color="#fff3f3"/><stop offset="1" stop-color="#fff6f6"/></linearGradient><linearGradient id="g450" x2="0" y2="1"><stop offset="0" stop-color="#fff4f4"/><stop offset="1" stop-color="#fff7f7"/></linearGradient><linearGradient id="g451" x2="0" y2="1"><stop offset="0" stop-color="#fff8f8"/><stop offset="1" stop-color="#fffbfb"/></linearGradient><linearGradient id="g452" x2="0" y2="1"><stop offset="0" stop-color="#fffafa"/><stop offset="1" stop-color="#fffbfb"/></linearGradient><linearGradient id="g453" x2="0" y2="1"><stop offset="0" stop-color="#fff9f9"/><stop offset="1" stop-color="#fffbfb"/></linearGradient><linearGradient id="g454" x2="0" y2="1"><stop offset="0" stop-color="#fff3f3"/><stop offset="0.4844" stop-color="#fffbfb"/><stop offset="1" stop-color="#fffbfb"/></linearGradient><linearGradient id="g455" x2="0" y2="1"><stop offset="0" stop-color="#ffeaea"/><stop offset="0.3598" stop-color="#fffbfb"/><stop offset="1" stop-color="#fffbfb"/></linearGradient><linearGradient id="g456" x2="0" y2="1"><stop offset="0" stop-color="#ffd8d8"/><stop offset="0.3318" stop-color="#fff9f9"/><stop offset="1" stop-color="#fffbfb"/></linearGradient><linearGradient id="g457" x2="0" y2="1"><stop offset="0" stop-color="#ffb8b8"/><stop offset="0.3224" stop-color="#fff4f4"/><stop offset="1" stop-color="#fffbfb"/></linearGradient><linearGradient id="g458" x2="0" y2="1"><stop offset="0" stop-color="#ff8585"/><stop offset="0.1636" stop-color="#ffb2b2"/><stop offset="0.2944" stop-color="#ffe3e3"/><stop offset="0.3629" stop-color="#ffecec"/><stop offset="0.8333" stop-color="#fff8f8"/><stop offset="1" stop-color="#fff9f9"/></linearGradient><linearGradient id="g459" x2="0" y2="1"><stop offset="0" stop-color="#ff4545"/><stop offset="0.1386" stop-color="#ff6d6d"/><stop offset="0.2227" stop-color="#ff9e9e"/><stop offset="0.3162" stop-color="#ffd6d6"/><stop offset="0.6215" stop-color="#ffeded"/><stop offset="1" stop-color="#fff5f5"/></linearGradient><linearGradient id="g460" x2="0" y2="1"><stop offset="0" stop-color="#ff110a"/><stop offset="0.0483" stop-color="#ff1510"/><stop offset="0.1324" stop-color="#ff2825"/><stop offset="0.2009" stop-color="#ff5050"/><stop offset="0.3037" stop-color="#ffadad"/><stop offset="0.3318" stop-color="#ffbebe"/><stop offset="0.6184" stop-color="#ffdddd"/><stop offset="0.7087" stop-color="#ffdede"/><stop offset="1" stop-color="#ffebeb"/></linearGradient><linearGradient id="g461" x2="0" y2="1"><stop offset="0" stop-color="#ff2100"/><stop offset="0.1355" stop-color="#ff1805"/><stop offset="0.1791" stop-color="#ff0b0a"/><stop offset="0.2165" stop-color="#ff2424"/><stop offset="0.2788" stop-color="#ff7070"/><stop offset="0.3287" stop-color="#ff9f9f"/><stop offset="0.6464" stop-color="#ffc5c5"/><stop offset="1" stop-color="#ffdddd"/></linearGradient><linearGradient id="g462" x2="0" y2="1"><stop offset="0" stop-color="#ff1f00"/><stop offset="0.1324" stop-color="#ff1900"/><stop offset="0.1978" stop-color="#ff0706"/><stop offset="0.2196" stop-color="#ff1717"/><stop offset="0.2882" stop-color="#ff6969"/><stop offset="0.3287" stop-color="#ff9494"/><stop offset="0.6931" stop-color="#ffb8b8"/><stop offset="1" stop-color="#ffcbcb"/></linearGradient><linearGradient id="g463" x2="0" y2="1"><stop offset="0" stop-color="#ff120a"/><stop offset="0.1449" stop-color="#ff110d"/><stop offset="0.2134" stop-color="#ff2a2a"/><stop offset="0.285" stop-color="#ff7373"/><stop offset="0.3287" stop-color="#ff9d9d"/><stop offset="0.7056" stop-color="#ffb2b2"/><stop offset="1" stop-color="#ffbbbb"/></linearGradient><linearGradient id="g464" x2="0" y2="1"><stop offset="0" stop-color="#ff4949"/><stop offset="0.1355" stop-color="#ff4c4c"/><stop offset="0.2196" stop-color="#ff6c6c"/><stop offset="0.3287" stop-color="#ffb7b7"/><stop offset="0.7399" stop-color="#ffbebe"/><stop offset="1" stop-color="#ffbebe"/></linearGradient><linearGradient id="g465" x2="0" y2="1"><stop offset="0" stop-color="#ff8e8e"/><stop offset="0.1417" stop-color="#ff9595"/><stop offset="0.229" stop-color="#ffacac"/><stop offset="0.3318" stop-color="#ffd3d3"/><stop offset="0.8551" stop-color="#ffd3d3"/><stop offset="1" stop-color="#ffd2d2"/></linearGradient><linearGradient id="g466" x2="0" y2="1"><stop offset="0" stop-color="#ffbfbf"/><stop offset="0.1698" stop-color="#ffc9c9"/><stop offset="0.338" stop-color="#ffe7e7"/><stop offset="1" stop-color="#ffe4e4"/></linearGradient><linearGradient id="g467" x2="0" y2="1"><stop offset="0" stop-color="#ffdddd"/><stop offset="0.2227" stop-color="#ffe8e8"/><stop offset="0.3598" stop-color="#fff4f4"/><stop offset="1" stop-color="#fff2f2"/></linearGradient><linearGradient id="g468" x2="0" y2="1"><stop offset="0" stop-color="#ffebeb"/><stop offset="0.3037" stop-color="#fff6f6"/><stop offset="0.634" stop-color="#fff6f6"/><stop offset="1" stop-color="#fff5f5"/></linearGradient><linearGradient id="g469" x2="0" y2="1"><stop offset="0" stop-color="#fff4f4"/><stop offset="0.6028" stop-color="#fffbfb"/><stop offset="0.6589" stop-color="#fff1f1"/><stop offset="1" stop-color="#fff1f1"/></linearGradient><linearGradient id="g470" x2="0" y2="1"><stop offset="0" stop-color="#fff6f6"/><stop offset="0.6153" stop-color="#fff8f8"/><stop offset="0.6464" stop-color="#ffebeb"/><stop offset="1" stop-color="#ffebeb"/></linearGradient><linearGradient id="g471" x2="0" y2="1"><stop offset="0" stop-color="#fff2f2"/><stop offset="0.6153" stop-color="#fff3f3"/><stop offset="0.6464" stop-color="#ffe7e7"/><stop offset="1" stop-color="#ffe9e9"/></linearGradient><linearGradient id="g472" x2="0" y2="1"><stop offset="0" stop-color="#ffecec"/><stop offset="0.31" stop-color="#ffe5e5"/><stop offset="0.3629" stop-color="#ffe2e2"/><stop offset="0.6308" stop-color="#ffe4e4"/><stop offset="1" stop-color="#ffe7e7"/></linearGradient><linearGradient id="g473" x2="0" y2="1"><stop offset="0" stop-color="#ffe4e4"/><stop offset="0.3069" stop-color="#ffd9d9"/><stop offset="0.338" stop-color="#ffd1d1"/><stop offset="0.7523" stop-color="#ffe2e2"/><stop offset="1" stop-color="#ffe7e7"/></linearGradient><linearGradient id="g474" x2="0" y2="1"><stop offset="0" stop-color="#ffdfdf"/><stop offset="0.3037" stop-color="#ffd0d0"/><stop offset="0.3318" stop-color="#ffc3c3"/><stop offset="0.5903" stop-color="#ffd3d3"/><stop offset="0.6246" stop-color="#ffdada"/><stop offset="0.6682" stop-color="#ffe0e0"/><stop offset="1" stop-color="#ffe8e8"/></linearGradient><linearGradient id="g475" x2="0" y2="1"><stop offset="0" stop-color="#ffe3e3"/><stop offset="0.3006" stop-color="#ffd7d7"/><stop offset="0.3287" stop-color="#ffc1c1"/><stop offset="0.6121" stop-color="#ffd1d1"/><stop offset="0.6433" stop-color="#ffe4e4"/><stop offset="1" stop-color="#ffebeb"/></linearGradient><linearGradient id="g476" x2="0" y2="1"><stop offset="0" stop-color="#ffeaea"/><stop offset="0.3037" stop-color="#ffe1e1"/><stop offset="0.3318" stop-color="#ffcfcf"/><stop offset="0.6121" stop-color="#ffd8d8"/><stop offset="0.6433" stop-color="#ffebeb"/><stop offset="1" stop-color="#ffefef"/></linearGradient><linearGradient id="g477" x2="0" y2="1"><stop offset="0" stop-color="#fff4f4"/><stop offset="0.3037" stop-color="#ffefef"/><stop offset="0.338" stop-color="#ffe5e5"/><stop offset="0.6153" stop-color="#ffe9e9"/><stop offset="0.6495" stop-color="#fff5f5"/><stop offset="1" stop-color="#fff6f6"/></linearGradient><linearGradient id="g478" x2="0" y2="1"><stop offset="0" stop-color="#fffafa"/><stop offset="0.3224" stop-color="#fff6f6"/><stop offset="0.6308" stop-color="#fff9f9"/><stop offset="1" stop-color="#fffafa"/></linearGradient><linearGradient id="g479" x2="0" y2="1"><stop offset="0" stop-color="#fff7f7"/><stop offset="0.6308" stop-color="#fffafa"/><stop offset="1" stop-color="#fffafa"/></linearGradient><linearGradient id="g480" x2="0" y2="1"><stop offset="0" stop-color="#fff6f6"/><stop offset="1" stop-color="#fffbfb"/></linearGradient><linearGradient id="g481" x2="0" y2="1"><stop offset="0" stop-color="#fff8f8"/><stop offset="1" stop-color="#fff9f9"/></linearGradient></defs><g shape-rendering="crispEdges"><rect x="66" y="8" width="1" height="321" fill="url(#g0)"/><rect x="67" y="8" width="1" height="321" fill="url(#g1)"/><rect x="68" y="8" width="1" height="321" fill="url(#g2)"/><rect x="69" y="8" width="1" height="321" fill="url(#g3)"/><rect x="70" y="8" width="1" height="321" fill="url(#g4)"/><rect x="71" y="8" width="1" height="321" fill="url(#g5)"/><rect x="72" y="8" width="1" height="321" fill="url(#g6)"/><rect x="73" y="8" width="1" height="321" fill="url(#g7)"/><rect x="74" y="8" width="1" height="321" fill="url(#g8)"/><rect x="75" y="8" width="1" height="321" fill="url(#g9)"/><rect x="76" y="8" width="1" height="321" fill="url(#g10)"/><rect x="77" y="8" width="1" height="321" fill="url(#g11)"/><rect x="78" y="8" width="1" height="321" fill="url(#g12)"/><rect x="79" y="8" width="1" height="321" fill="url(#g13)"/><rect x="80" y="8" width="1" height="321" fill="url(#g14)"/><rect x="81" y="8" width="1" height="321" fill="url(#g15)"/><rect x="82" y="8" width="1" height="321" fill="url(#g16)"/><rect x="83" y="8" width="1" height="321" fill="url(#g17)"/><rect x="84" y="8" width="1" height="321" fill="url(#g18)"/><rect x="85" y="8" width="1" height="321" fill="url(#g19)"/><rect x="86" y="8" width="1" height="321" fill="url(#g20)"/><rect x="87" y="8" width="1" height="321" fill="url(#g21)"/><rect x="88" y="8" width="1" height="321" fill="url(#g22)"/><rect x="89" y="8" width="1" height="321" fill="url(#g23)"/><rect x="90" y="8" width="1" height="321" fill="url(#g24)"/><rect x="91" y="8" width="1" height="321" fill="url(#g25)"/><rect x="92" y="8" width="1" height="321" fill="url(#g26)"/><rect x="93" y="8" width="1" height="321" fill="url(#g27)"/><rect x="94" y="8" width="1" height="321" fill="url(#g28)"/><rect x="95" y="8" width="1" height="321" fill="url(#g29)"/><rect x="96" y="8" width="1" height="321" fill="url(#g30)"/><rect x="97" y="8" width="1" height="321" fill="url(#g31)"/><rect x="98" y="8" width="1" height="321" fill="url(#g32)"/><rect x="99" y="8" width="1" height="321" fill="url(#g33)"/><rect x="100" y="8" width="1" height="321" fill="url(#g34)"/><rect x="101" y="8" width="1" height="321" fill="url(#g35)"/><rect x="102" y="8" width="1" height="321" fill="url(#g36)"/><rect x="103" y="8" width="1" height="321" fill="url(#g37)"/><rect x="104" y="8" width="1" height="321" fill="url(#g38)"/><rect x="105" y="8" width="1" height="321" fill="url(#g39)"/><rect x="106" y="8" width="1" height="321" fill="url(#g40)"/><rect x="107" y="8" width="1" height="321" fill="url(#g41)"/><rect x="108" y="8" width="1" height="321" fill="url(#g42)"/><rect x="109" y="8" width="1" height="321" fill="url(#g43)"/><rect x="110" y="8" width="1" height="321" fill="url(#g44)"/><rect x="111" y="8" width="1" height="321" fill="url(#g45)"/><rect x="112" y="8" width="1" height="321" fill="url(#g46)"/><rect x="113" y="8" width="1" height="321" fill="url(#g47)"/><rect x="114" y="8" width="1" height="321" fill="url(#g48)"/><rect x="115" y="8" width="1" height="321" fill="url(#g49)"/><rect x="116" y="8" width="1" height="321" fill="url(#g50)"/><rect x="117" y="8" width="1" height="321" fill="url(#g51)"/><rect x="118" y="8" width="1" height="321" fill="url(#g52)"/><rect x="119" y="8" width="1" height="321" fill="url(#g53)"/><rect x="120" y="8" width="1" height="321" fill="url(#g54)"/><rect x="121" y="8" width="1" height="321" fill="url(#g55)"/><rect x="122" y="8" width="1" height="321" fill="url(#g56)"/><rect x="123" y="8" width="1" height="321" fill="url(#g57)"/><rect x="124" y="8" width="1" height="321" fill="url(#g58)"/><rect x="125" y="8" width="1" height="321" fill="url(#g59)"/><rect x="126" y="8" width="1" height="321" fill="url(#g60)"/><rect x="127" y="8" width="1" height="321" fill="url(#g61)"/><rect x="128" y="8" width="1" height="321" fill="url(#g62)"/><rect x="129" y="8" width="1" height="321" fill="url(#g63)"/><rect x="130" y="8" width="1" height="321" fill="url(#g64)"/><rect x="131" y="8" width="1" height="321" fill="url(#g65)"/><rect x="132" y="8" width="1" height="321" fill="url(#g66)"/><rect x="133" y="8" width="1" height="321" fill="url(#g67)"/><rect x="134" y="8" width="1" height="321" fill="url(#g68)"/><rect x="135" y="8" width="1" height="321" fill="url(#g69)"/><rect x="136" y="8" width="1" height="321" fill="url(#g70)"/><rect x="137" y="8" width="1" height="321" fill="url(#g71)"/><rect x="138" y="8" width="1" height="321" fill="url(#g72)"/><rect x="139" y="8" width="1" height="321" fill="url(#g73)"/><rect x="140" y="8" width="1" height="321" fill="url(#g74)"/><rect x="141" y="8" width="1" height="321" fill="url(#g75)"/><rect x="142" y="8" width="1" height="321" fill="url(#g76)"/><rect x="143" y="8" width="1" height="321" fill="url(#g77)"/><rect x="144" y="8" width="1" height="321" fill="url(#g78)"/><rect x="145" y="8" width="1" height="321" fill="url(#g79)"/><rect x="146" y="8" width="1" height="321" fill="url(#g80)"/><rect x="147" y="8" width="1" height="321" fill="url(#g81)"/><rect x="148" y="8" width="1" height="321" fill="url(#g82)"/><rect x="149" y="8" width="1" height="321" fill="url(#g83)"/><rect x="150" y="8" width="1" height="321" fill="url(#g84)"/><rect x="151" y="8" width="1" height="321" fill="url(#g85)"/><rect x="152" y="8" width="1" height="321" fill="url(#g86)"/><rect x="153" y="8" width="1" height="321" fill="url(#g87)"/><rect x="154" y="8" width="1" height="321" fill="url(#g88)"/><rect x="155" y="8" width="1" height="321" fill="url(#g89)"/><rect x="156" y="8" width="1" height="321" fill="url(#g90)"/><rect x="157" y="8" width="1" height="321" fill="url(#g91)"/><rect x="158" y="8" width="1" height="321" fill="url(#g92)"/><rect x="159" y="8" width="1" height="321" fill="url(#g93)"/><rect x="160" y="8" width="1" height="321" fill="url(#g94)"/><rect x="161" y="8" width="1" height="321" fill="url(#g95)"/><rect x="162" y="8" width="1" height="321" fill="url(#g96)"/><rect x="163" y="8" width="1" height="321" fill="url(#g97)"/><rect x="164" y="8" width="1" height="321" fill="url(#g98)"/><rect x="165" y="8" width="1" height="321" fill="url(#g99)"/><rect x="166" y="8" width="1" height="321" fill="url(#g100)"/><rect x="167" y="8" width="1" height="321" fill="url(#g101)"/><rect x="168" y="8" width="1" height="321" fill="url(#g102)"/><rect x="169" y="8" width="1" height="321" fill="url(#g103)"/><rect x="170" y="8" width="1" height="321" fill="url(#g104)"/><rect x="171" y="8" width="1" height="321" fill="url(#g105)"/><rect x="172" y="8" width="1" height="321" fill="url(#g106)"/><rect x="173" y="8" width="1" height="321" fill="url(#g107)"/><rect x="174" y="8" width="1" height="321" fill="url(#g108)"/><rect x="175" y="8" width="1" height="321" fill="url(#g109)"/><rect x="176" y="8" width="1" height="321" fill="url(#g110)"/><rect x="177" y="8" width="1" height="321" fill="url(#g111)"/><rect x="178" y="8" width="1" height="321" fill="url(#g112)"/><rect x="179" y="8" width="1" height="321" fill="url(#g113)"/><rect x="180" y="8" width="1" height="321" fill="url(#g114)"/><rect x="181" y="8" width="1" height="321" fill="url(#g115)"/><rect x="182" y="8" width="1" height="321" fill="url(#g116)"/><rect x="183" y="8" width="1" height="321" fill="url(#g117)"/><rect x="184" y="8" width="1" height="321" fill="url(#g118)"/><rect x="185" y="8" width="1" height="321" fill="url(#g119)"/><rect x="186" y="8" width="1" height="321" fill="url(#g120)"/><rect x="187" y="8" width="1" height="321" fill="url(#g121)"/><rect x="188" y="8" width="1" height="321" fill="url(#g122)"/><rect x="189" y="8" width="1" height="321" fill="url(#g123)"/><rect x="190" y="8" width="1" height="321" fill="url(#g124)"/><rect x="191" y="8" width="1" height="321" fill="url(#g125)"/><rect x="192" y="8" width="1" height="321" fill="url(#g126)"/><rect x="193" y="8" width="1" height="321" fill="url(#g127)"/><rect x="194" y="8" width="1" height="321" fill="url(#g128)"/><rect x="195" y="8" width="1" height="321" fill="url(#g129)"/><rect x="196" y="8" width="1" height="321" fill="url(#g130)"/><rect x="197" y="8" width="1" height="321" fill="url(#g131)"/><rect x="198" y="8" width="1" height="321" fill="url(#g132)"/><rect x="199" y="8" width="1" height="321" fill="url(#g133)"/><rect x="200" y="8" width="1" height="321" fill="url(#g134)"/><rect x="201" y="8" width="1" height="321" fill="url(#g135)"/><rect x="202" y="8" width="1" height="321" fill="url(#g136)"/><rect x="203" y="8" width="1" height="321" fill="url(#g137)"/><rect x="204" y="8" width="1" height="321" fill="url(#g138)"/><rect x="205" y="8" width="1" height="321" fill="url(#g139)"/><rect x="206" y="8" width="1" height="321" fill="url(#g140)"/><rect x="207" y="8" width="1" height="321" fill="url(#g141)"/><rect x="208" y="8" width="1" height="321" fill="url(#g142)"/><rect x="209" y="8" width="1" height="321" fill="url(#g143)"/><rect x="210" y="8" width="1" height="321" fill="url(#g144)"/><rect x="211" y="8" width="1" height="321" fill="url(#g145)"/><rect x="212" y="8" width="1" height="321" fill="url(#g146)"/><rect x="213" y="8" width="1" height="321" fill="url(#g147)"/><rect x="214" y="8" width="1" height="321" fill="url(#g148)"/><rect x="215" y="8" width="1" height="321" fill="url(#g149)"/><rect x="216" y="8" width="1" height="321" fill="url(#g150)"/><rect x="217" y="8" width="1" height="321" fill="url(#g151)"/><rect x="218" y="8" width="1" height="321" fill="url(#g152)"/><rect x="219" y="8" width="1" height="321" fill="url(#g153)"/><rect x="220" y="8" width="1" height="321" fill="url(#g154)"/><rect x="221" y="8" width="1" height="321" fill="url(#g155)"/><rect x="222" y="8" width="1" height="321" fill="url(#g156)"/><rect x="223" y="8" width="1" height="321" fill="url(#g157)"/><rect x="224" y="8" width="1" height="321" fill="url(#g158)"/><rect x="225" y="8" width="1" height="321" fill="url(#g159)"/><rect x="226" y="8" width="1" height="321" fill="url(#g160)"/><rect x="227" y="8" width="1" height="321" fill="url(#g161)"/><rect x="228" y="8" width="1" height="321" fill="url(#g162)"/><rect x="229" y="8" width="1" height="321" fill="url(#g163)"/><rect x="230" y="8" width="1" height="321" fill="url(#g164)"/><rect x="231" y="8" width="1" height="321" fill="url(#g165)"/><rect x="232" y="8" width="1" height="321" fill="url(#g166)"/><rect x="233" y="8" width="1" height="321" fill="url(#g167)"/><rect x="234" y="8" width="1" height="321" fill="url(#g168)"/><rect x="235" y="8" width="1" height="321" fill="url(#g169)"/><rect x="236" y="8" width="1" height="321" fill="url(#g170)"/><rect x="237" y="8" width="1" height="321" fill="url(#g171)"/><rect x="238" y="8" width="1" height="321" fill="url(#g172)"/><rect x="239" y="8" width="1" height="321" fill="url(#g173)"/><rect x="240" y="8" width="1" height="321" fill="url(#g174)"/><rect x="241" y="8" width="1" height="321" fill="url(#g175)"/><rect x="242" y="8" width="1" height="321" fill="url(#g176)"/><rect x="243" y="8" width="1" height="321" fill="url(#g177)"/><rect x="244" y="8" width="1" height="321" fill="url(#g178)"/><rect x="245" y="8" width="1" height="321" fill="url(#g179)"/><rect x="246" y="8" width="1" height="321" fill="url(#g180)"/><rect x="247" y="8" width="1" height="321" fill="url(#g181)"/><rect x="248" y="8" width="1" height="321" fill="url(#g182)"/><rect x="249" y="8" width="1" height="321" fill="url(#g183)"/><rect x="250" y="8" width="1" height="321" fill="url(#g184)"/><rect x="251" y="8" width="1" height="321" fill="url(#g185)"/><rect x="252" y="8" width="1" height="321" fill="url(#g186)"/><rect x="253" y="8" width="1" height="321" fill="url(#g187)"/><rect x="254" y="8" width="1" height="321" fill="url(#g188)"/><rect x="255" y="8" width="1" height="321" fill="url(#g189)"/><rect x="256" y="8" width="1" height="321" fill="url(#g190)"/><rect x="257" y="8" width="1" height="321" fill="#ffe8e8"/><rect x="258" y="8" width="1" height="321" fill="url(#g191)"/><rect x="259" y="8" width="1" height="321" fill="url(#g192)"/><rect x="260" y="8" width="1" height="321" fill="url(#g193)"/><rect x="261" y="8" width="1" height="321" fill="url(#g194)"/><rect x="262" y="8" width="1" height="321" fill="url(#g195)"/><rect x="263" y="8" width="1" height="321" fill="url(#g196)"/><rect x="264" y="8" width="1" height="321" fill="url(#g197)"/><rect x="265" y="8" width="1" height="321" fill="url(#g198)"/><rect x="266" y="8" width="1" height="321" fill="url(#g199)"/><rect x="267" y="8" width="1" height="321" fill="url(#g200)"/><rect x="268" y="8" width="1" height="321" fill="url(#g201)"/><rect x="269" y="8" width="1" height="321" fill="url(#g202)"/><rect x="270" y="8" width="1" height="321" fill="url(#g203)"/><rect x="271" y="8" width="1" height="321" fill="url(#g204)"/><rect x="272" y="8" width="1" height="321" fill="url(#g205)"/><rect x="273" y="8" width="1" height="321" fill="url(#g206)"/><rect x="274" y="8" width="1" height="321" fill="url(#g207)"/><rect x="275" y="8" width="1" height="321" fill="#fff0f0"/><rect x="276" y="8" width="1" height="321" fill="#fff1f1"/><rect x="277" y="8" width="1" height="321" fill="url(#g208)"/><rect x="278" y="8" width="1" height="321" fill="url(#g209)"/><rect x="279" y="8" width="1" height="321" fill="url(#g210)"/><rect x="280" y="8" width="1" height="321" fill="url(#g211)"/><rect x="281" y="8" width="1" height="321" fill="url(#g212)"/><rect x="282" y="8" width="1" height="321" fill="#fff2f2"/><rect x="283" y="8" width="1" height="321" fill="#fff3f3"/><rect x="284" y="8" width="1" height="321" fill="url(#g213)"/><rect x="285" y="8" width="1" height="321" fill="url(#g214)"/><rect x="286" y="8" width="2" height="321" fill="url(#g215)"/><rect x="288" y="8" width="1" height="321" fill="url(#g216)"/><rect x="289" y="8" width="1" height="321" fill="url(#g217)"/><rect x="290" y="8" width="1" height="321" fill="url(#g218)"/><rect x="291" y="8" width="2" height="321" fill="url(#g219)"/><rect x="293" y="8" width="1" height="321" fill="#fff5f5"/><rect x="294" y="8" width="1" height="321" fill="url(#g220)"/><rect x="295" y="8" width="1" height="321" fill="url(#g221)"/><rect x="296" y="8" width="1" height="321" fill="url(#g222)"/><rect x="297" y="8" width="1" height="321" fill="url(#g223)"/><rect x="298" y="8" width="1" height="321" fill="url(#g224)"/><rect x="299" y="8" width="1" height="321" fill="url(#g225)"/><rect x="300" y="8" width="1" height="321" fill="url(#g226)"/><rect x="301" y="8" width="1" height="321" fill="url(#g227)"/><rect x="302" y="8" width="1" height="321" fill="url(#g228)"/><rect x="303" y="8" width="1" height="321" fill="url(#g229)"/><rect x="304" y="8" width="1" height="321" fill="url(#g230)"/><rect x="305" y="8" width="1" height="321" fill="url(#g231)"/><rect x="306" y="8" width="1" height="321" fill="url(#g232)"/><rect x="307" y="8" width="1" height="321" fill="url(#g233)"/><rect x="308" y="8" width="1" height="321" fill="url(#g234)"/><rect x="309" y="8" width="1" height="321" fill="url(#g235)"/><rect x="310" y="8" width="1" height="321" fill="url(#g236)"/><rect x="311" y="8" width="1" height="321" fill="url(#g237)"/><rect x="312" y="8" width="1" height="321" fill="url(#g238)"/><rect x="313" y="8" width="1" height="321" fill="url(#g239)"/><rect x="314" y="8" width="1" height="321" fill="url(#g240)"/><rect x="315" y="8" width="1" height="321" fill="url(#g241)"/><rect x="316" y="8" width="1" height="321" fill="#fff6f6"/><rect x="317" y="8" width="1" height="321" fill="url(#g242)"/><rect x="318" y="8" width="1" height="321" fill="url(#g243)"/><rect x="319" y="8" width="1" height="321" fill="url(#g244)"/><rect x="320" y="8" width="1" height="321" fill="url(#g245)"/><rect x="321" y="8" width="1" height="321" fill="url(#g246)"/><rect x="322" y="8" width="1" height="321" fill="url(#g247)"/><rect x="323" y="8" width="1" height="321" fill="url(#g248)"/><rect x="324" y="8" width="1" height="321" fill="#fff2f2"/><rect x="325" y="8" width="1" height="321" fill="url(#g249)"/><rect x="326" y="8" width="1" height="321" fill="url(#g240)"/><rect x="327" y="8" width="1" height="321" fill="url(#g250)"/><rect x="328" y="8" width="1" height="321" fill="url(#g251)"/><rect x="329" y="8" width="1" height="321" fill="url(#g252)"/><rect x="330" y="8" width="1" height="321" fill="url(#g253)"/><rect x="331" y="8" width="1" height="321" fill="url(#g254)"/><rect x="332" y="8" width="1" height="321" fill="url(#g255)"/><rect x="333" y="8" width="1" height="321" fill="url(#g256)"/><rect x="334" y="8" width="1" height="321" fill="url(#g257)"/><rect x="335" y="8" width="1" height="321" fill="url(#g258)"/><rect x="336" y="8" width="1" height="321" fill="url(#g259)"/><rect x="337" y="8" width="1" height="321" fill="url(#g260)"/><rect x="338" y="8" width="1" height="321" fill="url(#g261)"/><rect x="339" y="8" width="1" height="321" fill="url(#g262)"/><rect x="340" y="8" width="1" height="321" fill="url(#g263)"/><rect x="341" y="8" width="1" height="321" fill="url(#g264)"/><rect x="342" y="8" width="1" height="321" fill="url(#g265)"/><rect x="343" y="8" width="1" height="321" fill="url(#g266)"/><rect x="344" y="8" width="1" height="321" fill="url(#g267)"/><rect x="345" y="8" width="1" height="321" fill="url(#g268)"/><rect x="346" y="8" width="1" height="321" fill="url(#g269)"/><rect x="347" y="8" width="1" height="321" fill="url(#g270)"/><rect x="348" y="8" width="1" height="321" fill="url(#g271)"/><rect x="349" y="8" width="1" height="321" fill="url(#g272)"/><rect x="350" y="8" width="1" height="321" fill="url(#g273)"/><rect x="351" y="8" width="1" height="321" fill="#fff5f5"/><rect x="352" y="8" width="1" height="321" fill="url(#g274)"/><rect x="353" y="8" width="1" height="321" fill="url(#g275)"/><rect x="354" y="8" width="1" height="321" fill="url(#g276)"/><rect x="355" y="8" width="1" height="321" fill="url(#g277)"/><rect x="356" y="8" width="1" height="321" fill="url(#g278)"/><rect x="357" y="8" width="1" height="321" fill="url(#g279)"/><rect x="358" y="8" width="1" height="321" fill="url(#g280)"/><rect x="359" y="8" width="1" height="321" fill="url(#g281)"/><rect x="360" y="8" width="1" height="321" fill="url(#g282)"/><rect x="361" y="8" width="1" height="321" fill="url(#g283)"/><rect x="362" y="8" width="1" height="321" fill="url(#g284)"/><rect x="363" y="8" width="1" height="321" fill="url(#g285)"/><rect x="364" y="8" width="1" height="321" fill="url(#g286)"/><rect x="365" y="8" width="1" height="321" fill="url(#g287)"/><rect x="366" y="8" width="1" height="321" fill="url(#g288)"/><rect x="367" y="8" width="1" height="321" fill="url(#g289)"/><rect x="368" y="8" width="1" height="321" fill="url(#g290)"/><rect x="369" y="8" width="1" height="321" fill="url(#g291)"/><rect x="370" y="8" width="1" height="321" fill="url(#g292)"/><rect x="371" y="8" width="1" height="321" fill="url(#g293)"/><rect x="372" y="8" width="1" height="321" fill="url(#g294)"/><rect x="373" y="8" width="1" height="321" fill="url(#g295)"/><rect x="374" y="8" width="1" height="321" fill="url(#g296)"/><rect x="375" y="8" width="1" height="321" fill="url(#g297)"/><rect x="376" y="8" width="1" height="321" fill="url(#g298)"/><rect x="377" y="8" width="1" height="321" fill="url(#g299)"/><rect x="378" y="8" width="1" height="321" fill="url(#g300)"/><rect x="379" y="8" width="1" height="321" fill="url(#g301)"/><rect x="380" y="8" width="1" height="321" fill="url(#g302)"/><rect x="381" y="8" width="1" height="321" fill="url(#g303)"/><rect x="382" y="8" width="1" height="321" fill="url(#g304)"/><rect x="383" y="8" width="1" height="321" fill="url(#g305)"/><rect x="384" y="8" width="1" height="321" fill="url(#g306)"/><rect x="385" y="8" width="1" height="321" fill="url(#g307)"/><rect x="386" y="8" width="1" height="321" fill="url(#g308)"/><rect x="387" y="8" width="1" height="321" fill="url(#g309)"/><rect x="388" y="8" width="1" height="321" fill="url(#g310)"/><rect x="389" y="8" width="1" height="321" fill="url(#g311)"/><rect x="390" y="8" width="1" height="321" fill="#fffafa"/><rect x="391" y="8" width="1" height="321" fill="url(#g312)"/><rect x="392" y="8" width="1" height="321" fill="url(#g313)"/><rect x="393" y="8" width="1" height="321" fill="url(#g314)"/><rect x="394" y="8" width="1" height="321" fill="url(#g315)"/><rect x="395" y="8" width="1" height="321" fill="url(#g316)"/><rect x="396" y="8" width="1" height="321" fill="url(#g317)"/><rect x="397" y="8" width="1" height="321" fill="url(#g318)"/><rect x="398" y="8" width="1" height="321" fill="url(#g319)"/><rect x="399" y="8" width="1" height="321" fill="url(#g320)"/><rect x="400" y="8" width="1" height="321" fill="url(#g321)"/><rect x="401" y="8" width="1" height="321" fill="url(#g322)"/><rect x="402" y="8" width="1" height="321" fill="url(#g323)"/><rect x="403" y="8" width="1" height="321" fill="url(#g324)"/><rect x="404" y="8" width="1" height="321" fill="url(#g325)"/><rect x="405" y="8" width="1" height="321" fill="url(#g326)"/><rect x="406" y="8" width="1" height="321" fill="url(#g327)"/><rect x="407" y="8" width="1" height="321" fill="url(#g328)"/><rect x="408" y="8" width="1" height="321" fill="url(#g329)"/><rect x="409" y="8" width="1" height="321" fill="url(#g330)"/><rect x="410" y="8" width="1" height="321" fill="url(#g331)"/><rect x="411" y="8" width="1" height="321" fill="url(#g332)"/><rect x="412" y="8" width="1" height="321" fill="url(#g333)"/><rect x="413" y="8" width="1" height="321" fill="url(#g315)"/><rect x="414" y="8" width="1" height="321" fill="url(#g334)"/><rect x="415" y="8" width="1" height="321" fill="url(#g335)"/><rect x="416" y="8" width="1" height="321" fill="url(#g336)"/><rect x="417" y="8" width="1" height="321" fill="url(#g337)"/><rect x="418" y="8" width="1" height="321" fill="url(#g338)"/><rect x="419" y="8" width="1" height="321" fill="url(#g339)"/><rect x="420" y="8" width="1" height="321" fill="url(#g340)"/><rect x="421" y="8" width="1" height="321" fill="url(#g341)"/><rect x="422" y="8" width="1" height="321" fill="url(#g342)"/><rect x="423" y="8" width="1" height="321" fill="url(#g343)"/><rect x="424" y="8" width="1" height="321" fill="url(#g344)"/><rect x="425" y="8" width="1" height="321" fill="url(#g345)"/><rect x="426" y="8" width="1" height="321" fill="url(#g346)"/><rect x="427" y="8" width="1" height="321" fill="url(#g347)"/><rect x="428" y="8" width="1" height="321" fill="url(#g348)"/><rect x="429" y="8" width="1" height="321" fill="url(#g349)"/><rect x="430" y="8" width="1" height="321" fill="url(#g350)"/><rect x="431" y="8" width="1" height="321" fill="url(#g351)"/><rect x="432" y="8" width="1" height="321" fill="url(#g352)"/><rect x="433" y="8" width="1" height="321" fill="url(#g353)"/><rect x="434" y="8" width="2" height="321" fill="url(#g354)"/><rect x="436" y="8" width="1" height="321" fill="url(#g355)"/><rect x="437" y="8" width="1" height="321" fill="url(#g356)"/><rect x="438" y="8" width="1" height="321" fill="url(#g357)"/><rect x="439" y="8" width="1" height="321" fill="url(#g315)"/><rect x="440" y="8" width="1" height="321" fill="#fff5f5"/><rect x="441" y="8" width="1" height="321" fill="#fff6f6"/><rect x="442" y="8" width="1" height="321" fill="url(#g358)"/><rect x="443" y="8" width="1" height="321" fill="url(#g359)"/><rect x="444" y="8" width="1" height="321" fill="url(#g360)"/><rect x="445" y="8" width="1" height="321" fill="url(#g361)"/><rect x="446" y="8" width="1" height="321" fill="url(#g362)"/><rect x="447" y="8" width="1" height="321" fill="url(#g363)"/><rect x="448" y="8" width="1" height="321" fill="url(#g364)"/><rect x="449" y="8" width="1" height="321" fill="url(#g365)"/><rect x="450" y="8" width="1" height="321" fill="url(#g366)"/><rect x="451" y="8" width="1" height="321" fill="url(#g367)"/><rect x="452" y="8" width="1" height="321" fill="url(#g368)"/><rect x="453" y="8" width="1" height="321" fill="url(#g369)"/><rect x="454" y="8" width="1" height="321" fill="url(#g370)"/><rect x="455" y="8" width="1" height="321" fill="url(#g371)"/><rect x="456" y="8" width="1" height="321" fill="url(#g372)"/><rect x="457" y="8" width="1" height="321" fill="url(#g373)"/><rect x="458" y="8" width="1" height="321" fill="url(#g374)"/><rect x="459" y="8" width="1" height="321" fill="url(#g375)"/><rect x="460" y="8" width="1" height="321" fill="url(#g376)"/><rect x="461" y="8" width="1" height="321" fill="url(#g377)"/><rect x="462" y="8" width="1" height="321" fill="url(#g378)"/><rect x="463" y="8" width="1" height="321" fill="url(#g379)"/><rect x="464" y="8" width="1" height="321" fill="url(#g380)"/><rect x="465" y="8" width="1" height="321" fill="url(#g381)"/><rect x="466" y="8" width="1" height="321" fill="url(#g382)"/><rect x="467" y="8" width="1" height="321" fill="url(#g383)"/><rect x="468" y="8" width="1" height="321" fill="url(#g384)"/><rect x="469" y="8" width="1" height="321" fill="url(#g385)"/><rect x="470" y="8" width="1" height="321" fill="url(#g386)"/><rect x="471" y="8" width="1" height="321" fill="url(#g387)"/><rect x="472" y="8" width="1" height="321" fill="#fff4f4"/><rect x="473" y="8" width="1" height="321" fill="url(#g388)"/><rect x="474" y="8" width="1" height="321" fill="url(#g389)"/><rect x="475" y="8" width="1" height="321" fill="url(#g390)"/><rect x="476" y="8" width="1" height="321" fill="url(#g391)"/><rect x="477" y="8" width="1" height="321" fill="url(#g392)"/><rect x="478" y="8" width="1" height="321" fill="url(#g393)"/><rect x="479" y="8" width="1" height="321" fill="url(#g394)"/><rect x="480" y="8" width="1" height="321" fill="#fff1f1"/><rect x="481" y="8" width="1" height="321" fill="url(#g395)"/><rect x="482" y="8" width="1" height="321" fill="url(#g396)"/><rect x="483" y="8" width="1" height="321" fill="url(#g397)"/><rect x="484" y="8" width="1" height="321" fill="url(#g398)"/><rect x="485" y="8" width="1" height="321" fill="url(#g399)"/><rect x="486" y="8" width="1" height="321" fill="url(#g400)"/><rect x="487" y="8" width="1" height="321" fill="url(#g401)"/><rect x="488" y="8" width="1" height="321" fill="url(#g402)"/><rect x="489" y="8" width="1" height="321" fill="url(#g403)"/><rect x="490" y="8" width="1" height="321" fill="url(#g404)"/><rect x="491" y="8" width="1" height="321" fill="url(#g405)"/><rect x="492" y="8" width="1" height="321" fill="url(#g406)"/><rect x="493" y="8" width="1" height="321" fill="url(#g407)"/><rect x="494" y="8" width="1" height="321" fill="url(#g408)"/><rect x="495" y="8" width="1" height="321" fill="url(#g409)"/><rect x="496" y="8" width="1" height="321" fill="url(#g410)"/><rect x="497" y="8" width="1" height="321" fill="url(#g411)"/><rect x="498" y="8" width="1" height="321" fill="url(#g412)"/><rect x="499" y="8" width="1" height="321" fill="url(#g413)"/><rect x="500" y="8" width="1" height="321" fill="url(#g414)"/><rect x="501" y="8" width="1" height="321" fill="url(#g415)"/><rect x="502" y="8" width="1" height="321" fill="url(#g416)"/><rect x="503" y="8" width="1" height="321" fill="url(#g417)"/><rect x="504" y="8" width="1" height="321" fill="url(#g418)"/><rect x="505" y="8" width="1" height="321" fill="url(#g419)"/><rect x="506" y="8" width="1" height="321" fill="url(#g420)"/><rect x="507" y="8" width="1" height="321" fill="url(#g421)"/><rect x="508" y="8" width="1" height="321" fill="url(#g422)"/><rect x="509" y="8" width="1" height="321" fill="url(#g423)"/><rect x="510" y="8" width="1" height="321" fill="url(#g424)"/><rect x="511" y="8" width="1" height="321" fill="url(#g425)"/><rect x="512" y="8" width="1" height="321" fill="url(#g426)"/><rect x="513" y="8" width="1" height="321" fill="url(#g427)"/><rect x="514" y="8" width="1" height="321" fill="url(#g428)"/><rect x="515" y="8" width="1" height="321" fill="url(#g429)"/><rect x="516" y="8" width="1" height="321" fill="#fff4f4"/><rect x="517" y="8" width="1" height="321" fill="url(#g430)"/><rect x="518" y="8" width="1" height="321" fill="url(#g431)"/><rect x="519" y="8" width="1" height="321" fill="url(#g432)"/><rect x="520" y="8" width="1" height="321" fill="url(#g433)"/><rect x="521" y="8" width="1" height="321" fill="url(#g434)"/><rect x="522" y="8" width="1" height="321" fill="url(#g435)"/><rect x="523" y="8" width="1" height="321" fill="#fff5f5"/><rect x="524" y="8" width="1" height="321" fill="url(#g436)"/><rect x="525" y="8" width="1" height="321" fill="url(#g422)"/><rect x="526" y="8" width="1" height="321" fill="url(#g437)"/><rect x="527" y="8" width="1" height="321" fill="url(#g438)"/><rect x="528" y="8" width="1" height="321" fill="url(#g439)"/><rect x="529" y="8" width="1" height="321" fill="url(#g440)"/><rect x="530" y="8" width="1" height="321" fill="url(#g441)"/><rect x="531" y="8" width="1" height="321" fill="url(#g442)"/><rect x="532" y="8" width="1" height="321" fill="url(#g443)"/><rect x="533" y="8" width="1" height="321" fill="url(#g444)"/><rect x="534" y="8" width="1" height="321" fill="url(#g445)"/><rect x="535" y="8" width="1" height="321" fill="url(#g446)"/><rect x="536" y="8" width="1" height="321" fill="url(#g447)"/><rect x="537" y="8" width="1" height="321" fill="#fffbfb"/><rect x="538" y="8" width="1" height="321" fill="url(#g434)"/><rect x="539" y="8" width="1" height="321" fill="url(#g448)"/><rect x="540" y="8" width="1" height="321" fill="url(#g449)"/><rect x="541" y="8" width="1" height="321" fill="url(#g450)"/><rect x="542" y="8" width="1" height="321" fill="url(#g451)"/><rect x="543" y="8" width="1" height="321" fill="url(#g452)"/><rect x="544" y="8" width="1" height="321" fill="url(#g453)"/><rect x="545" y="8" width="1" height="321" fill="#fffbfb"/><rect x="546" y="8" width="1" height="321" fill="#fffafa"/><rect x="547" y="8" width="2" height="321" fill="url(#g451)"/><rect x="549" y="8" width="1" height="321" fill="url(#g454)"/><rect x="550" y="8" width="1" height="321" fill="url(#g455)"/><rect x="551" y="8" width="1" height="321" fill="url(#g456)"/><rect x="552" y="8" width="1" height="321" fill="url(#g457)"/><rect x="553" y="8" width="1" height="321" fill="url(#g458)"/><rect x="554" y="8" width="1" height="321" fill="url(#g459)"/><rect x="555" y="8" width="1" height="321" fill="url(#g460)"/><rect x="556" y="8" width="1" height="321" fill="url(#g461)"/><rect x="557" y="8" width="1" height="321" fill="url(#g462)"/><rect x="558" y="8" width="1" height="321" fill="url(#g463)"/><rect x="559" y="8" width="1" height="321" fill="url(#g464)"/><rect x="560" y="8" width="1" height="321" fill="url(#g465)"/><rect x="561" y="8" width="1" height="321" fill="url(#g466)"/><rect x="562" y="8" width="1" height="321" fill="url(#g467)"/><rect x="563" y="8" width="1" height="321" fill="url(#g468)"/><rect x="564" y="8" width="1" height="321" fill="url(#g469)"/><rect x="565" y="8" width="1" height="321" fill="url(#g470)"/><rect x="566" y="8" width="1" height="321" fill="url(#g471)"/><rect x="567" y="8" width="1" height="321" fill="url(#g472)"/><rect x="568" y="8" width="1" height="321" fill="url(#g473)"/><rect x="569" y="8" width="1" height="321" fill="url(#g474)"/><rect x="570" y="8" width="1" height="321" fill="url(#g475)"/><rect x="571" y="8" width="1" height="321" fill="url(#g476)"/><rect x="572" y="8" width="1" height="321" fill="url(#g477)"/><rect x="573" y="8" width="1" height="321" fill="url(#g478)"/><rect x="574" y="8" width="4" height="321" fill="#fffbfb"/><rect x="578" y="8" width="1" height="321" fill="#fffafa"/><rect x="579" y="8" width="1" height="321" fill="#fff7f7"/><rect x="580" y="8" width="1" height="321" fill="url(#g479)"/><rect x="581" y="8" width="1" height="321" fill="url(#g480)"/><rect x="582" y="8" width="1" height="321" fill="url(#g481)"/><rect x="583" y="8" width="1" height="321" fill="#fff8f8"/><rect x="584" y="8" width="3" height="321" fill="#fffbfb"/></g><defs><linearGradient id="cb" x1="0" y1="0" x2="0" y2="1"><stop offset="0" stop-color="#9600f0"/><stop offset="0.0588235" stop-color="#5a00ff"/><stop offset="0.105882" stop-color="#0000ff"/><stop offset="0.158824" stop-color="#001eff"/><stop offset="0.217647" stop-color="#005aff"/><stop offset="0.282353" stop-color="#00aaff"/><stop offset="0.335294" stop-color="#00f0fa"/><stop offset="0.376471" stop-color="#2debd7"/><stop offset="0.411765" stop-color="#5febaa"/><stop offset="0.470588" stop-color="#aff05f"/><stop offset="0.529412" stop-color="#faf500"/><stop offset="0.588235" stop-color="#ffcd00"/><stop offset="0.647059" stop-color="#ff8c00"/><stop offset="0.705882" stop-color="#ff4600"/><stop offset="0.764706" stop-color="#ff0000"/><stop offset="0.823529" stop-color="#ff5555"/><stop offset="0.882353" stop-color="#ff9c9c"/><stop offset="0.941176" stop-color="#ffdede"/><stop offset="0.973529" stop-color="#fffcfc"/><stop offset="1" stop-color="#ffffff"/></linearGradient></defs><path d="M181.20 109.35h6.80M194.68 109.35h6.80M208.16 109.35h6.80M221.64 109.35h6.80M235.12 109.35h6.80M248.60 109.35h6.80M262.08 109.35h6.80M275.56 109.35h6.80M289.04 109.35h6.80M302.52 109.35h6.80M316.00 109.35h6.80M329.48 109.35h6.80M342.96 109.35h6.80M356.44 109.35h6.80M369.92 109.35h6.80M383.40 109.35h6.80M396.88 109.35h6.80M410.36 109.35h6.80M423.84 109.35h6.80M444.10 109.35h6.80M457.50 109.35h6.80M470.90 109.35h6.80M484.30 109.35h6.80M497.70 109.35h6.80M511.10 109.35h6.80M524.50 109.35h6.80M537.90 109.35h6.80M551.30 109.35h6.80M564.70 109.35h6.80M578.10 109.35h6.80M67.30 208.45h6.80M80.74 208.45h6.80M94.18 208.45h6.80M107.62 208.45h6.80M121.06 208.45h6.80M134.50 208.45h6.80M147.94 208.45h6.80M161.38 208.45h6.80M174.82 208.45h6.80M194.10 208.45h6.80M207.58 208.45h6.80M221.06 208.45h6.80M234.54 208.45h6.80M248.02 208.45h6.80M261.50 208.45h6.80M274.98 208.45h6.80M288.46 208.45h6.80M301.94 208.45h6.80M315.42 208.45h6.80M328.90 208.45h6.80M342.38 208.45h6.80M355.86 208.45h6.80M369.34 208.45h6.80M382.82 208.45h6.80M396.30 208.45h6.80M409.78 208.45h6.80M423.26 208.45h6.80M443.30 208.45h6.80M456.75 208.45h6.80M470.20 208.45h6.80M483.65 208.45h6.80M497.10 208.45h6.80M510.55 208.45h6.80M524.00 208.45h6.80M537.45 208.45h6.80M550.90 208.45h6.80M564.35 208.45h6.80M577.80 208.45h6.80" stroke="#000" stroke-width="2.00" fill="none"/><rect x="65.60" y="8.40" width="521.30" height="320.40" fill="none" stroke="#000" stroke-width="1.40"/><path d="M94.56 328.80v-4.00M123.52 328.80v-7.00M152.48 328.80v-4.00M181.44 328.80v-7.00M210.41 328.80v-4.00M239.37 328.80v-7.00M268.33 328.80v-4.00M297.29 328.80v-7.00M326.25 328.80v-4.00M355.21 328.80v-7.00M384.17 328.80v-4.00M413.13 328.80v-7.00M442.09 328.80v-4.00M471.06 328.80v-7.00M500.02 328.80v-4.00M528.98 328.80v-7.00M557.94 328.80v-4.00M65.60 308.78h4.00M65.60 288.75h7.00M65.60 268.73h4.00M65.60 248.70h7.00M65.60 228.68h4.00M65.60 208.65h7.00M65.60 188.62h4.00M65.60 168.60h7.00M65.60 148.57h4.00M65.60 128.55h7.00M65.60 108.52h4.00M65.60 88.50h7.00M65.60 68.47h4.00M65.60 48.45h7.00M65.60 28.42h4.00" stroke="#000" stroke-width="1.40" fill="none"/><rect x="592.00" y="7.80" width="27.00" height="328.90" fill="url(#cb)"/><path d="M619.30 8.30V336.70M619.30 336.70h-7.50M619.30 317.38h-4.00M619.30 298.06h-7.50M619.30 278.75h-4.00M619.30 259.43h-7.50M619.30 240.11h-4.00M619.30 220.79h-7.50M619.30 201.48h-4.00M619.30 182.16h-7.50M619.30 162.84h-4.00M619.30 143.52h-7.50M619.30 124.21h-4.00M619.30 104.89h-7.50M619.30 85.57h-4.00M619.30 66.25h-7.50M619.30 46.94h-4.00M619.30 27.62h-7.50M619.30 8.30h-4.00" stroke="#000" stroke-width="1.50" fill="none"/><line x1="97.90" y1="31.10" x2="112.65" y2="54.20" stroke="#000" stroke-width="1.70"/><path d="M116.60 60.40L108.00 53.43L112.30 53.66L113.90 49.67Z" fill="#000"/><line x1="154.20" y1="56.50" x2="131.58" y2="69.45" stroke="#000" stroke-width="1.70"/><path d="M125.20 73.10L132.57 64.85L132.14 69.13L136.05 70.92Z" fill="#000"/><line x1="96.10" y1="106.70" x2="108.30" y2="128.39" stroke="#000" stroke-width="1.70"/><path d="M111.90 134.80L103.70 127.36L107.98 127.83L109.80 123.93Z" fill="#000"/><line x1="98.50" y1="165.90" x2="83.59" y2="186.63" stroke="#000" stroke-width="1.70"/><path d="M79.30 192.60L82.59 182.03L83.97 186.10L88.27 186.12Z" fill="#000"/><line x1="103.00" y1="165.90" x2="117.40" y2="186.57" stroke="#000" stroke-width="1.70"/><path d="M121.60 192.60L112.73 185.99L117.03 186.04L118.47 181.98Z" fill="#000"/><line x1="157.60" y1="168.80" x2="173.65" y2="187.08" stroke="#000" stroke-width="1.70"/><path d="M178.50 192.60L168.94 187.02L173.22 186.59L174.20 182.40Z" fill="#000"/><line x1="200.40" y1="144.30" x2="220.04" y2="161.29" stroke="#000" stroke-width="1.70"/><path d="M225.60 166.10L215.37 161.88L219.55 160.87L219.95 156.58Z" fill="#000"/><line x1="277.00" y1="29.00" x2="252.33" y2="39.84" stroke="#000" stroke-width="1.70"/><path d="M245.60 42.80L253.80 35.37L252.92 39.58L256.62 41.78Z" fill="#000"/><line x1="281.40" y1="31.10" x2="266.78" y2="52.99" stroke="#000" stroke-width="1.70"/><path d="M262.70 59.10L265.62 48.42L267.14 52.45L271.44 52.31Z" fill="#000"/><line x1="309.20" y1="27.30" x2="326.38" y2="47.05" stroke="#000" stroke-width="1.70"/><path d="M331.20 52.60L321.67 46.97L325.95 46.56L326.95 42.38Z" fill="#000"/><line x1="295.60" y1="65.90" x2="285.16" y2="79.56" stroke="#000" stroke-width="1.70"/><path d="M280.70 85.40L284.29 74.93L285.56 79.04L289.86 79.18Z" fill="#000"/><line x1="265.80" y1="181.60" x2="240.04" y2="187.86" stroke="#000" stroke-width="1.70"/><path d="M232.90 189.60L242.28 183.72L240.67 187.71L243.93 190.52Z" fill="#000"/><line x1="521.00" y1="33.10" x2="502.73" y2="51.84" stroke="#000" stroke-width="1.70"/><path d="M497.60 57.10L502.42 47.14L503.18 51.37L507.44 52.03Z" fill="#000"/><line x1="529.20" y1="33.60" x2="548.65" y2="52.66" stroke="#000" stroke-width="1.70"/><path d="M553.90 57.80L543.95 52.95L548.19 52.20L548.85 47.95Z" fill="#000"/><line x1="538.60" y1="87.60" x2="562.73" y2="98.80" stroke="#000" stroke-width="1.70"/><path d="M569.40 101.90L558.40 100.65L562.14 98.53L561.35 94.30Z" fill="#000"/><line x1="201.70" y1="259.90" x2="190.89" y2="283.23" stroke="#000" stroke-width="1.70"/><path d="M187.80 289.90L189.04 278.90L191.16 282.64L195.39 281.84Z" fill="#000"/><line x1="146.80" y1="303.40" x2="168.45" y2="319.85" stroke="#000" stroke-width="1.70"/><path d="M174.30 324.30L163.82 320.73L167.93 319.46L168.06 315.16Z" fill="#000"/><line x1="213.90" y1="310.50" x2="189.90" y2="320.32" stroke="#000" stroke-width="1.70"/><path d="M183.10 323.10L191.49 315.88L190.50 320.07L194.14 322.36Z" fill="#000"/><line x1="305.60" y1="292.50" x2="327.73" y2="308.41" stroke="#000" stroke-width="1.70"/><path d="M333.70 312.70L323.13 309.41L327.20 308.03L327.22 303.73Z" fill="#000"/><line x1="472.90" y1="285.50" x2="489.04" y2="306.66" stroke="#000" stroke-width="1.70"/><path d="M493.50 312.50L484.35 306.28L488.65 306.14L489.91 302.03Z" fill="#000"/><text x="71.00" y="29.40" font-family="Liberation Serif" font-weight="bold" font-size="19.20" fill="#0000ff" stroke="#0000ff" stroke-width="0.35" text-anchor="start"><tspan dy="-0.00" font-size="19.20">CuO.CuSO</tspan><tspan dy="6.30" font-size="11.70">4</tspan></text><text x="130.20" y="54.50" font-family="Liberation Serif" font-weight="bold" font-size="19.20" fill="#0000ff" stroke="#0000ff" stroke-width="0.35" text-anchor="start"><tspan dy="-0.00" font-size="19.20">NiSO</tspan><tspan dy="6.30" font-size="11.70">4</tspan></text><text x="193.00" y="32.90" font-family="Liberation Serif" font-weight="bold" font-size="19.20" fill="#0000ff" stroke="#0000ff" stroke-width="0.35" text-anchor="start"><tspan dy="-0.00" font-size="19.20">Fe</tspan><tspan dy="6.30" font-size="11.70">2</tspan><tspan dy="-6.30" font-size="19.20">O</tspan><tspan dy="6.30" font-size="11.70">3</tspan></text><text x="266.00" y="23.80" font-family="Liberation Serif" font-weight="bold" font-size="19.20" fill="#0000ff" stroke="#0000ff" stroke-width="0.35" text-anchor="start"><tspan dy="-0.00" font-size="19.20">Spinel</tspan></text><text x="160.60" y="85.80" font-family="Liberation Serif" font-weight="bold" font-size="19.20" fill="#0000ff" stroke="#0000ff" stroke-width="0.35" text-anchor="start"><tspan dy="-0.00" font-size="19.20">Spinel</tspan></text><text x="278.30" y="63.70" font-family="Liberation Serif" font-weight="bold" font-size="19.20" fill="#0000ff" stroke="#0000ff" stroke-width="0.35" text-anchor="start"><tspan dy="-0.00" font-size="19.20">NiSO</tspan><tspan dy="6.30" font-size="11.70">4</tspan></text><text x="248.70" y="104.10" font-family="Liberation Serif" font-weight="bold" font-size="19.20" fill="#0000ff" stroke="#0000ff" stroke-width="0.35" text-anchor="start"><tspan dy="-0.00" font-size="19.20">NiO</tspan></text><text x="314.40" y="99.10" font-family="Liberation Serif" font-weight="bold" font-size="19.20" fill="#0000ff" stroke="#0000ff" stroke-width="0.35" text-anchor="start"><tspan dy="-0.00" font-size="19.20">NiO</tspan></text><text x="379.40" y="89.80" font-family="Liberation Serif" font-weight="bold" font-size="19.20" fill="#0000ff" stroke="#0000ff" stroke-width="0.35" text-anchor="start"><tspan dy="-0.00" font-size="19.20">Fe</tspan><tspan dy="6.30" font-size="11.70">2</tspan><tspan dy="-6.30" font-size="19.20">O</tspan><tspan dy="6.30" font-size="11.70">3</tspan></text><text x="500.60" y="29.40" font-family="Liberation Serif" font-weight="bold" font-size="19.20" fill="#0000ff" stroke="#0000ff" stroke-width="0.35" text-anchor="start"><tspan dy="-0.00" font-size="19.20">Spinel</tspan></text><text x="505.30" y="83.80" font-family="Liberation Serif" font-weight="bold" font-size="19.20" fill="#0000ff" stroke="#0000ff" stroke-width="0.35" text-anchor="start"><tspan dy="-0.00" font-size="19.20">Fe</tspan><tspan dy="6.30" font-size="11.70">2</tspan><tspan dy="-6.30" font-size="19.20">O</tspan><tspan dy="6.30" font-size="11.70">3</tspan></text><text x="67.80" y="103.90" font-family="Liberation Serif" font-weight="bold" font-size="19.20" fill="#0000ff" stroke="#0000ff" stroke-width="0.35" text-anchor="start"><tspan dy="-0.00" font-size="19.20">Fe</tspan><tspan dy="6.30" font-size="11.70">2</tspan><tspan dy="-6.30" font-size="19.20">O</tspan><tspan dy="6.30" font-size="11.70">3</tspan></text><text x="135.40" y="137.90" font-family="Liberation Serif" font-weight="bold" font-size="19.20" fill="#0000ff" stroke="#0000ff" stroke-width="0.35" text-anchor="start"><tspan dy="-0.00" font-size="19.20">Fe</tspan><tspan dy="6.30" font-size="11.70">2</tspan><tspan dy="-6.30" font-size="19.20">(SO</tspan><tspan dy="6.30" font-size="11.70">4</tspan><tspan dy="-6.30" font-size="19.20">)</tspan><tspan dy="6.30" font-size="11.70">3</tspan></text><text x="282.10" y="136.90" font-family="Liberation Serif" font-weight="bold" font-size="19.20" fill="#0000ff" stroke="#0000ff" stroke-width="0.35" text-anchor="start"><tspan dy="-0.00" font-size="19.20">Fe</tspan><tspan dy="6.30" font-size="11.70">2</tspan><tspan dy="-6.30" font-size="19.20">O</tspan><tspan dy="6.30" font-size="11.70">3</tspan></text><text x="435.60" y="128.90" font-family="Liberation Serif" font-weight="bold" font-size="19.20" fill="#0000ff" stroke="#0000ff" stroke-width="0.35" text-anchor="start"><tspan dy="-0.00" font-size="19.20">Fe</tspan><tspan dy="6.30" font-size="11.70">2</tspan><tspan dy="-6.30" font-size="19.20">O</tspan><tspan dy="6.30" font-size="11.70">3</tspan></text><text x="529.40" y="127.50" font-family="Liberation Serif" font-weight="bold" font-size="19.20" fill="#0000ff" stroke="#0000ff" stroke-width="0.35" text-anchor="start"><tspan dy="-0.00" font-size="19.20">650 </tspan><tspan dy="-7.00" font-size="11.70">o</tspan><tspan dy="7.00" font-size="19.20">C</tspan></text><text x="70.80" y="163.50" font-family="Liberation Serif" font-weight="bold" font-size="19.20" fill="#0000ff" stroke="#0000ff" stroke-width="0.35" text-anchor="start"><tspan dy="-0.00" font-size="19.20">CuSO</tspan><tspan dy="6.30" font-size="11.70">4</tspan></text><text x="139.00" y="166.80" font-family="Liberation Serif" font-weight="bold" font-size="19.20" fill="#0000ff" stroke="#0000ff" stroke-width="0.35" text-anchor="start"><tspan dy="-0.00" font-size="19.20">NiS</tspan></text><text x="339.80" y="175.10" font-family="Liberation Serif" font-weight="bold" font-size="19.20" fill="#0000ff" stroke="#0000ff" stroke-width="0.35" text-anchor="start"><tspan dy="-0.00" font-size="19.20">NiS</tspan></text><text x="267.20" y="187.60" font-family="Liberation Serif" font-weight="bold" font-size="19.20" fill="#0000ff" stroke="#0000ff" stroke-width="0.35" text-anchor="start"><tspan dy="-0.00" font-size="19.20">NiS</tspan></text><text x="529.40" y="225.70" font-family="Liberation Serif" font-weight="bold" font-size="19.20" fill="#0000ff" stroke="#0000ff" stroke-width="0.35" text-anchor="start"><tspan dy="-0.00" font-size="19.20">400 </tspan><tspan dy="-7.00" font-size="11.70">o</tspan><tspan dy="7.00" font-size="19.20">C</tspan></text><text x="206.20" y="230.00" font-family="Liberation Serif" font-weight="bold" font-size="19.20" fill="#0000ff" stroke="#0000ff" stroke-width="0.35" text-anchor="start"><tspan dy="-0.00" font-size="19.20">Py</tspan></text><text x="190.40" y="257.00" font-family="Liberation Serif" font-weight="bold" font-size="19.20" fill="#0000ff" stroke="#0000ff" stroke-width="0.35" text-anchor="start"><tspan dy="-0.00" font-size="19.20">Pn</tspan></text><text x="226.80" y="272.00" font-family="Liberation Serif" font-weight="bold" font-size="19.20" fill="#0000ff" stroke="#0000ff" stroke-width="0.35" text-anchor="start"><tspan dy="-0.00" font-size="19.20">Mag</tspan></text><text x="84.20" y="299.60" font-family="Liberation Serif" font-weight="bold" font-size="19.20" fill="#0000ff" stroke="#0000ff" stroke-width="0.35" text-anchor="start"><tspan dy="-0.00" font-size="19.20">Pn &amp; Ccp</tspan></text><text x="197.20" y="308.60" font-family="Liberation Serif" font-weight="bold" font-size="19.20" fill="#0000ff" stroke="#0000ff" stroke-width="0.35" text-anchor="start"><tspan dy="-0.00" font-size="19.20">Mag</tspan></text><text x="284.70" y="290.90" font-family="Liberation Serif" font-weight="bold" font-size="19.20" fill="#0000ff" stroke="#0000ff" stroke-width="0.35" text-anchor="start"><tspan dy="-0.00" font-size="19.20">Mag</tspan></text><text x="334.40" y="294.40" font-family="Liberation Serif" font-weight="bold" font-size="19.20" fill="#0000ff" stroke="#0000ff" stroke-width="0.35" text-anchor="start"><tspan dy="-0.00" font-size="19.20">Po</tspan></text><text x="361.30" y="270.70" font-family="Liberation Serif" font-weight="bold" font-size="19.20" fill="#0000ff" stroke="#0000ff" stroke-width="0.35" text-anchor="start"><tspan dy="-0.00" font-size="19.20">Pn</tspan></text><text x="382.80" y="287.80" font-family="Liberation Serif" font-weight="bold" font-size="19.20" fill="#0000ff" stroke="#0000ff" stroke-width="0.35" text-anchor="start"><tspan dy="-0.00" font-size="19.20">Ccp</tspan></text><text x="410.90" y="258.40" font-family="Liberation Serif" font-weight="bold" font-size="19.20" fill="#0000ff" stroke="#0000ff" stroke-width="0.35" text-anchor="start"><tspan dy="-0.00" font-size="19.20">Pn</tspan></text><text x="452.30" y="284.00" font-family="Liberation Serif" font-weight="bold" font-size="19.20" fill="#0000ff" stroke="#0000ff" stroke-width="0.35" text-anchor="start"><tspan dy="-0.00" font-size="19.20">Mag</tspan></text><text x="495.00" y="292.70" font-family="Liberation Serif" font-weight="bold" font-size="19.20" fill="#0000ff" stroke="#0000ff" stroke-width="0.35" text-anchor="start"><tspan dy="-0.00" font-size="19.20">Ccp</tspan></text><text x="540.80" y="281.70" font-family="Liberation Serif" font-weight="bold" font-size="19.20" fill="#0000ff" stroke="#0000ff" stroke-width="0.35" text-anchor="start"><tspan dy="-0.00" font-size="19.20">Mag</tspan></text><text x="65.60" y="351.30" font-family="Liberation Serif" font-weight="bold" font-size="19.50" fill="#000" text-anchor="middle">20</text><text x="123.52" y="351.30" font-family="Liberation Serif" font-weight="bold" font-size="19.50" fill="#000" text-anchor="middle">25</text><text x="181.44" y="351.30" font-family="Liberation Serif" font-weight="bold" font-size="19.50" fill="#000" text-anchor="middle">30</text><text x="239.37" y="351.30" font-family="Liberation Serif" font-weight="bold" font-size="19.50" fill="#000" text-anchor="middle">35</text><text x="297.29" y="351.30" font-family="Liberation Serif" font-weight="bold" font-size="19.50" fill="#000" text-anchor="middle">40</text><text x="355.21" y="351.30" font-family="Liberation Serif" font-weight="bold" font-size="19.50" fill="#000" text-anchor="middle">45</text><text x="413.13" y="351.30" font-family="Liberation Serif" font-weight="bold" font-size="19.50" fill="#000" text-anchor="middle">50</text><text x="471.06" y="351.30" font-family="Liberation Serif" font-weight="bold" font-size="19.50" fill="#000" text-anchor="middle">55</text><text x="528.98" y="351.30" font-family="Liberation Serif" font-weight="bold" font-size="19.50" fill="#000" text-anchor="middle">60</text><text x="586.90" y="351.30" font-family="Liberation Serif" font-weight="bold" font-size="19.50" fill="#000" text-anchor="middle">65</text><text x="58.50" y="335.40" font-family="Liberation Serif" font-weight="bold" font-size="19.50" fill="#000" text-anchor="end">100</text><text x="58.50" y="295.35" font-family="Liberation Serif" font-weight="bold" font-size="19.50" fill="#000" text-anchor="end">200</text><text x="58.50" y="255.30" font-family="Liberation Serif" font-weight="bold" font-size="19.50" fill="#000" text-anchor="end">300</text><text x="58.50" y="215.25" font-family="Liberation Serif" font-weight="bold" font-size="19.50" fill="#000" text-anchor="end">400</text><text x="58.50" y="175.20" font-family="Liberation Serif" font-weight="bold" font-size="19.50" fill="#000" text-anchor="end">500</text><text x="58.50" y="135.15" font-family="Liberation Serif" font-weight="bold" font-size="19.50" fill="#000" text-anchor="end">600</text><text x="58.50" y="95.10" font-family="Liberation Serif" font-weight="bold" font-size="19.50" fill="#000" text-anchor="end">700</text><text x="58.50" y="55.05" font-family="Liberation Serif" font-weight="bold" font-size="19.50" fill="#000" text-anchor="end">800</text><text x="58.50" y="15.00" font-family="Liberation Serif" font-weight="bold" font-size="19.50" fill="#000" text-anchor="end">900</text><text x="626.50" y="343.30" font-family="Liberation Serif" font-weight="bold" font-size="20.00" fill="#000" text-anchor="start">0</text><text x="626.50" y="304.66" font-family="Liberation Serif" font-weight="bold" font-size="20.00" fill="#000" text-anchor="start">2</text><text x="626.50" y="266.03" font-family="Liberation Serif" font-weight="bold" font-size="20.00" fill="#000" text-anchor="start">4</text><text x="626.50" y="227.39" font-family="Liberation Serif" font-weight="bold" font-size="20.00" fill="#000" text-anchor="start">6</text><text x="626.50" y="188.76" font-family="Liberation Serif" font-weight="bold" font-size="20.00" fill="#000" text-anchor="start">8</text><text x="626.50" y="150.12" font-family="Liberation Serif" font-weight="bold" font-size="20.00" fill="#000" text-anchor="start">10</text><text x="626.50" y="111.49" font-family="Liberation Serif" font-weight="bold" font-size="20.00" fill="#000" text-anchor="start">12</text><text x="626.50" y="72.85" font-family="Liberation Serif" font-weight="bold" font-size="20.00" fill="#000" text-anchor="start">14</text><text x="626.50" y="34.22" font-family="Liberation Serif" font-weight="bold" font-size="20.00" fill="#000" text-anchor="start">16</text><text x="326.30" y="376.10" font-family="Liberation Serif" font-size="19.00" fill="#000" text-anchor="middle"><tspan font-weight="bold">2</tspan><tspan font-size="20.52">&#952;</tspan> (&#176;)</text><text x="326.40" y="400.30" font-family="Liberation Serif" font-weight="bold" font-size="19.30" fill="#000" text-anchor="middle">Cu Wavelength=0.154060 nm</text><text transform="translate(15.60 182.75) rotate(-90)" font-family="Liberation Serif" font-weight="bold" font-size="20.80" fill="#000" text-anchor="middle">Temperature (&#176;C)</text><text transform="translate(669.80 276.00) rotate(-90)" font-family="Liberation Serif" font-weight="bold" font-size="22.20" fill="#000" text-anchor="start"><tspan letter-spacing="0.50">Intensity</tspan> <tspan dx="-3.00" font-size="20.70">(counts&#215;10</tspan><tspan dy="-9.00" font-size="11.00">3</tspan><tspan dy="9.00" font-size="20.70">)</tspan></text></svg>
</body></html>
